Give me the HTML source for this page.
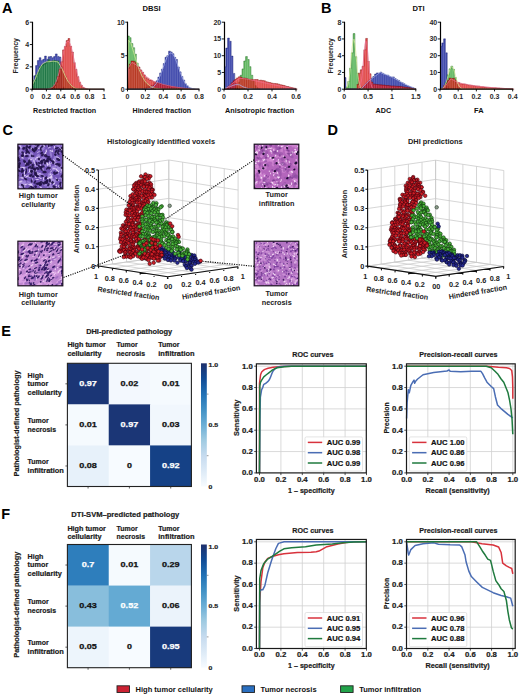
<!DOCTYPE html>
<html><head><meta charset="utf-8"><style>
html,body{margin:0;padding:0;background:#fff;}
svg{display:block;font-family:"Liberation Sans", sans-serif;}
</style></head><body>
<svg width="520" height="695" viewBox="0 0 520 695">
<rect width="520" height="695" fill="#fff"/>
<text x="2" y="13.22" font-size="14.5" font-weight="bold" text-anchor="start" fill="#000">A</text>
<text x="321" y="13.22" font-size="14.5" font-weight="bold" text-anchor="start" fill="#000">B</text>
<text x="2.5" y="134.72" font-size="14.5" font-weight="bold" text-anchor="start" fill="#000">C</text>
<text x="327.5" y="135.22" font-size="14.5" font-weight="bold" text-anchor="start" fill="#000">D</text>
<text x="1.3" y="336.22" font-size="14.5" font-weight="bold" text-anchor="start" fill="#000">E</text>
<text x="1.3" y="518.72" font-size="14.5" font-weight="bold" text-anchor="start" fill="#000">F</text>
<text x="151.5" y="10.54" font-size="7.6" font-weight="bold" text-anchor="middle" fill="#111">DBSI</text>
<text x="418.5" y="10.54" font-size="7.6" font-weight="bold" text-anchor="middle" fill="#111">DTI</text>
<polygon points="32,89.2 32,83.6 33.8,83.6 33.8,75.78 35.6,75.78 35.6,65.61 37.4,65.61 37.4,60.6 39.2,60.6 39.2,57.73 41,57.73 41,60.43 42.8,60.43 42.8,59.33 44.6,59.33 44.6,56.09 46.4,56.09 46.4,59.27 48.2,59.27 48.2,56.73 50,56.73 50,56.5 51.8,56.5 51.8,57.74 53.6,57.74 53.6,56.59 55.4,56.59 55.4,53.91 57.2,53.91 57.2,56.38 59,56.38 59,57.03 60.8,57.03 60.8,66.75 62.6,66.75 62.6,86.99 64.4,86.99 64.4,89.2" fill="rgb(48,58,166)" stroke="none" stroke-width="1" fill-opacity="0.94"/>
<polyline points="32,83.6 33.8,83.6 33.8,75.78 35.6,75.78 35.6,65.61 37.4,65.61 37.4,60.6 39.2,60.6 39.2,57.73 41,57.73 41,60.43 42.8,60.43 42.8,59.33 44.6,59.33 44.6,56.09 46.4,56.09 46.4,59.27 48.2,59.27 48.2,56.73 50,56.73 50,56.5 51.8,56.5 51.8,57.74 53.6,57.74 53.6,56.59 55.4,56.59 55.4,53.91 57.2,53.91 57.2,56.38 59,56.38 59,57.03 60.8,57.03 60.8,66.75 62.6,66.75 62.6,86.99 64.4,86.99" fill="none" stroke="#1c2270" stroke-width="0.55" stroke-opacity="0.8"/>
<path d="M33.8 84.2V89.2M35.6 76.38V89.2M37.4 66.21V89.2M39.2 61.2V89.2M41 58.33V89.2M42.8 61.03V89.2M44.6 59.93V89.2M46.4 56.69V89.2M48.2 59.87V89.2M50 57.33V89.2M51.8 57.1V89.2M53.6 58.34V89.2M55.4 57.19V89.2M57.2 54.51V89.2M59 56.98V89.2M60.8 57.63V89.2M62.6 67.35V89.2M64.4 87.59V89.2" stroke="#fff" stroke-width="0.45" stroke-opacity="0.42" fill="none"/>
<polygon points="32,89.2 32,83.85 33.8,83.85 33.8,80.1 35.6,80.1 35.6,75.03 37.4,75.03 37.4,72.31 39.2,72.31 39.2,66.78 41,66.78 41,65.53 42.8,65.53 42.8,64.08 44.6,64.08 44.6,63.1 46.4,63.1 46.4,61.79 48.2,61.79 48.2,59.79 50,59.79 50,61.95 51.8,61.95 51.8,60.87 53.6,60.87 53.6,60.53 55.4,60.53 55.4,60.89 57.2,60.89 57.2,60.94 59,60.94 59,65 60.8,65 60.8,68.97 62.6,68.97 62.6,72.64 64.4,72.64 64.4,75.87 66.2,75.87 66.2,79.72 68,79.72 68,82.65 69.8,82.65 69.8,84.69 71.6,84.69 71.6,86.48 73.4,86.48 73.4,87.73 75.2,87.73 75.2,88.56 77,88.56 77,89.2" fill="rgb(0,140,0)" stroke="none" stroke-width="1" fill-opacity="0.62"/>
<polyline points="32,83.85 33.8,83.85 33.8,80.1 35.6,80.1 35.6,75.03 37.4,75.03 37.4,72.31 39.2,72.31 39.2,66.78 41,66.78 41,65.53 42.8,65.53 42.8,64.08 44.6,64.08 44.6,63.1 46.4,63.1 46.4,61.79 48.2,61.79 48.2,59.79 50,59.79 50,61.95 51.8,61.95 51.8,60.87 53.6,60.87 53.6,60.53 55.4,60.53 55.4,60.89 57.2,60.89 57.2,60.94 59,60.94 59,65 60.8,65 60.8,68.97 62.6,68.97 62.6,72.64 64.4,72.64 64.4,75.87 66.2,75.87 66.2,79.72 68,79.72 68,82.65 69.8,82.65 69.8,84.69 71.6,84.69 71.6,86.48 73.4,86.48 73.4,87.73 75.2,87.73 75.2,88.56 77,88.56" fill="none" stroke="#1e6a1e" stroke-width="0.55" stroke-opacity="0.8"/>
<path d="M33.8 84.45V89.2M35.6 80.7V89.2M37.4 75.63V89.2M39.2 72.91V89.2M41 67.38V89.2M42.8 66.13V89.2M44.6 64.68V89.2M46.4 63.7V89.2M48.2 62.39V89.2M50 60.39V89.2M51.8 62.55V89.2M53.6 61.47V89.2M55.4 61.13V89.2M57.2 61.49V89.2M59 61.54V89.2M60.8 65.6V89.2M62.6 69.57V89.2M64.4 73.24V89.2M66.2 76.47V89.2M68 80.32V89.2M69.8 83.25V89.2M71.6 85.29V89.2M73.4 87.08V89.2M75.2 88.33V89.2M77 89.16V89.2" stroke="#fff" stroke-width="0.45" stroke-opacity="0.42" fill="none"/>
<polygon points="50,89.2 50,88.43 51.8,88.43 51.8,87.52 53.6,87.52 53.6,85.53 55.4,85.53 55.4,82.2 57.2,82.2 57.2,76.47 59,76.47 59,69.28 60.8,69.28 60.8,61.79 62.6,61.79 62.6,49.89 64.4,49.89 64.4,46.49 66.2,46.49 66.2,40.56 68,40.56 68,38.57 69.8,38.57 69.8,46.31 71.6,46.31 71.6,52.08 73.4,52.08 73.4,62.63 75.2,62.63 75.2,69.42 77,69.42 77,76.63 78.8,76.63 78.8,82.16 80.6,82.16 80.6,85.4 82.4,85.4 82.4,87.51 84.2,87.51 84.2,88.43 86,88.43 86,88.9 87.8,88.9 87.8,89.2" fill="rgb(212,0,0)" stroke="none" stroke-width="1" fill-opacity="0.72"/>
<polyline points="50,88.43 51.8,88.43 51.8,87.52 53.6,87.52 53.6,85.53 55.4,85.53 55.4,82.2 57.2,82.2 57.2,76.47 59,76.47 59,69.28 60.8,69.28 60.8,61.79 62.6,61.79 62.6,49.89 64.4,49.89 64.4,46.49 66.2,46.49 66.2,40.56 68,40.56 68,38.57 69.8,38.57 69.8,46.31 71.6,46.31 71.6,52.08 73.4,52.08 73.4,62.63 75.2,62.63 75.2,69.42 77,69.42 77,76.63 78.8,76.63 78.8,82.16 80.6,82.16 80.6,85.4 82.4,85.4 82.4,87.51 84.2,87.51 84.2,88.43 86,88.43 86,88.9 87.8,88.9" fill="none" stroke="#7a0a0a" stroke-width="0.55" stroke-opacity="0.8"/>
<path d="M51.8 89.03V89.2M53.6 88.12V89.2M55.4 86.13V89.2M57.2 82.8V89.2M59 77.07V89.2M60.8 69.88V89.2M62.6 62.39V89.2M64.4 50.49V89.2M66.2 47.09V89.2M68 41.16V89.2M69.8 39.17V89.2M71.6 46.91V89.2M73.4 52.68V89.2M75.2 63.23V89.2M77 70.02V89.2M78.8 77.23V89.2M80.6 82.76V89.2M82.4 86V89.2M84.2 88.11V89.2M86 89.03V89.2M87.8 89.5V89.2" stroke="#fff" stroke-width="0.45" stroke-opacity="0.42" fill="none"/>
<polyline points="32,89.2 32.9,84.31 33.8,82.22 34.7,80.13 35.6,78.03 36.5,75.8 37.4,73.57 38.3,71.33 39.2,69.1 40.1,67.7 41,66.31 41.9,64.91 42.8,63.52 43.7,63.1 44.6,62.68 45.5,62.26 46.4,61.84 47.3,61.77 48.2,61.7 49.1,61.63 50,61.56 50.9,61.49 51.8,61.42 52.7,61.35 53.6,61.28 54.5,61.4 55.4,61.52 56.3,61.63 57.2,61.75 58.1,62.14 59,63.66 59.9,65.17 60.8,66.68 61.7,68.19 62.6,69.94 63.5,72.03 64.4,74.12 65.3,76.15 66.2,77.89 67.1,79.64 68,81.38 68.9,82.5 69.8,83.62 70.7,84.73 71.6,85.85 72.5,86.46 73.4,87.08 74.3,87.69 75.2,88.31 76.1,88.53 77,88.75 77.9,88.98 78.8,89.2 79.7,89.2 80.6,89.2 81.5,89.2 82.4,89.2 83.3,89.2 84.2,89.2 85.1,89.2 86,89.2 86.9,89.2 87.8,89.2 88.7,89.2 89.6,89.2 90.5,89.2 91.4,89.2 92.3,89.2 93.2,89.2 94.1,89.2 95,89.2 95.9,89.2 96.8,89.2 97.7,89.2 98.6,89.2 99.5,89.2 100.4,89.2 101.3,89.2 102.2,89.2 103.1,89.2 104,89.2" fill="none" stroke="#d8ec9a" stroke-width="0.9" stroke-opacity="0.85" stroke-linejoin="round"/>
<polyline points="32,89.2 32.9,89.2 33.8,89.2 34.7,89.2 35.6,89.2 36.5,89.2 37.4,89.2 38.3,89.2 39.2,89.2 40.1,89.2 41,89.2 41.9,89.19 42.8,89.19 43.7,89.18 44.6,89.17 45.5,89.14 46.4,89.11 47.3,89.04 48.2,88.94 49.1,88.79 50,88.56 50.9,88.23 51.8,87.76 52.7,87.09 53.6,86.19 54.5,84.99 55.4,83.43 56.3,81.48 57.2,79.08 58.1,76.22 59,72.92 59.9,69.2 60.8,65.17 61.7,60.93 62.6,56.67 63.5,52.56 64.4,48.81 65.3,45.64 66.2,43.22 67.1,41.7 68,41.18 68.9,41.7 69.8,43.22 70.7,45.64 71.6,48.81 72.5,52.56 73.4,56.67 74.3,60.93 75.2,65.17 76.1,69.2 77,72.92 77.9,76.22 78.8,79.08 79.7,81.48 80.6,83.43 81.5,84.99 82.4,86.19 83.3,87.09 84.2,87.76 85.1,88.23 86,88.56 86.9,88.79 87.8,88.94 88.7,89.04 89.6,89.11 90.5,89.14 91.4,89.17 92.3,89.18 93.2,89.19 94.1,89.19 95,89.2 95.9,89.2 96.8,89.2 97.7,89.2 98.6,89.2 99.5,89.2 100.4,89.2 101.3,89.2 102.2,89.2 103.1,89.2 104,89.2" fill="none" stroke="#f07090" stroke-width="0.9" stroke-opacity="0.85" stroke-linejoin="round"/>
<line x1="32.5" y1="21.7" x2="32.5" y2="89.7" stroke="#000" stroke-width="1.2"/>
<line x1="32" y1="89.2" x2="104.5" y2="89.2" stroke="#000" stroke-width="1.2"/>
<line x1="32" y1="89.2" x2="32" y2="91.4" stroke="#000" stroke-width="0.9"/>
<text x="32" y="99.22" font-size="7" font-weight="bold" text-anchor="middle" fill="#2a2a2a">0</text>
<line x1="46.4" y1="89.2" x2="46.4" y2="91.4" stroke="#000" stroke-width="0.9"/>
<text x="46.4" y="99.22" font-size="7" font-weight="bold" text-anchor="middle" fill="#2a2a2a">0.2</text>
<line x1="60.8" y1="89.2" x2="60.8" y2="91.4" stroke="#000" stroke-width="0.9"/>
<text x="60.8" y="99.22" font-size="7" font-weight="bold" text-anchor="middle" fill="#2a2a2a">0.4</text>
<line x1="75.2" y1="89.2" x2="75.2" y2="91.4" stroke="#000" stroke-width="0.9"/>
<text x="75.2" y="99.22" font-size="7" font-weight="bold" text-anchor="middle" fill="#2a2a2a">0.6</text>
<line x1="89.6" y1="89.2" x2="89.6" y2="91.4" stroke="#000" stroke-width="0.9"/>
<text x="89.6" y="99.22" font-size="7" font-weight="bold" text-anchor="middle" fill="#2a2a2a">0.8</text>
<line x1="104" y1="89.2" x2="104" y2="91.4" stroke="#000" stroke-width="0.9"/>
<text x="104" y="99.22" font-size="7" font-weight="bold" text-anchor="middle" fill="#2a2a2a">1</text>
<line x1="29.8" y1="89.2" x2="32" y2="89.2" stroke="#000" stroke-width="0.9"/>
<text x="29.2" y="91.72" font-size="7" font-weight="bold" text-anchor="end" fill="#2a2a2a">0</text>
<line x1="29.8" y1="66.87" x2="32" y2="66.87" stroke="#000" stroke-width="0.9"/>
<text x="29.2" y="69.39" font-size="7" font-weight="bold" text-anchor="end" fill="#2a2a2a">2</text>
<line x1="29.8" y1="44.53" x2="32" y2="44.53" stroke="#000" stroke-width="0.9"/>
<text x="29.2" y="47.05" font-size="7" font-weight="bold" text-anchor="end" fill="#2a2a2a">4</text>
<line x1="29.8" y1="22.2" x2="32" y2="22.2" stroke="#000" stroke-width="0.9"/>
<text x="29.2" y="24.72" font-size="7" font-weight="bold" text-anchor="end" fill="#2a2a2a">6</text>
<text x="64.6" y="112.93" font-size="7.3" font-weight="bold" text-anchor="middle" fill="#111" textLength="63.1" lengthAdjust="spacingAndGlyphs">Restricted fraction</text>
<text x="15.7" y="58.22" font-size="7" font-weight="bold" text-anchor="middle" fill="#222" transform="rotate(-90 15.7 55.7)">Frequency</text>
<polygon points="141.8,89.2 141.8,88.66 143.59,88.66 143.59,88.13 145.38,88.13 145.38,87.39 147.16,87.39 147.16,86.63 148.95,86.63 148.95,85.91 150.74,85.91 150.74,85.42 152.53,85.42 152.53,84.9 154.31,84.9 154.31,83.06 156.1,83.06 156.1,80.8 157.89,80.8 157.89,77.06 159.68,77.06 159.68,72.95 161.46,72.95 161.46,69.13 163.25,69.13 163.25,63.52 165.04,63.52 165.04,57.26 166.82,57.26 166.82,55.65 168.61,55.65 168.61,51.14 170.4,51.14 170.4,51.95 172.19,51.95 172.19,53.75 173.97,53.75 173.97,57.36 175.76,57.36 175.76,59.53 177.55,59.53 177.55,66.97 179.34,66.97 179.34,71.87 181.12,71.87 181.12,76.42 182.91,76.42 182.91,80.01 184.7,80.01 184.7,83.86 186.49,83.86 186.49,85.87 188.28,85.87 188.28,87.41 190.06,87.41 190.06,88.29 191.85,88.29 191.85,88.75 193.64,88.75 193.64,88.99 195.43,88.99 195.43,89.2" fill="rgb(48,58,166)" stroke="none" stroke-width="1" fill-opacity="0.94"/>
<polyline points="141.8,88.66 143.59,88.66 143.59,88.13 145.38,88.13 145.38,87.39 147.16,87.39 147.16,86.63 148.95,86.63 148.95,85.91 150.74,85.91 150.74,85.42 152.53,85.42 152.53,84.9 154.31,84.9 154.31,83.06 156.1,83.06 156.1,80.8 157.89,80.8 157.89,77.06 159.68,77.06 159.68,72.95 161.46,72.95 161.46,69.13 163.25,69.13 163.25,63.52 165.04,63.52 165.04,57.26 166.82,57.26 166.82,55.65 168.61,55.65 168.61,51.14 170.4,51.14 170.4,51.95 172.19,51.95 172.19,53.75 173.97,53.75 173.97,57.36 175.76,57.36 175.76,59.53 177.55,59.53 177.55,66.97 179.34,66.97 179.34,71.87 181.12,71.87 181.12,76.42 182.91,76.42 182.91,80.01 184.7,80.01 184.7,83.86 186.49,83.86 186.49,85.87 188.28,85.87 188.28,87.41 190.06,87.41 190.06,88.29 191.85,88.29 191.85,88.75 193.64,88.75 193.64,88.99 195.43,88.99" fill="none" stroke="#1c2270" stroke-width="0.55" stroke-opacity="0.8"/>
<path d="M143.59 89.26V89.2M145.38 88.73V89.2M147.16 87.99V89.2M148.95 87.23V89.2M150.74 86.51V89.2M152.53 86.02V89.2M154.31 85.5V89.2M156.1 83.66V89.2M157.89 81.4V89.2M159.68 77.66V89.2M161.46 73.55V89.2M163.25 69.73V89.2M165.04 64.12V89.2M166.82 57.86V89.2M168.61 56.25V89.2M170.4 51.74V89.2M172.19 52.55V89.2M173.97 54.35V89.2M175.76 57.96V89.2M177.55 60.13V89.2M179.34 67.57V89.2M181.12 72.47V89.2M182.91 77.02V89.2M184.7 80.61V89.2M186.49 84.46V89.2M188.28 86.47V89.2M190.06 88.01V89.2M191.85 88.89V89.2M193.64 89.35V89.2M195.43 89.59V89.2" stroke="#fff" stroke-width="0.45" stroke-opacity="0.42" fill="none"/>
<polygon points="127.5,89.2 127.5,36.03 129.29,36.03 129.29,37.65 131.07,37.65 131.07,43.58 132.86,43.58 132.86,47.72 134.65,47.72 134.65,54.17 136.44,54.17 136.44,63.13 138.22,63.13 138.22,68.99 140.01,68.99 140.01,73.42 141.8,73.42 141.8,77.26 143.59,77.26 143.59,80.22 145.38,80.22 145.38,82.71 147.16,82.71 147.16,84.98 148.95,84.98 148.95,86.52 150.74,86.52 150.74,87.38 152.53,87.38 152.53,88.21 154.31,88.21 154.31,88.86 156.1,88.86 156.1,89.2" fill="rgb(0,140,0)" stroke="none" stroke-width="1" fill-opacity="0.62"/>
<polyline points="127.5,36.03 129.29,36.03 129.29,37.65 131.07,37.65 131.07,43.58 132.86,43.58 132.86,47.72 134.65,47.72 134.65,54.17 136.44,54.17 136.44,63.13 138.22,63.13 138.22,68.99 140.01,68.99 140.01,73.42 141.8,73.42 141.8,77.26 143.59,77.26 143.59,80.22 145.38,80.22 145.38,82.71 147.16,82.71 147.16,84.98 148.95,84.98 148.95,86.52 150.74,86.52 150.74,87.38 152.53,87.38 152.53,88.21 154.31,88.21 154.31,88.86 156.1,88.86" fill="none" stroke="#1e6a1e" stroke-width="0.55" stroke-opacity="0.8"/>
<path d="M129.29 36.63V89.2M131.07 38.25V89.2M132.86 44.18V89.2M134.65 48.32V89.2M136.44 54.77V89.2M138.22 63.73V89.2M140.01 69.59V89.2M141.8 74.02V89.2M143.59 77.86V89.2M145.38 80.82V89.2M147.16 83.31V89.2M148.95 85.58V89.2M150.74 87.12V89.2M152.53 87.98V89.2M154.31 88.81V89.2M156.1 89.46V89.2" stroke="#fff" stroke-width="0.45" stroke-opacity="0.42" fill="none"/>
<polygon points="127.5,89.2 127.5,68.22 129.29,68.22 129.29,63.99 131.07,63.99 131.07,61.01 132.86,61.01 132.86,61.12 134.65,61.12 134.65,62.16 136.44,62.16 136.44,66.18 138.22,66.18 138.22,66.95 140.01,66.95 140.01,69.91 141.8,69.91 141.8,72.29 143.59,72.29 143.59,74.95 145.38,74.95 145.38,77.65 147.16,77.65 147.16,78.78 148.95,78.78 148.95,80.05 150.74,80.05 150.74,80.35 152.53,80.35 152.53,81.58 154.31,81.58 154.31,82.21 156.1,82.21 156.1,82.73 157.89,82.73 157.89,83.41 159.68,83.41 159.68,83.81 161.46,83.81 161.46,84.51 163.25,84.51 163.25,84.98 165.04,84.98 165.04,85.28 166.82,85.28 166.82,85.69 168.61,85.69 168.61,85.97 170.4,85.97 170.4,86.48 172.19,86.48 172.19,86.54 173.97,86.54 173.97,86.89 175.76,86.89 175.76,87.27 177.55,87.27 177.55,87.51 179.34,87.51 179.34,87.75 181.12,87.75 181.12,88.01 182.91,88.01 182.91,88.3 184.7,88.3 184.7,88.5 186.49,88.5 186.49,88.77 188.28,88.77 188.28,89.2" fill="rgb(212,0,0)" stroke="none" stroke-width="1" fill-opacity="0.72"/>
<polyline points="127.5,68.22 129.29,68.22 129.29,63.99 131.07,63.99 131.07,61.01 132.86,61.01 132.86,61.12 134.65,61.12 134.65,62.16 136.44,62.16 136.44,66.18 138.22,66.18 138.22,66.95 140.01,66.95 140.01,69.91 141.8,69.91 141.8,72.29 143.59,72.29 143.59,74.95 145.38,74.95 145.38,77.65 147.16,77.65 147.16,78.78 148.95,78.78 148.95,80.05 150.74,80.05 150.74,80.35 152.53,80.35 152.53,81.58 154.31,81.58 154.31,82.21 156.1,82.21 156.1,82.73 157.89,82.73 157.89,83.41 159.68,83.41 159.68,83.81 161.46,83.81 161.46,84.51 163.25,84.51 163.25,84.98 165.04,84.98 165.04,85.28 166.82,85.28 166.82,85.69 168.61,85.69 168.61,85.97 170.4,85.97 170.4,86.48 172.19,86.48 172.19,86.54 173.97,86.54 173.97,86.89 175.76,86.89 175.76,87.27 177.55,87.27 177.55,87.51 179.34,87.51 179.34,87.75 181.12,87.75 181.12,88.01 182.91,88.01 182.91,88.3 184.7,88.3 184.7,88.5 186.49,88.5 186.49,88.77 188.28,88.77" fill="none" stroke="#7a0a0a" stroke-width="0.55" stroke-opacity="0.8"/>
<path d="M129.29 68.82V89.2M131.07 64.59V89.2M132.86 61.61V89.2M134.65 61.72V89.2M136.44 62.76V89.2M138.22 66.78V89.2M140.01 67.55V89.2M141.8 70.51V89.2M143.59 72.89V89.2M145.38 75.55V89.2M147.16 78.25V89.2M148.95 79.38V89.2M150.74 80.65V89.2M152.53 80.95V89.2M154.31 82.18V89.2M156.1 82.81V89.2M157.89 83.33V89.2M159.68 84.01V89.2M161.46 84.41V89.2M163.25 85.11V89.2M165.04 85.58V89.2M166.82 85.88V89.2M168.61 86.29V89.2M170.4 86.57V89.2M172.19 87.08V89.2M173.97 87.14V89.2M175.76 87.49V89.2M177.55 87.87V89.2M179.34 88.11V89.2M181.12 88.35V89.2M182.91 88.61V89.2M184.7 88.9V89.2M186.49 89.1V89.2M188.28 89.37V89.2" stroke="#fff" stroke-width="0.45" stroke-opacity="0.42" fill="none"/>
<polyline points="127.5,89.2 128.39,40.12 129.29,41.3 130.18,42.47 131.07,43.64 131.97,46.66 132.86,49.67 133.76,52.69 134.65,55.7 135.54,58.55 136.44,61.4 137.33,64.24 138.22,67.09 139.12,69.27 140.01,71.45 140.91,73.62 141.8,75.8 142.69,77.31 143.59,78.81 144.48,80.32 145.38,81.83 146.27,82.63 147.16,83.44 148.06,84.24 148.95,85.05 149.84,85.85 150.74,86.32 151.63,86.79 152.53,87.26 153.42,87.73 154.31,88.2 155.21,88.3 156.1,88.4 156.99,88.5 157.89,88.6 158.78,88.7 159.68,88.8 160.57,88.9 161.46,89 162.36,89.1 163.25,89.2 164.14,89.2 165.04,89.2 165.93,89.2 166.82,89.2 167.72,89.2 168.61,89.2 169.51,89.2 170.4,89.2 171.29,89.2 172.19,89.2 173.08,89.2 173.97,89.2 174.87,89.2 175.76,89.2 176.66,89.2 177.55,89.2 178.44,89.2 179.34,89.2 180.23,89.2 181.12,89.2 182.02,89.2 182.91,89.2 183.81,89.2 184.7,89.2 185.59,89.2 186.49,89.2 187.38,89.2 188.28,89.2 189.17,89.2 190.06,89.2 190.96,89.2 191.85,89.2 192.74,89.2 193.64,89.2 194.53,89.2 195.43,89.2 196.32,89.2 197.21,89.2 198.11,89.2 199,89.2" fill="none" stroke="#d8ec9a" stroke-width="0.9" stroke-opacity="0.85" stroke-linejoin="round"/>
<polyline points="127.5,89.2 128.39,67.76 129.29,66.42 130.18,65.08 131.07,63.74 131.97,62.4 132.86,62.94 133.76,63.47 134.65,64.01 135.54,64.54 136.44,65.08 137.33,66.15 138.22,67.22 139.12,68.3 140.01,69.37 140.91,70.44 141.8,71.51 142.69,72.58 143.59,73.66 144.48,74.73 145.38,75.8 146.27,76.47 147.16,77.14 148.06,77.81 148.95,78.48 149.84,79.15 150.74,79.62 151.63,80.09 152.53,80.56 153.42,81.03 154.31,81.5 155.21,81.8 156.1,82.1 156.99,82.4 157.89,82.7 158.78,83 159.68,83.3 160.57,83.61 161.46,83.91 162.36,84.21 163.25,84.51 164.14,84.71 165.04,84.91 165.93,85.11 166.82,85.31 167.72,85.52 168.61,85.72 169.51,85.92 170.4,86.12 171.29,86.32 172.19,86.52 173.08,86.65 173.97,86.79 174.87,86.92 175.76,87.06 176.66,87.19 177.55,87.32 178.44,87.46 179.34,87.59 180.23,87.73 181.12,87.86 182.02,87.96 182.91,88.06 183.81,88.16 184.7,88.26 185.59,88.36 186.49,88.46 187.38,88.56 188.28,88.66 189.17,88.76 190.06,89.2 190.96,89.2 191.85,89.2 192.74,89.2 193.64,89.2 194.53,89.2 195.43,89.2 196.32,89.2 197.21,89.2 198.11,89.2 199,89.2" fill="none" stroke="#f07090" stroke-width="0.9" stroke-opacity="0.85" stroke-linejoin="round"/>
<polyline points="127.5,89.2 128.39,89.2 129.29,89.2 130.18,89.2 131.07,89.2 131.97,89.2 132.86,89.2 133.76,89.2 134.65,89.2 135.54,89.2 136.44,89.2 137.33,89.2 138.22,89.2 139.12,89.19 140.01,89.19 140.91,89.18 141.8,89.18 142.69,89.16 143.59,89.14 144.48,89.11 145.38,89.07 146.27,89.01 147.16,88.92 148.06,88.8 148.95,88.63 149.84,88.41 150.74,88.11 151.63,87.72 152.53,87.23 153.42,86.6 154.31,85.81 155.21,84.85 156.1,83.7 156.99,82.34 157.89,80.76 158.78,78.95 159.68,76.93 160.57,74.71 161.46,72.33 162.36,69.83 163.25,67.26 164.14,64.69 165.04,62.19 165.93,59.85 166.82,57.75 167.72,55.96 168.61,54.55 169.51,53.58 170.4,53.08 171.29,53.08 172.19,53.58 173.08,54.55 173.97,55.96 174.87,57.75 175.76,59.85 176.66,62.19 177.55,64.69 178.44,67.26 179.34,69.83 180.23,72.33 181.12,74.71 182.02,76.93 182.91,78.95 183.81,80.76 184.7,82.34 185.59,83.7 186.49,84.85 187.38,85.81 188.28,86.6 189.17,87.23 190.06,87.72 190.96,88.11 191.85,88.41 192.74,88.63 193.64,88.8 194.53,88.92 195.43,89.01 196.32,89.07 197.21,89.11 198.11,89.14 199,89.16" fill="none" stroke="#a8b4f0" stroke-width="0.9" stroke-opacity="0.85" stroke-linejoin="round"/>
<line x1="127.5" y1="21.7" x2="127.5" y2="89.7" stroke="#000" stroke-width="1.2"/>
<line x1="127" y1="89.2" x2="199.5" y2="89.2" stroke="#000" stroke-width="1.2"/>
<line x1="127.5" y1="89.2" x2="127.5" y2="91.4" stroke="#000" stroke-width="0.9"/>
<text x="127.5" y="99.22" font-size="7" font-weight="bold" text-anchor="middle" fill="#2a2a2a">0</text>
<line x1="145.38" y1="89.2" x2="145.38" y2="91.4" stroke="#000" stroke-width="0.9"/>
<text x="145.38" y="99.22" font-size="7" font-weight="bold" text-anchor="middle" fill="#2a2a2a">0.2</text>
<line x1="163.25" y1="89.2" x2="163.25" y2="91.4" stroke="#000" stroke-width="0.9"/>
<text x="163.25" y="99.22" font-size="7" font-weight="bold" text-anchor="middle" fill="#2a2a2a">0.4</text>
<line x1="181.12" y1="89.2" x2="181.12" y2="91.4" stroke="#000" stroke-width="0.9"/>
<text x="181.12" y="99.22" font-size="7" font-weight="bold" text-anchor="middle" fill="#2a2a2a">0.6</text>
<line x1="199" y1="89.2" x2="199" y2="91.4" stroke="#000" stroke-width="0.9"/>
<text x="199" y="99.22" font-size="7" font-weight="bold" text-anchor="middle" fill="#2a2a2a">0.8</text>
<line x1="125.3" y1="89.2" x2="127.5" y2="89.2" stroke="#000" stroke-width="0.9"/>
<text x="124.7" y="91.72" font-size="7" font-weight="bold" text-anchor="end" fill="#2a2a2a">0</text>
<line x1="125.3" y1="55.7" x2="127.5" y2="55.7" stroke="#000" stroke-width="0.9"/>
<text x="124.7" y="58.22" font-size="7" font-weight="bold" text-anchor="end" fill="#2a2a2a">5</text>
<line x1="125.3" y1="22.2" x2="127.5" y2="22.2" stroke="#000" stroke-width="0.9"/>
<text x="124.7" y="24.72" font-size="7" font-weight="bold" text-anchor="end" fill="#2a2a2a">10</text>
<text x="161.8" y="112.93" font-size="7.3" font-weight="bold" text-anchor="middle" fill="#111" textLength="58.5" lengthAdjust="spacingAndGlyphs">Hindered fraction</text>
<polygon points="224,89.2 224,66.65 225.8,66.65 225.8,48.06 227.6,48.06 227.6,38.08 229.4,38.08 229.4,41.27 231.2,41.27 231.2,56.08 233,56.08 233,73.43 234.8,73.43 234.8,83.38 236.6,83.38 236.6,87.87 238.4,87.87 238.4,88.97 240.2,88.97 240.2,89.2" fill="rgb(48,58,166)" stroke="none" stroke-width="1" fill-opacity="0.94"/>
<polyline points="224,66.65 225.8,66.65 225.8,48.06 227.6,48.06 227.6,38.08 229.4,38.08 229.4,41.27 231.2,41.27 231.2,56.08 233,56.08 233,73.43 234.8,73.43 234.8,83.38 236.6,83.38 236.6,87.87 238.4,87.87 238.4,88.97 240.2,88.97" fill="none" stroke="#1c2270" stroke-width="0.55" stroke-opacity="0.8"/>
<path d="M225.8 67.25V89.2M227.6 48.66V89.2M229.4 38.68V89.2M231.2 41.87V89.2M233 56.68V89.2M234.8 74.03V89.2M236.6 83.98V89.2M238.4 88.47V89.2M240.2 89.57V89.2" stroke="#fff" stroke-width="0.45" stroke-opacity="0.42" fill="none"/>
<polygon points="234.8,89.2 234.8,87.82 236.6,87.82 236.6,85.77 238.4,85.77 238.4,82.01 240.2,82.01 240.2,75.26 242,75.26 242,68.9 243.8,68.9 243.8,61.01 245.6,61.01 245.6,56.61 247.4,56.61 247.4,59.54 249.2,59.54 249.2,66.65 251,66.65 251,75.26 252.8,75.26 252.8,81.46 254.6,81.46 254.6,85.72 256.4,85.72 256.4,87.75 258.2,87.75 258.2,88.74 260,88.74 260,89.2" fill="rgb(0,140,0)" stroke="none" stroke-width="1" fill-opacity="0.62"/>
<polyline points="234.8,87.82 236.6,87.82 236.6,85.77 238.4,85.77 238.4,82.01 240.2,82.01 240.2,75.26 242,75.26 242,68.9 243.8,68.9 243.8,61.01 245.6,61.01 245.6,56.61 247.4,56.61 247.4,59.54 249.2,59.54 249.2,66.65 251,66.65 251,75.26 252.8,75.26 252.8,81.46 254.6,81.46 254.6,85.72 256.4,85.72 256.4,87.75 258.2,87.75 258.2,88.74 260,88.74" fill="none" stroke="#1e6a1e" stroke-width="0.55" stroke-opacity="0.8"/>
<path d="M236.6 88.42V89.2M238.4 86.37V89.2M240.2 82.61V89.2M242 75.86V89.2M243.8 69.5V89.2M245.6 61.61V89.2M247.4 57.21V89.2M249.2 60.14V89.2M251 67.25V89.2M252.8 75.86V89.2M254.6 82.06V89.2M256.4 86.32V89.2M258.2 88.35V89.2M260 89.34V89.2" stroke="#fff" stroke-width="0.45" stroke-opacity="0.42" fill="none"/>
<polygon points="225.8,89.2 225.8,87.9 227.6,87.9 227.6,86.49 229.4,86.49 229.4,85.02 231.2,85.02 231.2,82.8 233,82.8 233,80.78 234.8,80.78 234.8,79.34 236.6,79.34 236.6,77.91 238.4,77.91 238.4,76.85 240.2,76.85 240.2,77.08 242,77.08 242,78.13 243.8,78.13 243.8,78 245.6,78 245.6,78.46 247.4,78.46 247.4,79.13 249.2,79.13 249.2,79.42 251,79.42 251,79.4 252.8,79.4 252.8,79.72 254.6,79.72 254.6,79.52 256.4,79.52 256.4,79.54 258.2,79.54 258.2,80.4 260,80.4 260,80.19 261.8,80.19 261.8,80.46 263.6,80.46 263.6,80.81 265.4,80.81 265.4,81.69 267.2,81.69 267.2,82.21 269,82.21 269,82.59 270.8,82.59 270.8,83 272.6,83 272.6,83.38 274.4,83.38 274.4,83.49 276.2,83.49 276.2,83.72 278,83.72 278,84.18 279.8,84.18 279.8,84.79 281.6,84.79 281.6,85.11 283.4,85.11 283.4,85.47 285.2,85.47 285.2,86.26 287,86.26 287,86.55 288.8,86.55 288.8,87 290.6,87 290.6,87.47 292.4,87.47 292.4,87.89 294.2,87.89 294.2,88.33 296,88.33 296,89.04 297.44,89.04 297.44,89.2" fill="rgb(212,0,0)" stroke="none" stroke-width="1" fill-opacity="0.72"/>
<polyline points="225.8,87.9 227.6,87.9 227.6,86.49 229.4,86.49 229.4,85.02 231.2,85.02 231.2,82.8 233,82.8 233,80.78 234.8,80.78 234.8,79.34 236.6,79.34 236.6,77.91 238.4,77.91 238.4,76.85 240.2,76.85 240.2,77.08 242,77.08 242,78.13 243.8,78.13 243.8,78 245.6,78 245.6,78.46 247.4,78.46 247.4,79.13 249.2,79.13 249.2,79.42 251,79.42 251,79.4 252.8,79.4 252.8,79.72 254.6,79.72 254.6,79.52 256.4,79.52 256.4,79.54 258.2,79.54 258.2,80.4 260,80.4 260,80.19 261.8,80.19 261.8,80.46 263.6,80.46 263.6,80.81 265.4,80.81 265.4,81.69 267.2,81.69 267.2,82.21 269,82.21 269,82.59 270.8,82.59 270.8,83 272.6,83 272.6,83.38 274.4,83.38 274.4,83.49 276.2,83.49 276.2,83.72 278,83.72 278,84.18 279.8,84.18 279.8,84.79 281.6,84.79 281.6,85.11 283.4,85.11 283.4,85.47 285.2,85.47 285.2,86.26 287,86.26 287,86.55 288.8,86.55 288.8,87 290.6,87 290.6,87.47 292.4,87.47 292.4,87.89 294.2,87.89 294.2,88.33 296,88.33 296,89.04 297.44,89.04" fill="none" stroke="#7a0a0a" stroke-width="0.55" stroke-opacity="0.8"/>
<path d="M227.6 88.5V89.2M229.4 87.09V89.2M231.2 85.62V89.2M233 83.4V89.2M234.8 81.38V89.2M236.6 79.94V89.2M238.4 78.51V89.2M240.2 77.45V89.2M242 77.68V89.2M243.8 78.73V89.2M245.6 78.6V89.2M247.4 79.06V89.2M249.2 79.73V89.2M251 80.02V89.2M252.8 80V89.2M254.6 80.32V89.2M256.4 80.12V89.2M258.2 80.14V89.2M260 81V89.2M261.8 80.79V89.2M263.6 81.06V89.2M265.4 81.41V89.2M267.2 82.29V89.2M269 82.81V89.2M270.8 83.19V89.2M272.6 83.6V89.2M274.4 83.98V89.2M276.2 84.09V89.2M278 84.32V89.2M279.8 84.78V89.2M281.6 85.39V89.2M283.4 85.71V89.2M285.2 86.07V89.2M287 86.86V89.2M288.8 87.15V89.2M290.6 87.6V89.2M292.4 88.07V89.2M294.2 88.49V89.2M296 88.93V89.2M297.8 89.64V89.2" stroke="#fff" stroke-width="0.45" stroke-opacity="0.42" fill="none"/>
<polyline points="224,89.2 224.9,88.23 225.8,87.93 226.7,87.63 227.6,87.32 228.5,87.02 229.4,86.72 230.3,86.41 231.2,86.07 232.1,85.74 233,85.4 233.9,85.1 234.8,84.84 235.7,84.59 236.6,84.57 237.5,84.65 238.4,84.73 239.3,84.82 240.2,85.18 241.1,85.68 242,86.19 242.9,86.69 243.8,87.06 244.7,87.38 245.6,87.69 246.5,88.01 247.4,88.32 248.3,88.56 249.2,88.66 250.1,88.76 251,88.87 251.9,88.97 252.8,89.07 253.7,89.17 254.6,89.2 255.5,89.2 256.4,89.2 257.3,89.2 258.2,89.2 259.1,89.2 260,89.2 260.9,89.2 261.8,89.2 262.7,89.2 263.6,89.2 264.5,89.2 265.4,89.2 266.3,89.2 267.2,89.2 268.1,89.2 269,89.2 269.9,89.2 270.8,89.2 271.7,89.2 272.6,89.2 273.5,89.2 274.4,89.2 275.3,89.2 276.2,89.2 277.1,89.2 278,89.2 278.9,89.2 279.8,89.2 280.7,89.2 281.6,89.2 282.5,89.2 283.4,89.2 284.3,89.2 285.2,89.2 286.1,89.2 287,89.2 287.9,89.2 288.8,89.2 289.7,89.2 290.6,89.2 291.5,89.2 292.4,89.2 293.3,89.2 294.2,89.2 295.1,89.2 296,89.2" fill="none" stroke="#a8b4f0" stroke-width="0.9" stroke-opacity="0.85" stroke-linejoin="round"/>
<polyline points="224,89.2 224.9,89.2 225.8,89.2 226.7,87.96 227.6,87.25 228.5,86.53 229.4,85.82 230.3,85.11 231.2,84.4 232.1,83.69 233,82.97 233.9,82.28 234.8,81.63 235.7,80.98 236.6,80.32 237.5,79.67 238.4,79.02 239.3,78.36 240.2,78.22 241.1,78.32 242,78.43 242.9,78.54 243.8,78.65 244.7,78.76 245.6,78.86 246.5,78.97 247.4,79.08 248.3,79.22 249.2,79.42 250.1,79.62 251,79.82 251.9,80.02 252.8,80.22 253.7,80.42 254.6,80.62 255.5,80.83 256.4,81.03 257.3,81.23 258.2,81.43 259.1,81.63 260,81.83 260.9,82.03 261.8,82.23 262.7,82.43 263.6,82.63 264.5,82.84 265.4,83.04 266.3,83.24 267.2,83.44 268.1,83.64 269,83.84 269.9,84.04 270.8,84.24 271.7,84.44 272.6,84.63 273.5,84.8 274.4,84.98 275.3,85.15 276.2,85.33 277.1,85.51 278,85.68 278.9,85.86 279.8,86.03 280.7,86.21 281.6,86.39 282.5,86.56 283.4,86.74 284.3,86.91 285.2,87.06 286.1,87.21 287,87.36 287.9,87.51 288.8,87.66 289.7,87.81 290.6,87.96 291.5,88.11 292.4,88.26 293.3,88.41 294.2,88.56 295.1,88.71 296,89.2" fill="none" stroke="#f07090" stroke-width="0.9" stroke-opacity="0.85" stroke-linejoin="round"/>
<line x1="224.5" y1="21.7" x2="224.5" y2="89.7" stroke="#000" stroke-width="1.2"/>
<line x1="224" y1="89.2" x2="296.5" y2="89.2" stroke="#000" stroke-width="1.2"/>
<line x1="224" y1="89.2" x2="224" y2="91.4" stroke="#000" stroke-width="0.9"/>
<text x="224" y="99.22" font-size="7" font-weight="bold" text-anchor="middle" fill="#2a2a2a">0</text>
<line x1="248" y1="89.2" x2="248" y2="91.4" stroke="#000" stroke-width="0.9"/>
<text x="248" y="99.22" font-size="7" font-weight="bold" text-anchor="middle" fill="#2a2a2a">0.2</text>
<line x1="272" y1="89.2" x2="272" y2="91.4" stroke="#000" stroke-width="0.9"/>
<text x="272" y="99.22" font-size="7" font-weight="bold" text-anchor="middle" fill="#2a2a2a">0.4</text>
<line x1="296" y1="89.2" x2="296" y2="91.4" stroke="#000" stroke-width="0.9"/>
<text x="296" y="99.22" font-size="7" font-weight="bold" text-anchor="middle" fill="#2a2a2a">0.6</text>
<line x1="221.8" y1="89.2" x2="224" y2="89.2" stroke="#000" stroke-width="0.9"/>
<text x="221.2" y="91.72" font-size="7" font-weight="bold" text-anchor="end" fill="#2a2a2a">0</text>
<line x1="221.8" y1="72.45" x2="224" y2="72.45" stroke="#000" stroke-width="0.9"/>
<text x="221.2" y="74.97" font-size="7" font-weight="bold" text-anchor="end" fill="#2a2a2a">5</text>
<line x1="221.8" y1="55.7" x2="224" y2="55.7" stroke="#000" stroke-width="0.9"/>
<text x="221.2" y="58.22" font-size="7" font-weight="bold" text-anchor="end" fill="#2a2a2a">10</text>
<line x1="221.8" y1="38.95" x2="224" y2="38.95" stroke="#000" stroke-width="0.9"/>
<text x="221.2" y="41.47" font-size="7" font-weight="bold" text-anchor="end" fill="#2a2a2a">15</text>
<line x1="221.8" y1="22.2" x2="224" y2="22.2" stroke="#000" stroke-width="0.9"/>
<text x="221.2" y="24.72" font-size="7" font-weight="bold" text-anchor="end" fill="#2a2a2a">20</text>
<text x="259.6" y="112.93" font-size="7.3" font-weight="bold" text-anchor="middle" fill="#111" textLength="69" lengthAdjust="spacingAndGlyphs">Anisotropic fraction</text>
<polygon points="344.2,89.2 344.2,77.61 345.99,77.61 345.99,88.58 347.78,88.58 358.52,88.71 360.31,88.71 360.31,87.71 362.1,87.71 362.1,86.87 363.89,86.87 363.89,85.17 365.68,85.17 365.68,82.91 367.47,82.91 367.47,81.14 369.26,81.14 369.26,79.85 371.05,79.85 371.05,78.1 372.84,78.1 372.84,76.56 374.63,76.56 374.63,74.05 376.42,74.05 376.42,72.92 378.21,72.92 378.21,73.21 380,73.21 380,72.17 381.79,72.17 381.79,73.31 383.58,73.31 383.58,74.21 385.37,74.21 385.37,75.06 387.16,75.06 387.16,75.2 388.95,75.2 388.95,76.49 390.74,76.49 390.74,77.27 392.53,77.27 392.53,76.9 394.32,76.9 394.32,78.46 396.11,78.46 396.11,79.72 397.9,79.72 397.9,80.42 399.69,80.42 399.69,82.01 401.48,82.01 401.48,82.69 403.27,82.69 403.27,83.71 405.06,83.71 405.06,85.01 406.85,85.01 406.85,85.77 408.64,85.77 408.64,86.52 410.43,86.52 410.43,87.27 412.22,87.27 412.22,87.82 414.01,87.82 414.01,88.49 415.8,88.49 415.8,89.2" fill="rgb(48,58,166)" stroke="none" stroke-width="1" fill-opacity="0.94"/>
<polyline points="344.2,77.61 345.99,77.61 345.99,88.58 347.78,88.58 358.52,88.71 360.31,88.71 360.31,87.71 362.1,87.71 362.1,86.87 363.89,86.87 363.89,85.17 365.68,85.17 365.68,82.91 367.47,82.91 367.47,81.14 369.26,81.14 369.26,79.85 371.05,79.85 371.05,78.1 372.84,78.1 372.84,76.56 374.63,76.56 374.63,74.05 376.42,74.05 376.42,72.92 378.21,72.92 378.21,73.21 380,73.21 380,72.17 381.79,72.17 381.79,73.31 383.58,73.31 383.58,74.21 385.37,74.21 385.37,75.06 387.16,75.06 387.16,75.2 388.95,75.2 388.95,76.49 390.74,76.49 390.74,77.27 392.53,77.27 392.53,76.9 394.32,76.9 394.32,78.46 396.11,78.46 396.11,79.72 397.9,79.72 397.9,80.42 399.69,80.42 399.69,82.01 401.48,82.01 401.48,82.69 403.27,82.69 403.27,83.71 405.06,83.71 405.06,85.01 406.85,85.01 406.85,85.77 408.64,85.77 408.64,86.52 410.43,86.52 410.43,87.27 412.22,87.27 412.22,87.82 414.01,87.82 414.01,88.49 415.8,88.49" fill="none" stroke="#1c2270" stroke-width="0.55" stroke-opacity="0.8"/>
<path d="M345.99 78.21V89.2M347.78 89.18V89.2M360.31 89.31V89.2M362.1 88.31V89.2M363.89 87.47V89.2M365.68 85.77V89.2M367.47 83.51V89.2M369.26 81.74V89.2M371.05 80.45V89.2M372.84 78.7V89.2M374.63 77.16V89.2M376.42 74.65V89.2M378.21 73.52V89.2M380 73.81V89.2M381.79 72.77V89.2M383.58 73.91V89.2M385.37 74.81V89.2M387.16 75.66V89.2M388.95 75.8V89.2M390.74 77.09V89.2M392.53 77.87V89.2M394.32 77.5V89.2M396.11 79.06V89.2M397.9 80.32V89.2M399.69 81.02V89.2M401.48 82.61V89.2M403.27 83.29V89.2M405.06 84.31V89.2M406.85 85.61V89.2M408.64 86.37V89.2M410.43 87.12V89.2M412.22 87.87V89.2M414.01 88.42V89.2M415.8 89.09V89.2" stroke="#fff" stroke-width="0.45" stroke-opacity="0.42" fill="none"/>
<polygon points="345.99,89.2 345.99,87.04 347.78,87.04 347.78,81.52 349.57,81.52 349.57,68.21 351.36,68.21 351.36,52.81 353.15,52.81 353.15,33.61 354.94,33.61 354.94,56.65 356.73,56.65 356.73,73.04 358.52,73.04 358.52,83.82 360.31,83.82 360.31,87.84 362.1,87.84 362.1,89.2" fill="rgb(0,140,0)" stroke="none" stroke-width="1" fill-opacity="0.62"/>
<polyline points="345.99,87.04 347.78,87.04 347.78,81.52 349.57,81.52 349.57,68.21 351.36,68.21 351.36,52.81 353.15,52.81 353.15,33.61 354.94,33.61 354.94,56.65 356.73,56.65 356.73,73.04 358.52,73.04 358.52,83.82 360.31,83.82 360.31,87.84 362.1,87.84" fill="none" stroke="#1e6a1e" stroke-width="0.55" stroke-opacity="0.8"/>
<path d="M347.78 87.64V89.2M349.57 82.12V89.2M351.36 68.81V89.2M353.15 53.41V89.2M354.94 34.21V89.2M356.73 57.25V89.2M358.52 73.64V89.2M360.31 84.42V89.2M362.1 88.44V89.2" stroke="#fff" stroke-width="0.45" stroke-opacity="0.42" fill="none"/>
<polygon points="356.73,89.2 356.73,84.49 358.52,84.49 358.52,73.15 360.31,73.15 360.31,69.84 362.1,69.84 362.1,66.23 363.89,66.23 363.89,49.74 365.68,49.74 365.68,38.43 367.47,38.43 367.47,61.33 369.26,61.33 369.26,73.79 371.05,73.79 371.05,82.06 372.84,82.06 372.84,83.94 374.63,83.94 374.63,84.21 376.42,84.21 376.42,84.49 378.21,84.49 378.21,84.79 380,84.79 380,84.86 381.79,84.86 381.79,85.01 383.58,85.01 383.58,85.06 385.37,85.06 385.37,85.53 387.16,85.53 387.16,85.48 388.95,85.48 388.95,85.77 390.74,85.77 390.74,85.91 392.53,85.91 392.53,85.88 394.32,85.88 394.32,86.14 396.11,86.14 396.11,86.27 397.9,86.27 397.9,86.37 399.69,86.37 399.69,86.48 401.48,86.48 401.48,86.82 403.27,86.82 403.27,87.01 405.06,87.01 405.06,87.28 406.85,87.28 406.85,87.51 408.64,87.51 408.64,87.71 410.43,87.71 410.43,88 412.22,88 412.22,88.31 414.01,88.31 414.01,88.63 415.8,88.63 415.8,89.2" fill="rgb(212,0,0)" stroke="none" stroke-width="1" fill-opacity="0.72"/>
<polyline points="356.73,84.49 358.52,84.49 358.52,73.15 360.31,73.15 360.31,69.84 362.1,69.84 362.1,66.23 363.89,66.23 363.89,49.74 365.68,49.74 365.68,38.43 367.47,38.43 367.47,61.33 369.26,61.33 369.26,73.79 371.05,73.79 371.05,82.06 372.84,82.06 372.84,83.94 374.63,83.94 374.63,84.21 376.42,84.21 376.42,84.49 378.21,84.49 378.21,84.79 380,84.79 380,84.86 381.79,84.86 381.79,85.01 383.58,85.01 383.58,85.06 385.37,85.06 385.37,85.53 387.16,85.53 387.16,85.48 388.95,85.48 388.95,85.77 390.74,85.77 390.74,85.91 392.53,85.91 392.53,85.88 394.32,85.88 394.32,86.14 396.11,86.14 396.11,86.27 397.9,86.27 397.9,86.37 399.69,86.37 399.69,86.48 401.48,86.48 401.48,86.82 403.27,86.82 403.27,87.01 405.06,87.01 405.06,87.28 406.85,87.28 406.85,87.51 408.64,87.51 408.64,87.71 410.43,87.71 410.43,88 412.22,88 412.22,88.31 414.01,88.31 414.01,88.63 415.8,88.63" fill="none" stroke="#7a0a0a" stroke-width="0.55" stroke-opacity="0.8"/>
<path d="M358.52 85.09V89.2M360.31 73.75V89.2M362.1 70.44V89.2M363.89 66.83V89.2M365.68 50.34V89.2M367.47 39.03V89.2M369.26 61.93V89.2M371.05 74.39V89.2M372.84 82.66V89.2M374.63 84.54V89.2M376.42 84.81V89.2M378.21 85.09V89.2M380 85.39V89.2M381.79 85.46V89.2M383.58 85.61V89.2M385.37 85.66V89.2M387.16 86.13V89.2M388.95 86.08V89.2M390.74 86.37V89.2M392.53 86.51V89.2M394.32 86.48V89.2M396.11 86.74V89.2M397.9 86.87V89.2M399.69 86.97V89.2M401.48 87.08V89.2M403.27 87.42V89.2M405.06 87.61V89.2M406.85 87.88V89.2M408.64 88.11V89.2M410.43 88.31V89.2M412.22 88.6V89.2M414.01 88.91V89.2M415.8 89.23V89.2" stroke="#fff" stroke-width="0.45" stroke-opacity="0.42" fill="none"/>
<polyline points="344.2,89.13 345.09,88.98 345.99,88.56 346.88,87.55 347.78,85.4 348.68,81.42 349.57,75.02 350.46,66.19 351.36,55.96 352.25,46.44 353.15,40.23 354.05,39.27 354.94,43.88 355.83,52.58 356.73,62.85 357.62,72.32 358.52,79.58 359.41,84.31 360.31,86.99 361.2,88.31 362.1,88.88 363,89.1 363.89,89.17 364.78,89.19 365.68,89.2 366.57,89.2 367.47,89.2 368.37,89.2 369.26,89.2 370.15,89.2 371.05,89.2 371.94,89.2 372.84,89.2 373.74,89.2 374.63,89.2 375.52,89.2 376.42,89.2 377.31,89.2 378.21,89.2 379.11,89.2 380,89.2 380.89,89.2 381.79,89.2 382.69,89.2 383.58,89.2 384.48,89.2 385.37,89.2 386.26,89.2 387.16,89.2 388.06,89.2 388.95,89.2 389.85,89.2 390.74,89.2 391.63,89.2 392.53,89.2 393.43,89.2 394.32,89.2 395.22,89.2 396.11,89.2 397,89.2 397.9,89.2 398.8,89.2 399.69,89.2 400.58,89.2 401.48,89.2 402.38,89.2 403.27,89.2 404.17,89.2 405.06,89.2 405.95,89.2 406.85,89.2 407.75,89.2 408.64,89.2 409.54,89.2 410.43,89.2 411.33,89.2 412.22,89.2 413.12,89.2 414.01,89.2 414.91,89.2 415.8,89.2" fill="none" stroke="#d8ec9a" stroke-width="0.9" stroke-opacity="0.85" stroke-linejoin="round"/>
<polyline points="344.2,89.2 345.09,89.2 345.99,89.2 346.88,89.2 347.78,89.2 348.68,89.2 349.57,89.2 350.46,89.2 351.36,89.2 352.25,89.2 353.15,89.2 354.05,89.2 354.94,89.2 355.83,89.19 356.73,89.17 357.62,89.08 358.52,88.8 359.41,88.01 360.31,86.13 361.2,82.29 362.1,75.69 363,66.26 363.89,55.35 364.78,45.81 365.68,40.87 366.57,42.43 367.47,49.88 368.37,60.47 369.26,70.97 370.15,79.15 371.05,84.38 371.94,87.2 372.84,88.48 373.74,88.97 374.63,89.14 375.52,89.19 376.42,89.2 377.31,89.2 378.21,89.2 379.11,89.2 380,89.2 380.89,89.2 381.79,89.2 382.69,89.2 383.58,89.2 384.48,89.2 385.37,89.2 386.26,89.2 387.16,89.2 388.06,89.2 388.95,89.2 389.85,89.2 390.74,89.2 391.63,89.2 392.53,89.2 393.43,89.2 394.32,89.2 395.22,89.2 396.11,89.2 397,89.2 397.9,89.2 398.8,89.2 399.69,89.2 400.58,89.2 401.48,89.2 402.38,89.2 403.27,89.2 404.17,89.2 405.06,89.2 405.95,89.2 406.85,89.2 407.75,89.2 408.64,89.2 409.54,89.2 410.43,89.2 411.33,89.2 412.22,89.2 413.12,89.2 414.01,89.2 414.91,89.2 415.8,89.2" fill="none" stroke="#f07090" stroke-width="0.9" stroke-opacity="0.85" stroke-linejoin="round"/>
<polyline points="344.2,89.2 345.09,89.2 345.99,89.2 346.88,89.2 347.78,89.2 348.68,89.2 349.57,89.2 350.46,89.2 351.36,89.2 352.25,89.2 353.15,89.2 354.05,89.2 354.94,89.2 355.83,89.2 356.73,89.2 357.62,89.2 358.52,89.2 359.41,89.2 360.31,89.2 361.2,88.89 362.1,87.94 363,87 363.89,86.06 364.78,85.12 365.68,84.17 366.57,83.23 367.47,82.29 368.37,81.43 369.26,80.74 370.15,80.05 371.05,79.36 371.94,78.67 372.84,77.98 373.74,77.29 374.63,76.6 375.52,75.9 376.42,75.21 377.31,74.52 378.21,73.83 379.11,73.14 380,72.45 380.89,72.8 381.79,73.14 382.69,73.49 383.58,73.83 384.48,74.18 385.37,74.52 386.26,74.87 387.16,75.21 388.06,75.56 388.95,75.9 389.85,76.25 390.74,76.6 391.63,76.94 392.53,77.39 393.43,77.89 394.32,78.4 395.22,78.9 396.11,79.4 397,79.9 397.9,80.41 398.8,80.91 399.69,81.41 400.58,81.91 401.48,82.42 402.38,82.92 403.27,83.42 404.17,83.88 405.06,84.26 405.95,84.64 406.85,85.01 407.75,85.39 408.64,85.77 409.54,86.14 410.43,86.52 411.33,86.9 412.22,87.27 413.12,87.65 414.01,88.03 414.91,88.4 415.8,89.2" fill="none" stroke="#a8b4f0" stroke-width="0.9" stroke-opacity="0.85" stroke-linejoin="round"/>
<line x1="344.5" y1="21.7" x2="344.5" y2="89.7" stroke="#000" stroke-width="1.2"/>
<line x1="344" y1="89.2" x2="416.3" y2="89.2" stroke="#000" stroke-width="1.2"/>
<line x1="344.2" y1="89.2" x2="344.2" y2="91.4" stroke="#000" stroke-width="0.9"/>
<text x="344.2" y="99.22" font-size="7" font-weight="bold" text-anchor="middle" fill="#2a2a2a">0</text>
<line x1="368.07" y1="89.2" x2="368.07" y2="91.4" stroke="#000" stroke-width="0.9"/>
<text x="368.07" y="99.22" font-size="7" font-weight="bold" text-anchor="middle" fill="#2a2a2a">0.5</text>
<line x1="391.93" y1="89.2" x2="391.93" y2="91.4" stroke="#000" stroke-width="0.9"/>
<text x="391.93" y="99.22" font-size="7" font-weight="bold" text-anchor="middle" fill="#2a2a2a">1</text>
<line x1="415.8" y1="89.2" x2="415.8" y2="91.4" stroke="#000" stroke-width="0.9"/>
<text x="415.8" y="99.22" font-size="7" font-weight="bold" text-anchor="middle" fill="#2a2a2a">1.5</text>
<line x1="342" y1="89.2" x2="344.2" y2="89.2" stroke="#000" stroke-width="0.9"/>
<text x="341.4" y="91.72" font-size="7" font-weight="bold" text-anchor="end" fill="#2a2a2a">0</text>
<line x1="342" y1="72.45" x2="344.2" y2="72.45" stroke="#000" stroke-width="0.9"/>
<text x="341.4" y="74.97" font-size="7" font-weight="bold" text-anchor="end" fill="#2a2a2a">2</text>
<line x1="342" y1="55.7" x2="344.2" y2="55.7" stroke="#000" stroke-width="0.9"/>
<text x="341.4" y="58.22" font-size="7" font-weight="bold" text-anchor="end" fill="#2a2a2a">4</text>
<line x1="342" y1="38.95" x2="344.2" y2="38.95" stroke="#000" stroke-width="0.9"/>
<text x="341.4" y="41.47" font-size="7" font-weight="bold" text-anchor="end" fill="#2a2a2a">6</text>
<line x1="342" y1="22.2" x2="344.2" y2="22.2" stroke="#000" stroke-width="0.9"/>
<text x="341.4" y="24.72" font-size="7" font-weight="bold" text-anchor="end" fill="#2a2a2a">8</text>
<text x="383.3" y="112.93" font-size="7.3" font-weight="bold" text-anchor="middle" fill="#111" textLength="15.5" lengthAdjust="spacingAndGlyphs">ADC</text>
<text x="330" y="58.22" font-size="7" font-weight="bold" text-anchor="middle" fill="#222" transform="rotate(-90 330 55.7)">Frequency</text>
<polygon points="440,89.2 440,46.16 441.82,46.16 441.82,42.89 443.63,42.89 443.63,38.86 445.45,38.86 445.45,52.86 447.27,52.86 447.27,86.6 449.09,86.6 449.09,89.2" fill="rgb(48,58,166)" stroke="none" stroke-width="1" fill-opacity="0.94"/>
<polyline points="440,46.16 441.82,46.16 441.82,42.89 443.63,42.89 443.63,38.86 445.45,38.86 445.45,52.86 447.27,52.86 447.27,86.6 449.09,86.6" fill="none" stroke="#1c2270" stroke-width="0.55" stroke-opacity="0.8"/>
<path d="M441.82 46.76V89.2M443.63 43.49V89.2M445.45 39.46V89.2M447.27 53.46V89.2M449.09 87.2V89.2" stroke="#fff" stroke-width="0.45" stroke-opacity="0.42" fill="none"/>
<polygon points="443.63,89.2 443.63,86.88 445.45,86.88 445.45,82.26 447.27,82.26 447.27,74.82 449.09,74.82 449.09,68.84 450.91,68.84 450.91,66.21 452.72,66.21 452.72,69.33 454.54,69.33 454.54,77.61 456.36,77.61 456.36,83.9 458.18,83.9 458.18,87.49 459.99,87.49 459.99,88.76 461.81,88.76 461.81,89.2" fill="rgb(0,140,0)" stroke="none" stroke-width="1" fill-opacity="0.62"/>
<polyline points="443.63,86.88 445.45,86.88 445.45,82.26 447.27,82.26 447.27,74.82 449.09,74.82 449.09,68.84 450.91,68.84 450.91,66.21 452.72,66.21 452.72,69.33 454.54,69.33 454.54,77.61 456.36,77.61 456.36,83.9 458.18,83.9 458.18,87.49 459.99,87.49 459.99,88.76 461.81,88.76" fill="none" stroke="#1e6a1e" stroke-width="0.55" stroke-opacity="0.8"/>
<path d="M445.45 87.48V89.2M447.27 82.86V89.2M449.09 75.42V89.2M450.91 69.44V89.2M452.72 66.81V89.2M454.54 69.93V89.2M456.36 78.21V89.2M458.18 84.5V89.2M459.99 88.09V89.2M461.81 89.36V89.2" stroke="#fff" stroke-width="0.45" stroke-opacity="0.42" fill="none"/>
<polygon points="441.82,89.2 441.82,87.9 443.63,87.9 443.63,85.4 445.45,85.4 445.45,83.58 447.27,83.58 447.27,80.32 449.09,80.32 449.09,78.1 450.91,78.1 450.91,78.4 452.72,78.4 452.72,78.34 454.54,78.34 454.54,79.88 456.36,79.88 456.36,82.24 458.18,82.24 458.18,82.75 459.99,82.75 459.99,83.66 461.81,83.66 461.81,83.99 463.63,83.99 463.63,83.97 465.44,83.97 465.44,84.35 467.26,84.35 467.26,85 469.08,85 469.08,85.13 470.9,85.13 470.9,85.37 472.72,85.37 472.72,85.7 474.53,85.7 474.53,85.97 476.35,85.97 476.35,86.14 478.17,86.14 478.17,86.23 479.99,86.23 479.99,86.71 481.8,86.71 481.8,86.8 483.62,86.8 483.62,87.08 485.44,87.08 485.44,87.37 487.26,87.37 487.26,87.43 489.07,87.43 489.07,87.5 490.89,87.5 490.89,87.66 492.71,87.66 492.71,87.87 494.53,87.87 494.53,87.84 496.34,87.84 496.34,88 498.16,88 498.16,88.09 499.98,88.09 499.98,88.31 501.8,88.31 501.8,88.41 503.61,88.41 503.61,88.53 505.43,88.53 505.43,88.55 507.25,88.55 507.25,88.67 509.07,88.67 509.07,88.76 510.88,88.76 510.88,88.83 512.7,88.83 512.7,89.02 514.15,89.02 514.15,89.2" fill="rgb(212,0,0)" stroke="none" stroke-width="1" fill-opacity="0.72"/>
<polyline points="441.82,87.9 443.63,87.9 443.63,85.4 445.45,85.4 445.45,83.58 447.27,83.58 447.27,80.32 449.09,80.32 449.09,78.1 450.91,78.1 450.91,78.4 452.72,78.4 452.72,78.34 454.54,78.34 454.54,79.88 456.36,79.88 456.36,82.24 458.18,82.24 458.18,82.75 459.99,82.75 459.99,83.66 461.81,83.66 461.81,83.99 463.63,83.99 463.63,83.97 465.44,83.97 465.44,84.35 467.26,84.35 467.26,85 469.08,85 469.08,85.13 470.9,85.13 470.9,85.37 472.72,85.37 472.72,85.7 474.53,85.7 474.53,85.97 476.35,85.97 476.35,86.14 478.17,86.14 478.17,86.23 479.99,86.23 479.99,86.71 481.8,86.71 481.8,86.8 483.62,86.8 483.62,87.08 485.44,87.08 485.44,87.37 487.26,87.37 487.26,87.43 489.07,87.43 489.07,87.5 490.89,87.5 490.89,87.66 492.71,87.66 492.71,87.87 494.53,87.87 494.53,87.84 496.34,87.84 496.34,88 498.16,88 498.16,88.09 499.98,88.09 499.98,88.31 501.8,88.31 501.8,88.41 503.61,88.41 503.61,88.53 505.43,88.53 505.43,88.55 507.25,88.55 507.25,88.67 509.07,88.67 509.07,88.76 510.88,88.76 510.88,88.83 512.7,88.83 512.7,89.02 514.15,89.02" fill="none" stroke="#7a0a0a" stroke-width="0.55" stroke-opacity="0.8"/>
<path d="M443.63 88.5V89.2M445.45 86V89.2M447.27 84.18V89.2M449.09 80.92V89.2M450.91 78.7V89.2M452.72 79V89.2M454.54 78.94V89.2M456.36 80.48V89.2M458.18 82.84V89.2M459.99 83.35V89.2M461.81 84.26V89.2M463.63 84.59V89.2M465.44 84.57V89.2M467.26 84.95V89.2M469.08 85.6V89.2M470.9 85.73V89.2M472.72 85.97V89.2M474.53 86.3V89.2M476.35 86.57V89.2M478.17 86.74V89.2M479.99 86.83V89.2M481.8 87.31V89.2M483.62 87.4V89.2M485.44 87.68V89.2M487.26 87.97V89.2M489.07 88.03V89.2M490.89 88.1V89.2M492.71 88.26V89.2M494.53 88.47V89.2M496.34 88.44V89.2M498.16 88.6V89.2M499.98 88.69V89.2M501.8 88.91V89.2M503.61 89.01V89.2M505.43 89.13V89.2M507.25 89.15V89.2M509.07 89.27V89.2M510.88 89.36V89.2M512.7 89.43V89.2M514.52 89.62V89.2" stroke="#fff" stroke-width="0.45" stroke-opacity="0.42" fill="none"/>
<polyline points="440,89.08 440.91,88.95 441.82,88.68 442.73,88.21 443.63,87.4 444.54,86.14 445.45,84.31 446.36,81.86 447.27,78.85 448.18,75.48 449.09,72.13 450,69.24 450.91,67.28 451.81,66.59 452.72,67.28 453.63,69.24 454.54,72.13 455.45,75.48 456.36,78.85 457.27,81.86 458.18,84.31 459.08,86.14 459.99,87.4 460.9,88.21 461.81,88.68 462.72,88.95 463.63,89.08 464.54,89.15 465.44,89.18 466.35,89.19 467.26,89.2 468.17,89.2 469.08,89.2 469.99,89.2 470.9,89.2 471.81,89.2 472.72,89.2 473.62,89.2 474.53,89.2 475.44,89.2 476.35,89.2 477.26,89.2 478.17,89.2 479.08,89.2 479.99,89.2 480.89,89.2 481.8,89.2 482.71,89.2 483.62,89.2 484.53,89.2 485.44,89.2 486.35,89.2 487.26,89.2 488.16,89.2 489.07,89.2 489.98,89.2 490.89,89.2 491.8,89.2 492.71,89.2 493.62,89.2 494.53,89.2 495.43,89.2 496.34,89.2 497.25,89.2 498.16,89.2 499.07,89.2 499.98,89.2 500.89,89.2 501.8,89.2 502.7,89.2 503.61,89.2 504.52,89.2 505.43,89.2 506.34,89.2 507.25,89.2 508.16,89.2 509.07,89.2 509.97,89.2 510.88,89.2 511.79,89.2 512.7,89.2" fill="none" stroke="#d8ec9a" stroke-width="0.9" stroke-opacity="0.85" stroke-linejoin="round"/>
<polyline points="440,89.2 440.91,89.2 441.82,89.2 442.73,89.2 443.63,89.2 444.54,87.17 445.45,85.98 446.36,84.78 447.27,83.59 448.18,82.4 449.09,81.2 450,80.01 450.91,78.81 451.81,79.3 452.72,79.78 453.63,80.26 454.54,80.74 455.45,81.22 456.36,81.7 457.27,82.19 458.18,82.67 459.08,82.87 459.99,83.07 460.9,83.27 461.81,83.47 462.72,83.67 463.63,83.87 464.54,84.07 465.44,84.28 466.35,84.48 467.26,84.68 468.17,84.81 469.08,84.95 469.99,85.08 470.9,85.21 471.81,85.35 472.72,85.48 473.62,85.62 474.53,85.75 475.44,85.88 476.35,86.02 477.26,86.11 478.17,86.2 479.08,86.29 479.99,86.39 480.89,86.48 481.8,86.57 482.71,86.66 483.62,86.75 484.53,86.85 485.44,86.94 486.35,87.03 487.26,87.12 488.16,87.22 489.07,87.31 489.98,87.4 490.89,87.49 491.8,87.58 492.71,87.68 493.62,87.77 494.53,87.86 495.43,87.91 496.34,87.97 497.25,88.02 498.16,88.08 499.07,88.13 499.98,88.19 500.89,88.24 501.8,88.3 502.7,88.35 503.61,88.4 504.52,88.46 505.43,88.51 506.34,88.57 507.25,88.62 508.16,88.68 509.07,88.73 509.97,88.79 510.88,88.84 511.79,88.89 512.7,89.2" fill="none" stroke="#f07090" stroke-width="0.9" stroke-opacity="0.85" stroke-linejoin="round"/>
<line x1="440.5" y1="21.7" x2="440.5" y2="89.7" stroke="#000" stroke-width="1.2"/>
<line x1="440" y1="89.2" x2="513.2" y2="89.2" stroke="#000" stroke-width="1.2"/>
<line x1="440" y1="89.2" x2="440" y2="91.4" stroke="#000" stroke-width="0.9"/>
<text x="440" y="99.22" font-size="7" font-weight="bold" text-anchor="middle" fill="#2a2a2a">0</text>
<line x1="458.18" y1="89.2" x2="458.18" y2="91.4" stroke="#000" stroke-width="0.9"/>
<text x="458.18" y="99.22" font-size="7" font-weight="bold" text-anchor="middle" fill="#2a2a2a">0.1</text>
<line x1="476.35" y1="89.2" x2="476.35" y2="91.4" stroke="#000" stroke-width="0.9"/>
<text x="476.35" y="99.22" font-size="7" font-weight="bold" text-anchor="middle" fill="#2a2a2a">0.2</text>
<line x1="494.53" y1="89.2" x2="494.53" y2="91.4" stroke="#000" stroke-width="0.9"/>
<text x="494.53" y="99.22" font-size="7" font-weight="bold" text-anchor="middle" fill="#2a2a2a">0.3</text>
<line x1="512.7" y1="89.2" x2="512.7" y2="91.4" stroke="#000" stroke-width="0.9"/>
<text x="512.7" y="99.22" font-size="7" font-weight="bold" text-anchor="middle" fill="#2a2a2a">0.4</text>
<line x1="437.8" y1="89.2" x2="440" y2="89.2" stroke="#000" stroke-width="0.9"/>
<text x="437.2" y="91.72" font-size="7" font-weight="bold" text-anchor="end" fill="#2a2a2a">0</text>
<line x1="437.8" y1="72.45" x2="440" y2="72.45" stroke="#000" stroke-width="0.9"/>
<text x="437.2" y="74.97" font-size="7" font-weight="bold" text-anchor="end" fill="#2a2a2a">10</text>
<line x1="437.8" y1="55.7" x2="440" y2="55.7" stroke="#000" stroke-width="0.9"/>
<text x="437.2" y="58.22" font-size="7" font-weight="bold" text-anchor="end" fill="#2a2a2a">20</text>
<line x1="437.8" y1="38.95" x2="440" y2="38.95" stroke="#000" stroke-width="0.9"/>
<text x="437.2" y="41.47" font-size="7" font-weight="bold" text-anchor="end" fill="#2a2a2a">30</text>
<line x1="437.8" y1="22.2" x2="440" y2="22.2" stroke="#000" stroke-width="0.9"/>
<text x="437.2" y="24.72" font-size="7" font-weight="bold" text-anchor="end" fill="#2a2a2a">40</text>
<text x="478.8" y="112.93" font-size="7.3" font-weight="bold" text-anchor="middle" fill="#111" textLength="9.5" lengthAdjust="spacingAndGlyphs">FA</text>
<rect x="17.9" y="144.2" width="44.9" height="44.6" fill="#7456b8"/>
<svg x="17.9" y="144.2" width="44.9" height="44.6" overflow="hidden">
<g fill="#a890e0" fill-opacity="0.7"><ellipse cx="5.3" cy="38.49" rx="2.51" ry="1.5" transform="rotate(47 5.3 38.49)"/><ellipse cx="20.08" cy="29.36" rx="2.19" ry="1.03" transform="rotate(51 20.08 29.36)"/><ellipse cx="38.2" cy="19.17" rx="2" ry="1.45" transform="rotate(47 38.2 19.17)"/><ellipse cx="32.84" cy="9.66" rx="3.8" ry="1.03" transform="rotate(80 32.84 9.66)"/><ellipse cx="0.19" cy="24.23" rx="2.76" ry="1.22" transform="rotate(79 0.19 24.23)"/><ellipse cx="18.8" cy="0.35" rx="2.88" ry="1.5" transform="rotate(-50 18.8 0.35)"/><ellipse cx="9.93" cy="9.76" rx="2.92" ry="1.29" transform="rotate(-50 9.93 9.76)"/><ellipse cx="0.01" cy="38.03" rx="3.28" ry="1.19" transform="rotate(10 0.01 38.03)"/><ellipse cx="45.55" cy="39.07" rx="2.67" ry="1.72" transform="rotate(-68 45.55 39.07)"/><ellipse cx="32.35" cy="42.64" rx="3.66" ry="1.67" transform="rotate(-14 32.35 42.64)"/><ellipse cx="13.23" cy="26.38" rx="3.69" ry="1.51" transform="rotate(68 13.23 26.38)"/><ellipse cx="26.62" cy="0.61" rx="3.59" ry="1.41" transform="rotate(-46 26.62 0.61)"/><ellipse cx="7.11" cy="24.57" rx="3.35" ry="1.37" transform="rotate(36 7.11 24.57)"/><ellipse cx="19.59" cy="22.69" rx="3.04" ry="1.39" transform="rotate(50 19.59 22.69)"/><ellipse cx="21.97" cy="0.38" rx="3.41" ry="1.98" transform="rotate(-82 21.97 0.38)"/><ellipse cx="26.82" cy="17.34" rx="3" ry="1.98" transform="rotate(-59 26.82 17.34)"/><ellipse cx="35.14" cy="24.15" rx="2.46" ry="1.51" transform="rotate(64 35.14 24.15)"/><ellipse cx="43.67" cy="25.93" rx="2.54" ry="1.55" transform="rotate(-7 43.67 25.93)"/><ellipse cx="43.89" cy="-0.73" rx="3.64" ry="1.89" transform="rotate(51 43.89 -0.73)"/><ellipse cx="33.73" cy="36.71" rx="3.12" ry="1.43" transform="rotate(3 33.73 36.71)"/><ellipse cx="1.63" cy="39.54" rx="2.4" ry="1.5" transform="rotate(12 1.63 39.54)"/><ellipse cx="21.74" cy="15.63" rx="3.08" ry="1.62" transform="rotate(-27 21.74 15.63)"/><ellipse cx="27.72" cy="20.35" rx="2.46" ry="1.18" transform="rotate(-84 27.72 20.35)"/><ellipse cx="26.41" cy="39.12" rx="3.59" ry="1.82" transform="rotate(53 26.41 39.12)"/><ellipse cx="10.97" cy="38.23" rx="2.17" ry="1.02" transform="rotate(31 10.97 38.23)"/><ellipse cx="-0.32" cy="34.21" rx="2.22" ry="1.62" transform="rotate(-45 -0.32 34.21)"/><ellipse cx="15.15" cy="2.24" rx="3.05" ry="1.17" transform="rotate(-61 15.15 2.24)"/><ellipse cx="11.8" cy="32.16" rx="2.64" ry="1.47" transform="rotate(-8 11.8 32.16)"/><ellipse cx="0.11" cy="17.01" rx="2.38" ry="1.11" transform="rotate(-14 0.11 17.01)"/><ellipse cx="41.2" cy="22.77" rx="3.21" ry="1.82" transform="rotate(-52 41.2 22.77)"/><ellipse cx="-0.02" cy="-0.17" rx="3.44" ry="1.16" transform="rotate(-63 -0.02 -0.17)"/><ellipse cx="32.05" cy="30.6" rx="2.44" ry="1.98" transform="rotate(8 32.05 30.6)"/><ellipse cx="36.42" cy="23.07" rx="3.3" ry="1.39" transform="rotate(-49 36.42 23.07)"/><ellipse cx="26.01" cy="13.97" rx="2.12" ry="1.3" transform="rotate(23 26.01 13.97)"/><ellipse cx="44.39" cy="39.8" rx="3.72" ry="1.31" transform="rotate(-34 44.39 39.8)"/><ellipse cx="43.05" cy="33.66" rx="2.5" ry="1.01" transform="rotate(-15 43.05 33.66)"/><ellipse cx="40.21" cy="0.77" rx="3.92" ry="1.57" transform="rotate(57 40.21 0.77)"/><ellipse cx="7.04" cy="39.44" rx="3.41" ry="1.51" transform="rotate(85 7.04 39.44)"/><ellipse cx="16.73" cy="15.17" rx="3.35" ry="1.43" transform="rotate(-52 16.73 15.17)"/><ellipse cx="8.1" cy="3.87" rx="2.59" ry="1.5" transform="rotate(29 8.1 3.87)"/><ellipse cx="14.26" cy="39.62" rx="2.04" ry="1.2" transform="rotate(71 14.26 39.62)"/><ellipse cx="14.37" cy="45" rx="2.68" ry="1.21" transform="rotate(50 14.37 45)"/><ellipse cx="30.63" cy="38.04" rx="2.69" ry="1.88" transform="rotate(77 30.63 38.04)"/><ellipse cx="31.23" cy="21.58" rx="2.47" ry="1.73" transform="rotate(87 31.23 21.58)"/><ellipse cx="2.97" cy="6.91" rx="2.43" ry="1.76" transform="rotate(73 2.97 6.91)"/><ellipse cx="27.15" cy="38.2" rx="2.68" ry="1.29" transform="rotate(-23 27.15 38.2)"/><ellipse cx="39.68" cy="27.15" rx="3.77" ry="1.14" transform="rotate(81 39.68 27.15)"/><ellipse cx="24.85" cy="3.86" rx="2.15" ry="1.87" transform="rotate(-82 24.85 3.86)"/><ellipse cx="35.96" cy="37.61" rx="3.23" ry="1.78" transform="rotate(-28 35.96 37.61)"/><ellipse cx="16.73" cy="25.6" rx="2.16" ry="1.27" transform="rotate(-49 16.73 25.6)"/><ellipse cx="40.78" cy="25.3" rx="2.92" ry="1.28" transform="rotate(76 40.78 25.3)"/><ellipse cx="35.91" cy="37.57" rx="3.34" ry="1.09" transform="rotate(-87 35.91 37.57)"/><ellipse cx="4.4" cy="40.24" rx="2.48" ry="1.99" transform="rotate(-82 4.4 40.24)"/><ellipse cx="18.75" cy="4.39" rx="2.48" ry="1.74" transform="rotate(-59 18.75 4.39)"/><ellipse cx="3.82" cy="41.44" rx="3.94" ry="1.91" transform="rotate(-21 3.82 41.44)"/><ellipse cx="12.79" cy="10.81" rx="2.2" ry="1.65" transform="rotate(-4 12.79 10.81)"/><ellipse cx="0.86" cy="-0.51" rx="2.59" ry="1.6" transform="rotate(86 0.86 -0.51)"/><ellipse cx="20.1" cy="13.6" rx="3.83" ry="1.97" transform="rotate(-78 20.1 13.6)"/><ellipse cx="44.48" cy="4.19" rx="3.24" ry="1.98" transform="rotate(-51 44.48 4.19)"/><ellipse cx="24.46" cy="31.07" rx="2.52" ry="1.54" transform="rotate(29 24.46 31.07)"/><ellipse cx="13.41" cy="10.48" rx="2.56" ry="1.98" transform="rotate(-75 13.41 10.48)"/><ellipse cx="20.01" cy="29.38" rx="3.88" ry="1.39" transform="rotate(25 20.01 29.38)"/><ellipse cx="13.39" cy="14.25" rx="3.69" ry="1.89" transform="rotate(-32 13.39 14.25)"/><ellipse cx="13.2" cy="14.58" rx="3.16" ry="1.6" transform="rotate(7 13.2 14.58)"/><ellipse cx="10.5" cy="-0.05" rx="2.14" ry="1.55" transform="rotate(-46 10.5 -0.05)"/><ellipse cx="2.33" cy="2.5" rx="2.58" ry="1.79" transform="rotate(24 2.33 2.5)"/><ellipse cx="22.13" cy="39.2" rx="3" ry="1.79" transform="rotate(-62 22.13 39.2)"/><ellipse cx="2.62" cy="43.23" rx="3.55" ry="1.98" transform="rotate(-58 2.62 43.23)"/><ellipse cx="37.53" cy="13.9" rx="3.03" ry="1.92" transform="rotate(-70 37.53 13.9)"/><ellipse cx="12.76" cy="40.65" rx="3.82" ry="1.03" transform="rotate(-64 12.76 40.65)"/></g>
<g fill="#ecdcff" fill-opacity="0.85"><ellipse cx="13.82" cy="41.08" rx="2.43" ry="0.64" transform="rotate(54 13.82 41.08)"/><ellipse cx="34" cy="31.14" rx="1.58" ry="0.41" transform="rotate(-57 34 31.14)"/><ellipse cx="32.53" cy="30.12" rx="0.92" ry="0.69" transform="rotate(-44 32.53 30.12)"/><ellipse cx="36.91" cy="24.6" rx="2.33" ry="0.51" transform="rotate(7 36.91 24.6)"/><ellipse cx="17.56" cy="14.78" rx="0.84" ry="0.58" transform="rotate(-43 17.56 14.78)"/><ellipse cx="18.54" cy="25.59" rx="1.44" ry="0.4" transform="rotate(-78 18.54 25.59)"/><ellipse cx="4.87" cy="11.07" rx="1.52" ry="0.49" transform="rotate(59 4.87 11.07)"/><ellipse cx="27.72" cy="9.88" rx="1.75" ry="0.53" transform="rotate(-88 27.72 9.88)"/><ellipse cx="29.43" cy="19.43" rx="2.12" ry="0.43" transform="rotate(33 29.43 19.43)"/><ellipse cx="22.22" cy="21.31" rx="1.54" ry="0.55" transform="rotate(-49 22.22 21.31)"/><ellipse cx="41.54" cy="41.77" rx="1.96" ry="0.37" transform="rotate(-40 41.54 41.77)"/><ellipse cx="2.36" cy="22.84" rx="1.09" ry="0.62" transform="rotate(67 2.36 22.84)"/><ellipse cx="40.41" cy="13.53" rx="2.33" ry="0.48" transform="rotate(34 40.41 13.53)"/><ellipse cx="31.89" cy="33.32" rx="2.34" ry="0.66" transform="rotate(17 31.89 33.32)"/><ellipse cx="44.03" cy="25.62" rx="1.25" ry="0.43" transform="rotate(-58 44.03 25.62)"/><ellipse cx="25.71" cy="34.31" rx="2.03" ry="0.6" transform="rotate(-80 25.71 34.31)"/><ellipse cx="15.32" cy="23" rx="2.11" ry="0.36" transform="rotate(-60 15.32 23)"/><ellipse cx="45.02" cy="36.65" rx="1.28" ry="0.67" transform="rotate(23 45.02 36.65)"/><ellipse cx="44" cy="5.48" rx="2.32" ry="0.58" transform="rotate(49 44 5.48)"/><ellipse cx="31.85" cy="19.74" rx="2.55" ry="0.48" transform="rotate(76 31.85 19.74)"/><ellipse cx="36.65" cy="19.17" rx="1.39" ry="0.39" transform="rotate(-60 36.65 19.17)"/><ellipse cx="41.63" cy="43.71" rx="1.88" ry="0.49" transform="rotate(-68 41.63 43.71)"/><ellipse cx="4.54" cy="12.77" rx="2.15" ry="0.35" transform="rotate(-45 4.54 12.77)"/><ellipse cx="7.9" cy="19.45" rx="1.93" ry="0.56" transform="rotate(-86 7.9 19.45)"/><ellipse cx="38.18" cy="8.63" rx="1.78" ry="0.45" transform="rotate(-38 38.18 8.63)"/><ellipse cx="26.47" cy="10.69" rx="2.22" ry="0.63" transform="rotate(33 26.47 10.69)"/><ellipse cx="44.66" cy="24.41" rx="2.34" ry="0.62" transform="rotate(-1 44.66 24.41)"/><ellipse cx="25.76" cy="16.86" rx="0.99" ry="0.63" transform="rotate(-38 25.76 16.86)"/><ellipse cx="4.54" cy="33.82" rx="2.54" ry="0.62" transform="rotate(8 4.54 33.82)"/><ellipse cx="44.66" cy="5.37" rx="1.83" ry="0.46" transform="rotate(0 44.66 5.37)"/><ellipse cx="22.59" cy="15.63" rx="0.8" ry="0.5" transform="rotate(5 22.59 15.63)"/><ellipse cx="20.08" cy="13.2" rx="2.21" ry="0.59" transform="rotate(-18 20.08 13.2)"/><ellipse cx="22.09" cy="29.18" rx="1.17" ry="0.35" transform="rotate(-22 22.09 29.18)"/><ellipse cx="12.02" cy="26.87" rx="2.29" ry="0.53" transform="rotate(68 12.02 26.87)"/><ellipse cx="45.29" cy="20.51" rx="1.54" ry="0.61" transform="rotate(60 45.29 20.51)"/><ellipse cx="45.32" cy="13.23" rx="1.92" ry="0.54" transform="rotate(-59 45.32 13.23)"/><ellipse cx="15.86" cy="-0.84" rx="1.57" ry="0.49" transform="rotate(-19 15.86 -0.84)"/><ellipse cx="39.39" cy="26.23" rx="2.42" ry="0.61" transform="rotate(42 39.39 26.23)"/><ellipse cx="22.11" cy="33.75" rx="1.97" ry="0.57" transform="rotate(25 22.11 33.75)"/><ellipse cx="18.09" cy="28.32" rx="2.49" ry="0.62" transform="rotate(24 18.09 28.32)"/><ellipse cx="38.69" cy="34.77" rx="1.89" ry="0.47" transform="rotate(56 38.69 34.77)"/><ellipse cx="11.41" cy="31.99" rx="1.78" ry="0.4" transform="rotate(67 11.41 31.99)"/><ellipse cx="38.07" cy="21.58" rx="0.88" ry="0.53" transform="rotate(-5 38.07 21.58)"/><ellipse cx="33.93" cy="18.69" rx="1.98" ry="0.36" transform="rotate(-26 33.93 18.69)"/><ellipse cx="22.79" cy="43.09" rx="1.52" ry="0.59" transform="rotate(34 22.79 43.09)"/><ellipse cx="27.37" cy="8.73" rx="2.39" ry="0.44" transform="rotate(-52 27.37 8.73)"/><ellipse cx="2.51" cy="37.71" rx="1.46" ry="0.53" transform="rotate(4 2.51 37.71)"/><ellipse cx="33.55" cy="6.85" rx="2.08" ry="0.64" transform="rotate(27 33.55 6.85)"/><ellipse cx="11.65" cy="27.41" rx="1.81" ry="0.41" transform="rotate(-48 11.65 27.41)"/><ellipse cx="36.04" cy="39.39" rx="1.2" ry="0.69" transform="rotate(-30 36.04 39.39)"/><ellipse cx="32.14" cy="38.32" rx="2.42" ry="0.57" transform="rotate(-84 32.14 38.32)"/><ellipse cx="13.85" cy="19.12" rx="2.21" ry="0.42" transform="rotate(47 13.85 19.12)"/><ellipse cx="28.35" cy="6.72" rx="1.6" ry="0.67" transform="rotate(85 28.35 6.72)"/><ellipse cx="33.15" cy="27.25" rx="1.75" ry="0.4" transform="rotate(-42 33.15 27.25)"/><ellipse cx="5.48" cy="32.35" rx="2.15" ry="0.43" transform="rotate(-25 5.48 32.35)"/><ellipse cx="32.68" cy="32.48" rx="0.99" ry="0.49" transform="rotate(-35 32.68 32.48)"/><ellipse cx="22.09" cy="3.66" rx="0.9" ry="0.56" transform="rotate(-56 22.09 3.66)"/><ellipse cx="40.69" cy="9.09" rx="2.07" ry="0.64" transform="rotate(-83 40.69 9.09)"/><ellipse cx="44.22" cy="27.57" rx="2.31" ry="0.39" transform="rotate(-28 44.22 27.57)"/><ellipse cx="31.48" cy="3.44" rx="1.69" ry="0.48" transform="rotate(-18 31.48 3.44)"/><ellipse cx="6.91" cy="9.8" rx="1.63" ry="0.55" transform="rotate(57 6.91 9.8)"/><ellipse cx="8.94" cy="32.32" rx="1.87" ry="0.67" transform="rotate(-30 8.94 32.32)"/><ellipse cx="45.64" cy="1.15" rx="2.34" ry="0.46" transform="rotate(53 45.64 1.15)"/><ellipse cx="16.97" cy="26.04" rx="1.52" ry="0.66" transform="rotate(75 16.97 26.04)"/><ellipse cx="34.58" cy="6.1" rx="0.83" ry="0.4" transform="rotate(74 34.58 6.1)"/><ellipse cx="30.18" cy="1.66" rx="1.03" ry="0.51" transform="rotate(-21 30.18 1.66)"/><ellipse cx="38.4" cy="41.22" rx="0.91" ry="0.64" transform="rotate(-83 38.4 41.22)"/><ellipse cx="1.01" cy="11.75" rx="0.96" ry="0.36" transform="rotate(-68 1.01 11.75)"/><ellipse cx="28.9" cy="33.7" rx="2.32" ry="0.58" transform="rotate(33 28.9 33.7)"/><ellipse cx="17.28" cy="28.41" rx="1.95" ry="0.44" transform="rotate(84 17.28 28.41)"/><ellipse cx="1.82" cy="42.58" rx="1.43" ry="0.56" transform="rotate(16 1.82 42.58)"/><ellipse cx="25.28" cy="23.33" rx="1.44" ry="0.49" transform="rotate(-79 25.28 23.33)"/><ellipse cx="8.35" cy="40.01" rx="1.99" ry="0.6" transform="rotate(-13 8.35 40.01)"/><ellipse cx="33.86" cy="32.6" rx="1.25" ry="0.69" transform="rotate(45 33.86 32.6)"/><ellipse cx="6.08" cy="41.81" rx="2.33" ry="0.37" transform="rotate(63 6.08 41.81)"/><ellipse cx="3.28" cy="36.89" rx="1.47" ry="0.69" transform="rotate(-5 3.28 36.89)"/><ellipse cx="0.88" cy="23.77" rx="1.03" ry="0.49" transform="rotate(-10 0.88 23.77)"/><ellipse cx="32.19" cy="40.12" rx="1.74" ry="0.38" transform="rotate(-85 32.19 40.12)"/><ellipse cx="36.54" cy="3" rx="1.49" ry="0.61" transform="rotate(-83 36.54 3)"/><ellipse cx="13.69" cy="5.06" rx="2.25" ry="0.65" transform="rotate(53 13.69 5.06)"/><ellipse cx="13.25" cy="18.8" rx="1.8" ry="0.47" transform="rotate(-45 13.25 18.8)"/><ellipse cx="14.88" cy="35.52" rx="1.85" ry="0.39" transform="rotate(82 14.88 35.52)"/><ellipse cx="29.61" cy="19.91" rx="2.09" ry="0.64" transform="rotate(87 29.61 19.91)"/><ellipse cx="31.89" cy="23.96" rx="2.3" ry="0.45" transform="rotate(71 31.89 23.96)"/><ellipse cx="6.36" cy="16.26" rx="0.98" ry="0.47" transform="rotate(3 6.36 16.26)"/><ellipse cx="25.96" cy="1.03" rx="1.97" ry="0.46" transform="rotate(56 25.96 1.03)"/><ellipse cx="12.99" cy="15.43" rx="2.15" ry="0.53" transform="rotate(-31 12.99 15.43)"/><ellipse cx="23.68" cy="5.93" rx="1.39" ry="0.46" transform="rotate(74 23.68 5.93)"/><ellipse cx="2.23" cy="44.64" rx="2.44" ry="0.67" transform="rotate(-3 2.23 44.64)"/><ellipse cx="44.48" cy="37.01" rx="2.46" ry="0.63" transform="rotate(76 44.48 37.01)"/><ellipse cx="5.31" cy="23.4" rx="2.59" ry="0.62" transform="rotate(13 5.31 23.4)"/><ellipse cx="31.97" cy="33.79" rx="2.5" ry="0.58" transform="rotate(-24 31.97 33.79)"/><ellipse cx="17.88" cy="20.65" rx="1.76" ry="0.41" transform="rotate(86 17.88 20.65)"/><ellipse cx="5.96" cy="31.03" rx="2.43" ry="0.41" transform="rotate(11 5.96 31.03)"/><ellipse cx="18.28" cy="32.92" rx="0.98" ry="0.54" transform="rotate(-80 18.28 32.92)"/><ellipse cx="11.46" cy="3.98" rx="1.94" ry="0.53" transform="rotate(-42 11.46 3.98)"/><ellipse cx="2.68" cy="2.39" rx="1.96" ry="0.41" transform="rotate(63 2.68 2.39)"/><ellipse cx="39.42" cy="0.02" rx="2.33" ry="0.6" transform="rotate(-23 39.42 0.02)"/><ellipse cx="12.31" cy="40.53" rx="2.36" ry="0.66" transform="rotate(17 12.31 40.53)"/><ellipse cx="18.95" cy="30.48" rx="2.5" ry="0.63" transform="rotate(8 18.95 30.48)"/><ellipse cx="33.04" cy="36.93" rx="1.26" ry="0.42" transform="rotate(89 33.04 36.93)"/><ellipse cx="34.02" cy="34.9" rx="1.68" ry="0.49" transform="rotate(2 34.02 34.9)"/><ellipse cx="40.4" cy="36.1" rx="0.87" ry="0.65" transform="rotate(15 40.4 36.1)"/><ellipse cx="20.5" cy="7.84" rx="2.04" ry="0.35" transform="rotate(-36 20.5 7.84)"/><ellipse cx="4.63" cy="13.1" rx="2.14" ry="0.69" transform="rotate(69 4.63 13.1)"/><ellipse cx="24.47" cy="25.65" rx="1.75" ry="0.54" transform="rotate(9 24.47 25.65)"/><ellipse cx="37.39" cy="43.43" rx="1.93" ry="0.46" transform="rotate(-16 37.39 43.43)"/><ellipse cx="13.16" cy="22.59" rx="1.79" ry="0.69" transform="rotate(15 13.16 22.59)"/><ellipse cx="6.64" cy="28.67" rx="2.13" ry="0.55" transform="rotate(89 6.64 28.67)"/><ellipse cx="16.28" cy="17.74" rx="2.41" ry="0.58" transform="rotate(78 16.28 17.74)"/><ellipse cx="41.15" cy="42.11" rx="1.49" ry="0.51" transform="rotate(62 41.15 42.11)"/><ellipse cx="36.33" cy="16.36" rx="1.67" ry="0.47" transform="rotate(44 36.33 16.36)"/><ellipse cx="20.39" cy="4.43" rx="1.55" ry="0.36" transform="rotate(-26 20.39 4.43)"/><ellipse cx="7.07" cy="11.13" rx="1.86" ry="0.45" transform="rotate(64 7.07 11.13)"/><ellipse cx="45.79" cy="11.02" rx="2.13" ry="0.59" transform="rotate(2 45.79 11.02)"/><ellipse cx="19.33" cy="35.21" rx="2.09" ry="0.52" transform="rotate(-2 19.33 35.21)"/><ellipse cx="44.56" cy="32.37" rx="1.03" ry="0.69" transform="rotate(-73 44.56 32.37)"/><ellipse cx="9.75" cy="0.22" rx="1.66" ry="0.68" transform="rotate(-44 9.75 0.22)"/><ellipse cx="17.72" cy="32.72" rx="0.96" ry="0.56" transform="rotate(60 17.72 32.72)"/><ellipse cx="45.7" cy="24.61" rx="1.42" ry="0.68" transform="rotate(6 45.7 24.61)"/></g>
<g fill="#221248" fill-opacity="0.92"><ellipse cx="44.47" cy="3.81" rx="1.6" ry="1.27" transform="rotate(9 44.47 3.81)"/><ellipse cx="4.56" cy="11.36" rx="1.68" ry="1.36" transform="rotate(-39 4.56 11.36)"/><ellipse cx="39.23" cy="35.65" rx="1.2" ry="1.07" transform="rotate(31 39.23 35.65)"/><ellipse cx="30.36" cy="12.71" rx="2.19" ry="0.88" transform="rotate(1 30.36 12.71)"/><ellipse cx="39.05" cy="3.93" rx="2.19" ry="0.94" transform="rotate(-20 39.05 3.93)"/><ellipse cx="23.42" cy="18.41" rx="2.29" ry="1" transform="rotate(69 23.42 18.41)"/><ellipse cx="22.1" cy="40.71" rx="1.36" ry="1.33" transform="rotate(8 22.1 40.71)"/><ellipse cx="14.81" cy="21.65" rx="2.29" ry="1.26" transform="rotate(-88 14.81 21.65)"/><ellipse cx="42.42" cy="44.14" rx="1.75" ry="1.11" transform="rotate(-41 42.42 44.14)"/><ellipse cx="34.64" cy="38.26" rx="1.43" ry="1.29" transform="rotate(-48 34.64 38.26)"/><ellipse cx="18.31" cy="5.07" rx="1.77" ry="1.22" transform="rotate(-54 18.31 5.07)"/><ellipse cx="44.03" cy="23.83" rx="1.28" ry="1.09" transform="rotate(19 44.03 23.83)"/><ellipse cx="12.12" cy="31.41" rx="1.36" ry="1.06" transform="rotate(-41 12.12 31.41)"/><ellipse cx="21.07" cy="14.77" rx="1.32" ry="1.42" transform="rotate(19 21.07 14.77)"/><ellipse cx="31.56" cy="23.92" rx="1.49" ry="1.28" transform="rotate(-79 31.56 23.92)"/><ellipse cx="29.25" cy="36.84" rx="1.48" ry="1.15" transform="rotate(70 29.25 36.84)"/><ellipse cx="14.48" cy="4.96" rx="1.41" ry="0.86" transform="rotate(-64 14.48 4.96)"/><ellipse cx="24.27" cy="31.76" rx="1.92" ry="0.96" transform="rotate(11 24.27 31.76)"/><ellipse cx="8.35" cy="25.45" rx="1.61" ry="0.8" transform="rotate(69 8.35 25.45)"/><ellipse cx="-0.06" cy="13.23" rx="1.2" ry="0.96" transform="rotate(20 -0.06 13.23)"/><ellipse cx="30.92" cy="44.9" rx="1.82" ry="1.16" transform="rotate(-28 30.92 44.9)"/><ellipse cx="0.08" cy="14.37" rx="1.4" ry="1.34" transform="rotate(-64 0.08 14.37)"/><ellipse cx="30.95" cy="0.91" rx="1.97" ry="0.87" transform="rotate(-76 30.95 0.91)"/><ellipse cx="13.87" cy="11.55" rx="1.14" ry="0.9" transform="rotate(-81 13.87 11.55)"/><ellipse cx="17.73" cy="42.51" rx="1.39" ry="1.28" transform="rotate(24 17.73 42.51)"/><ellipse cx="11.83" cy="23.01" rx="2.24" ry="1.05" transform="rotate(-32 11.83 23.01)"/><ellipse cx="36.69" cy="28.88" rx="1.83" ry="1.41" transform="rotate(61 36.69 28.88)"/><ellipse cx="18" cy="30.64" rx="1.73" ry="1.2" transform="rotate(21 18 30.64)"/><ellipse cx="24.13" cy="17.35" rx="1.86" ry="1.18" transform="rotate(71 24.13 17.35)"/><ellipse cx="1.53" cy="22.7" rx="1.36" ry="1.1" transform="rotate(-58 1.53 22.7)"/><ellipse cx="24.61" cy="10.67" rx="1.74" ry="1.13" transform="rotate(-41 24.61 10.67)"/><ellipse cx="17.91" cy="3.83" rx="1.89" ry="1.18" transform="rotate(-22 17.91 3.83)"/><ellipse cx="24.55" cy="38.32" rx="1.92" ry="0.82" transform="rotate(40 24.55 38.32)"/><ellipse cx="13.45" cy="30.8" rx="2.2" ry="0.9" transform="rotate(-61 13.45 30.8)"/><ellipse cx="40.23" cy="9.08" rx="2.12" ry="1.03" transform="rotate(61 40.23 9.08)"/><ellipse cx="40.67" cy="6.45" rx="1.56" ry="1.11" transform="rotate(62 40.67 6.45)"/><ellipse cx="4.53" cy="27.01" rx="1.9" ry="1.36" transform="rotate(-41 4.53 27.01)"/><ellipse cx="27.31" cy="-0.62" rx="2.2" ry="1.25" transform="rotate(81 27.31 -0.62)"/><ellipse cx="16.8" cy="25.19" rx="1.65" ry="1.35" transform="rotate(68 16.8 25.19)"/><ellipse cx="27.07" cy="18.68" rx="1.59" ry="1.22" transform="rotate(78 27.07 18.68)"/><ellipse cx="1.5" cy="20.94" rx="1.94" ry="0.8" transform="rotate(-83 1.5 20.94)"/><ellipse cx="0.97" cy="4.18" rx="1.71" ry="1.05" transform="rotate(-64 0.97 4.18)"/><ellipse cx="11.71" cy="44.84" rx="1.89" ry="1.36" transform="rotate(73 11.71 44.84)"/><ellipse cx="37.44" cy="10.43" rx="1.39" ry="1.19" transform="rotate(55 37.44 10.43)"/><ellipse cx="15.78" cy="6.39" rx="2.2" ry="1.02" transform="rotate(49 15.78 6.39)"/><ellipse cx="40.26" cy="15.14" rx="2.29" ry="1.34" transform="rotate(28 40.26 15.14)"/><ellipse cx="1.61" cy="19.27" rx="1.45" ry="1.37" transform="rotate(-22 1.61 19.27)"/><ellipse cx="19.68" cy="31.58" rx="1.72" ry="0.84" transform="rotate(24 19.68 31.58)"/><ellipse cx="30.57" cy="40.54" rx="1.87" ry="1.14" transform="rotate(-59 30.57 40.54)"/><ellipse cx="14.99" cy="32.11" rx="1.13" ry="1.43" transform="rotate(85 14.99 32.11)"/><ellipse cx="16.97" cy="37.86" rx="1.96" ry="0.87" transform="rotate(-58 16.97 37.86)"/><ellipse cx="14.74" cy="44.2" rx="2.04" ry="1.12" transform="rotate(28 14.74 44.2)"/><ellipse cx="21.1" cy="21.96" rx="1.97" ry="0.94" transform="rotate(49 21.1 21.96)"/><ellipse cx="19.66" cy="24.26" rx="2.21" ry="1.39" transform="rotate(12 19.66 24.26)"/><ellipse cx="6.03" cy="16.53" rx="1.13" ry="0.85" transform="rotate(-70 6.03 16.53)"/><ellipse cx="7.58" cy="34.7" rx="2.06" ry="1" transform="rotate(30 7.58 34.7)"/><ellipse cx="6.29" cy="44.3" rx="2.24" ry="0.81" transform="rotate(58 6.29 44.3)"/><ellipse cx="17.6" cy="28.53" rx="2.2" ry="1.18" transform="rotate(42 17.6 28.53)"/><ellipse cx="17.33" cy="-0.75" rx="2.28" ry="1.44" transform="rotate(54 17.33 -0.75)"/><ellipse cx="30.06" cy="14.96" rx="2.03" ry="1.45" transform="rotate(-46 30.06 14.96)"/><ellipse cx="44.04" cy="7.18" rx="1.72" ry="1.1" transform="rotate(15 44.04 7.18)"/><ellipse cx="36.26" cy="42.61" rx="1.94" ry="1.28" transform="rotate(40 36.26 42.61)"/><ellipse cx="29.65" cy="24.01" rx="2.04" ry="0.88" transform="rotate(-45 29.65 24.01)"/><ellipse cx="29.2" cy="17.03" rx="1.87" ry="1.14" transform="rotate(10 29.2 17.03)"/><ellipse cx="44.87" cy="10.15" rx="2.25" ry="1.02" transform="rotate(-87 44.87 10.15)"/><ellipse cx="12.04" cy="18.37" rx="2.28" ry="1.3" transform="rotate(17 12.04 18.37)"/><ellipse cx="13.93" cy="23.92" rx="1.7" ry="1.09" transform="rotate(-9 13.93 23.92)"/><ellipse cx="6.86" cy="17.43" rx="1.34" ry="1.37" transform="rotate(-19 6.86 17.43)"/><ellipse cx="15.88" cy="6.06" rx="2.11" ry="1.35" transform="rotate(12 15.88 6.06)"/><ellipse cx="28.17" cy="33.07" rx="1.27" ry="0.98" transform="rotate(-29 28.17 33.07)"/><ellipse cx="15.38" cy="12.01" rx="1.28" ry="0.89" transform="rotate(-5 15.38 12.01)"/><ellipse cx="10.85" cy="8.16" rx="1.75" ry="0.94" transform="rotate(54 10.85 8.16)"/><ellipse cx="19.13" cy="39.63" rx="1.76" ry="1.07" transform="rotate(13 19.13 39.63)"/><ellipse cx="8.18" cy="28.14" rx="2.04" ry="0.84" transform="rotate(-76 8.18 28.14)"/><ellipse cx="34" cy="16.83" rx="1.81" ry="0.89" transform="rotate(32 34 16.83)"/><ellipse cx="24.26" cy="2.46" rx="1.56" ry="1" transform="rotate(-46 24.26 2.46)"/><ellipse cx="30.04" cy="44.99" rx="2.11" ry="0.96" transform="rotate(-25 30.04 44.99)"/><ellipse cx="32.27" cy="15.2" rx="1.21" ry="1.38" transform="rotate(6 32.27 15.2)"/><ellipse cx="8.79" cy="20.6" rx="2.07" ry="1.21" transform="rotate(-37 8.79 20.6)"/><ellipse cx="27.85" cy="34.17" rx="1.17" ry="1.38" transform="rotate(-44 27.85 34.17)"/><ellipse cx="13.8" cy="36.85" rx="1.86" ry="0.87" transform="rotate(82 13.8 36.85)"/><ellipse cx="39.05" cy="28.52" rx="1.35" ry="1.16" transform="rotate(-45 39.05 28.52)"/><ellipse cx="4.7" cy="41.22" rx="2.08" ry="1.07" transform="rotate(37 4.7 41.22)"/><ellipse cx="42.3" cy="5.24" rx="1.41" ry="0.8" transform="rotate(38 42.3 5.24)"/><ellipse cx="4.67" cy="8.39" rx="1.55" ry="1.14" transform="rotate(47 4.67 8.39)"/><ellipse cx="27.78" cy="11.47" rx="1.91" ry="1.44" transform="rotate(24 27.78 11.47)"/><ellipse cx="22.58" cy="38.86" rx="2.02" ry="1.09" transform="rotate(84 22.58 38.86)"/><ellipse cx="11.76" cy="3.55" rx="1.26" ry="1.19" transform="rotate(59 11.76 3.55)"/><ellipse cx="20.29" cy="1.09" rx="2.09" ry="1.18" transform="rotate(-51 20.29 1.09)"/><ellipse cx="42.35" cy="41.31" rx="1.91" ry="0.83" transform="rotate(-73 42.35 41.31)"/><ellipse cx="18.82" cy="19.59" rx="1.81" ry="0.93" transform="rotate(82 18.82 19.59)"/><ellipse cx="22.91" cy="23.32" rx="1.53" ry="1.41" transform="rotate(-54 22.91 23.32)"/><ellipse cx="45.03" cy="35.2" rx="2.19" ry="1.12" transform="rotate(-78 45.03 35.2)"/><ellipse cx="38.12" cy="7.24" rx="2.19" ry="1" transform="rotate(-63 38.12 7.24)"/><ellipse cx="1.02" cy="22.35" rx="2.1" ry="1.08" transform="rotate(88 1.02 22.35)"/><ellipse cx="45.58" cy="36.12" rx="1.88" ry="1.08" transform="rotate(61 45.58 36.12)"/><ellipse cx="41.48" cy="20.93" rx="1.76" ry="1.44" transform="rotate(78 41.48 20.93)"/><ellipse cx="21.38" cy="18.89" rx="1.48" ry="0.9" transform="rotate(15 21.38 18.89)"/><ellipse cx="26.64" cy="38.65" rx="2.14" ry="1.35" transform="rotate(-40 26.64 38.65)"/><ellipse cx="35.38" cy="18.35" rx="2.05" ry="1.2" transform="rotate(89 35.38 18.35)"/><ellipse cx="4.32" cy="25.74" rx="2.18" ry="1.04" transform="rotate(-87 4.32 25.74)"/><ellipse cx="16.28" cy="24.67" rx="1.8" ry="1.14" transform="rotate(24 16.28 24.67)"/><ellipse cx="28.75" cy="38.48" rx="1.7" ry="1.37" transform="rotate(-9 28.75 38.48)"/><ellipse cx="-0.84" cy="6.49" rx="1.36" ry="1.43" transform="rotate(-31 -0.84 6.49)"/><ellipse cx="5.95" cy="4.03" rx="1.71" ry="1.38" transform="rotate(-32 5.95 4.03)"/><ellipse cx="45.7" cy="38.7" rx="1.15" ry="0.84" transform="rotate(19 45.7 38.7)"/><ellipse cx="28.58" cy="37.21" rx="2.26" ry="1.19" transform="rotate(-42 28.58 37.21)"/><ellipse cx="25.91" cy="27.83" rx="1.3" ry="1.46" transform="rotate(-76 25.91 27.83)"/><ellipse cx="11.54" cy="2.88" rx="1.97" ry="0.98" transform="rotate(-39 11.54 2.88)"/><ellipse cx="8.88" cy="11.91" rx="1.99" ry="1.01" transform="rotate(-3 8.88 11.91)"/><ellipse cx="39.97" cy="44.48" rx="1.19" ry="1.02" transform="rotate(57 39.97 44.48)"/><ellipse cx="42.42" cy="39.05" rx="1.63" ry="1.05" transform="rotate(-66 42.42 39.05)"/><ellipse cx="34.06" cy="0.34" rx="2" ry="1.42" transform="rotate(-33 34.06 0.34)"/><ellipse cx="0.91" cy="26.42" rx="2.15" ry="1.1" transform="rotate(29 0.91 26.42)"/><ellipse cx="44.64" cy="8.2" rx="1.26" ry="1.21" transform="rotate(-69 44.64 8.2)"/><ellipse cx="4.74" cy="11.42" rx="1.17" ry="1.47" transform="rotate(-54 4.74 11.42)"/><ellipse cx="14.71" cy="43.92" rx="1.36" ry="1.45" transform="rotate(40 14.71 43.92)"/><ellipse cx="-0.56" cy="44.75" rx="1.4" ry="1.19" transform="rotate(-84 -0.56 44.75)"/><ellipse cx="-0.57" cy="34.64" rx="2.08" ry="0.82" transform="rotate(-74 -0.57 34.64)"/><ellipse cx="23.77" cy="8.76" rx="1.69" ry="1.06" transform="rotate(-38 23.77 8.76)"/><ellipse cx="17.38" cy="29.45" rx="1.32" ry="1.28" transform="rotate(-54 17.38 29.45)"/><ellipse cx="12.93" cy="42.48" rx="1.67" ry="0.82" transform="rotate(-13 12.93 42.48)"/><ellipse cx="-0.03" cy="3.88" rx="1.9" ry="1.47" transform="rotate(22 -0.03 3.88)"/><ellipse cx="19.28" cy="31.98" rx="1.19" ry="1.09" transform="rotate(-28 19.28 31.98)"/><ellipse cx="31.91" cy="36.48" rx="2.1" ry="1.19" transform="rotate(81 31.91 36.48)"/><ellipse cx="24.81" cy="22.35" rx="1.92" ry="1.2" transform="rotate(-4 24.81 22.35)"/><ellipse cx="39.2" cy="19.97" rx="2.1" ry="1.27" transform="rotate(-5 39.2 19.97)"/><ellipse cx="23.6" cy="25.26" rx="1.83" ry="0.98" transform="rotate(55 23.6 25.26)"/><ellipse cx="13.55" cy="27.17" rx="1.65" ry="1.42" transform="rotate(-81 13.55 27.17)"/><ellipse cx="9.89" cy="19.7" rx="2.21" ry="1.29" transform="rotate(35 9.89 19.7)"/><ellipse cx="28.35" cy="16.89" rx="1.87" ry="1.05" transform="rotate(-11 28.35 16.89)"/><ellipse cx="35.81" cy="-0.62" rx="1.99" ry="1.01" transform="rotate(45 35.81 -0.62)"/><ellipse cx="-0.3" cy="14.76" rx="2.04" ry="1.41" transform="rotate(16 -0.3 14.76)"/><ellipse cx="8.78" cy="2.81" rx="2.29" ry="1.25" transform="rotate(-68 8.78 2.81)"/><ellipse cx="5.02" cy="31.19" rx="1.83" ry="0.96" transform="rotate(82 5.02 31.19)"/><ellipse cx="44.14" cy="31.65" rx="2.02" ry="1.15" transform="rotate(-57 44.14 31.65)"/><ellipse cx="25.92" cy="16.05" rx="1.6" ry="1.17" transform="rotate(-37 25.92 16.05)"/><ellipse cx="20.64" cy="39.37" rx="1.34" ry="1.46" transform="rotate(-76 20.64 39.37)"/><ellipse cx="27.51" cy="27.78" rx="1.39" ry="1.08" transform="rotate(23 27.51 27.78)"/><ellipse cx="8.86" cy="6.08" rx="1.99" ry="1.42" transform="rotate(88 8.86 6.08)"/><ellipse cx="-0.93" cy="31.83" rx="1.7" ry="1.27" transform="rotate(-34 -0.93 31.83)"/><ellipse cx="0.46" cy="16.28" rx="2.15" ry="1.16" transform="rotate(9 0.46 16.28)"/><ellipse cx="13.89" cy="27.14" rx="1.45" ry="1.18" transform="rotate(15 13.89 27.14)"/><ellipse cx="11.95" cy="-0.47" rx="1.2" ry="1.14" transform="rotate(-34 11.95 -0.47)"/><ellipse cx="22.5" cy="39.55" rx="2" ry="1.49" transform="rotate(44 22.5 39.55)"/><ellipse cx="11.41" cy="16.37" rx="1.22" ry="1.16" transform="rotate(-48 11.41 16.37)"/><ellipse cx="22.98" cy="5.05" rx="2.27" ry="0.85" transform="rotate(76 22.98 5.05)"/><ellipse cx="-0.85" cy="1.88" rx="2.12" ry="0.85" transform="rotate(41 -0.85 1.88)"/><ellipse cx="-0.58" cy="24.07" rx="1.12" ry="0.81" transform="rotate(-30 -0.58 24.07)"/><ellipse cx="8.91" cy="8.33" rx="1.76" ry="0.98" transform="rotate(-36 8.91 8.33)"/></g>
</svg>
<rect x="17.9" y="144.2" width="44.9" height="44.6" fill="none" stroke="#1a1020" stroke-width="1.2"/>
<rect x="17.9" y="241.2" width="44.9" height="44.6" fill="#c088d2"/>
<svg x="17.9" y="241.2" width="44.9" height="44.6" overflow="hidden">
<g fill="#e0a8e8" fill-opacity="0.7"><ellipse cx="43.84" cy="43.17" rx="1.67" ry="1.47" transform="rotate(-66 43.84 43.17)"/><ellipse cx="33.52" cy="30.21" rx="2.71" ry="1.29" transform="rotate(-51 33.52 30.21)"/><ellipse cx="26.26" cy="6.38" rx="2.29" ry="1.38" transform="rotate(-44 26.26 6.38)"/><ellipse cx="45.66" cy="43.24" rx="2.39" ry="1.01" transform="rotate(-37 45.66 43.24)"/><ellipse cx="0.68" cy="0.28" rx="2.14" ry="1.1" transform="rotate(-42 0.68 0.28)"/><ellipse cx="40.82" cy="23.5" rx="1.97" ry="0.82" transform="rotate(-36 40.82 23.5)"/><ellipse cx="14.25" cy="5.37" rx="3.5" ry="1.34" transform="rotate(-39 14.25 5.37)"/><ellipse cx="7.53" cy="40.64" rx="2.97" ry="1.53" transform="rotate(-22 7.53 40.64)"/><ellipse cx="34.78" cy="35.8" rx="3.46" ry="1.57" transform="rotate(-48 34.78 35.8)"/><ellipse cx="6.56" cy="34.14" rx="2.42" ry="1.22" transform="rotate(-27 6.56 34.14)"/><ellipse cx="21.98" cy="42.1" rx="3.16" ry="1.08" transform="rotate(-39 21.98 42.1)"/><ellipse cx="40.41" cy="40.93" rx="2.64" ry="1.54" transform="rotate(-42 40.41 40.93)"/><ellipse cx="32.94" cy="21.68" rx="2.15" ry="1.36" transform="rotate(-56 32.94 21.68)"/><ellipse cx="6.79" cy="41.31" rx="3.32" ry="1.05" transform="rotate(-53 6.79 41.31)"/><ellipse cx="43.9" cy="31.91" rx="2.54" ry="1.32" transform="rotate(-39 43.9 31.91)"/><ellipse cx="26.57" cy="13.53" rx="2.52" ry="1.55" transform="rotate(-57 26.57 13.53)"/><ellipse cx="28.23" cy="2.51" rx="2.95" ry="1.53" transform="rotate(-20 28.23 2.51)"/><ellipse cx="7.98" cy="33.71" rx="2.81" ry="1.02" transform="rotate(-66 7.98 33.71)"/><ellipse cx="9.63" cy="39.8" rx="2.54" ry="1.48" transform="rotate(-63 9.63 39.8)"/><ellipse cx="10.48" cy="8.81" rx="2.35" ry="1.37" transform="rotate(-17 10.48 8.81)"/><ellipse cx="0.49" cy="15.89" rx="2.85" ry="0.87" transform="rotate(-59 0.49 15.89)"/><ellipse cx="43.77" cy="0.18" rx="1.54" ry="1" transform="rotate(-26 43.77 0.18)"/><ellipse cx="37.15" cy="6.32" rx="2.88" ry="1.11" transform="rotate(-58 37.15 6.32)"/><ellipse cx="1.02" cy="45.13" rx="1.57" ry="1.08" transform="rotate(-60 1.02 45.13)"/><ellipse cx="27.85" cy="33.6" rx="2.17" ry="0.82" transform="rotate(-63 27.85 33.6)"/><ellipse cx="20.04" cy="34.69" rx="3.3" ry="1.4" transform="rotate(-25 20.04 34.69)"/><ellipse cx="39.45" cy="31.87" rx="1.95" ry="1.33" transform="rotate(-41 39.45 31.87)"/><ellipse cx="13.83" cy="3.76" rx="3.25" ry="0.9" transform="rotate(-43 13.83 3.76)"/><ellipse cx="26.43" cy="17.31" rx="1.79" ry="1.57" transform="rotate(-39 26.43 17.31)"/><ellipse cx="11.15" cy="27.24" rx="1.54" ry="1.25" transform="rotate(-44 11.15 27.24)"/><ellipse cx="5.59" cy="1.65" rx="1.82" ry="0.88" transform="rotate(-67 5.59 1.65)"/><ellipse cx="28.79" cy="22.68" rx="3.37" ry="1.6" transform="rotate(-10 28.79 22.68)"/><ellipse cx="9.9" cy="19.72" rx="2.68" ry="1.3" transform="rotate(-54 9.9 19.72)"/><ellipse cx="36.53" cy="32.06" rx="2.35" ry="1.22" transform="rotate(-54 36.53 32.06)"/><ellipse cx="-0.77" cy="0.65" rx="1.72" ry="1.38" transform="rotate(-45 -0.77 0.65)"/><ellipse cx="10.3" cy="3.65" rx="1.96" ry="0.97" transform="rotate(-59 10.3 3.65)"/><ellipse cx="23.42" cy="20.64" rx="2.78" ry="0.97" transform="rotate(-51 23.42 20.64)"/><ellipse cx="41.52" cy="43.88" rx="2.37" ry="1.21" transform="rotate(-26 41.52 43.88)"/><ellipse cx="26.25" cy="1.39" rx="2.55" ry="0.94" transform="rotate(-44 26.25 1.39)"/><ellipse cx="3.4" cy="36.4" rx="2.54" ry="1.54" transform="rotate(-48 3.4 36.4)"/><ellipse cx="27.63" cy="12.49" rx="2.24" ry="0.82" transform="rotate(-10 27.63 12.49)"/><ellipse cx="31.14" cy="3.71" rx="3.18" ry="1.34" transform="rotate(-51 31.14 3.71)"/><ellipse cx="-0.26" cy="20.04" rx="2.47" ry="0.97" transform="rotate(-45 -0.26 20.04)"/><ellipse cx="26.61" cy="2.44" rx="2.25" ry="1.55" transform="rotate(-52 26.61 2.44)"/><ellipse cx="2.59" cy="34.18" rx="2.64" ry="1.11" transform="rotate(-58 2.59 34.18)"/><ellipse cx="20.73" cy="34.12" rx="1.74" ry="0.9" transform="rotate(-46 20.73 34.12)"/><ellipse cx="2.78" cy="38.61" rx="3.42" ry="1.35" transform="rotate(-31 2.78 38.61)"/><ellipse cx="0.16" cy="29.72" rx="2.95" ry="1.2" transform="rotate(-23 0.16 29.72)"/><ellipse cx="15.77" cy="20.3" rx="2.04" ry="1.22" transform="rotate(-22 15.77 20.3)"/><ellipse cx="21.4" cy="43.49" rx="3.36" ry="1.47" transform="rotate(-21 21.4 43.49)"/><ellipse cx="12.92" cy="9.79" rx="2.02" ry="1.14" transform="rotate(-40 12.92 9.79)"/><ellipse cx="30.85" cy="41.81" rx="3.14" ry="0.88" transform="rotate(-34 30.85 41.81)"/><ellipse cx="15.7" cy="45.5" rx="2.33" ry="0.85" transform="rotate(-61 15.7 45.5)"/><ellipse cx="3.04" cy="40.73" rx="2.8" ry="0.9" transform="rotate(-10 3.04 40.73)"/><ellipse cx="12.9" cy="9.8" rx="2.86" ry="1.15" transform="rotate(-29 12.9 9.8)"/><ellipse cx="23.58" cy="4.22" rx="3.4" ry="1.4" transform="rotate(-37 23.58 4.22)"/><ellipse cx="3.51" cy="23.07" rx="2.01" ry="1.52" transform="rotate(-27 3.51 23.07)"/><ellipse cx="20.62" cy="31.77" rx="3.49" ry="1.43" transform="rotate(-45 20.62 31.77)"/><ellipse cx="25.89" cy="5.75" rx="1.56" ry="1.28" transform="rotate(-43 25.89 5.75)"/><ellipse cx="40.36" cy="7.41" rx="2.46" ry="1.12" transform="rotate(-39 40.36 7.41)"/><ellipse cx="32.32" cy="42.65" rx="2.44" ry="1.57" transform="rotate(-27 32.32 42.65)"/><ellipse cx="14.51" cy="33.75" rx="3.02" ry="1.48" transform="rotate(-30 14.51 33.75)"/><ellipse cx="9.55" cy="27.95" rx="2.83" ry="1.58" transform="rotate(-45 9.55 27.95)"/><ellipse cx="28.77" cy="-0.46" rx="2.92" ry="1.51" transform="rotate(-42 28.77 -0.46)"/><ellipse cx="29.49" cy="37.03" rx="3.39" ry="1.38" transform="rotate(-68 29.49 37.03)"/><ellipse cx="27.44" cy="41.19" rx="1.7" ry="1.45" transform="rotate(-16 27.44 41.19)"/><ellipse cx="34.97" cy="8.3" rx="2.67" ry="0.95" transform="rotate(-25 34.97 8.3)"/><ellipse cx="36.72" cy="5.42" rx="2.37" ry="1" transform="rotate(-33 36.72 5.42)"/><ellipse cx="25.55" cy="20.77" rx="3.43" ry="0.86" transform="rotate(-57 25.55 20.77)"/><ellipse cx="-0.86" cy="21.62" rx="2.82" ry="1.4" transform="rotate(-19 -0.86 21.62)"/></g>
<g fill="#8a5ab8" fill-opacity="0.6"><ellipse cx="21.75" cy="30.45" rx="1.9" ry="1.1" transform="rotate(-49 21.75 30.45)"/><ellipse cx="0.29" cy="2.72" rx="1.76" ry="1.25" transform="rotate(-24 0.29 2.72)"/><ellipse cx="35.79" cy="17.85" rx="2.68" ry="1.32" transform="rotate(-29 35.79 17.85)"/><ellipse cx="5.33" cy="6.58" rx="2.2" ry="0.98" transform="rotate(-47 5.33 6.58)"/><ellipse cx="-0.51" cy="24.98" rx="2.05" ry="1.12" transform="rotate(-11 -0.51 24.98)"/><ellipse cx="16.93" cy="19.63" rx="1.96" ry="1.19" transform="rotate(-17 16.93 19.63)"/><ellipse cx="21.69" cy="24.1" rx="1.62" ry="1.29" transform="rotate(-15 21.69 24.1)"/><ellipse cx="13.27" cy="29.12" rx="2.48" ry="1.04" transform="rotate(-22 13.27 29.12)"/><ellipse cx="38.43" cy="3.33" rx="2.09" ry="1.12" transform="rotate(-32 38.43 3.33)"/><ellipse cx="38.91" cy="36.18" rx="1.96" ry="0.94" transform="rotate(-32 38.91 36.18)"/><ellipse cx="20.46" cy="9.82" rx="2.94" ry="0.87" transform="rotate(-53 20.46 9.82)"/><ellipse cx="37.39" cy="16.67" rx="1.98" ry="0.85" transform="rotate(-48 37.39 16.67)"/><ellipse cx="20.45" cy="6.76" rx="1.94" ry="1.34" transform="rotate(-43 20.45 6.76)"/><ellipse cx="42.23" cy="19.6" rx="2.89" ry="1" transform="rotate(-31 42.23 19.6)"/><ellipse cx="3.67" cy="10.08" rx="2.52" ry="1.02" transform="rotate(-58 3.67 10.08)"/><ellipse cx="15.7" cy="36.05" rx="2.71" ry="1.18" transform="rotate(-56 15.7 36.05)"/><ellipse cx="17.77" cy="37.38" rx="2.82" ry="1.36" transform="rotate(-49 17.77 37.38)"/><ellipse cx="22.57" cy="31.15" rx="2.61" ry="1.25" transform="rotate(-13 22.57 31.15)"/><ellipse cx="39.77" cy="42.6" rx="2.97" ry="0.97" transform="rotate(-24 39.77 42.6)"/><ellipse cx="28.19" cy="30.25" rx="2.09" ry="0.9" transform="rotate(-47 28.19 30.25)"/><ellipse cx="43.92" cy="15.5" rx="2.84" ry="0.91" transform="rotate(-41 43.92 15.5)"/><ellipse cx="44.06" cy="4.92" rx="2.03" ry="1.02" transform="rotate(-68 44.06 4.92)"/><ellipse cx="42.04" cy="40.16" rx="2.15" ry="1.13" transform="rotate(-24 42.04 40.16)"/><ellipse cx="10.1" cy="37.84" rx="1.93" ry="1.18" transform="rotate(-46 10.1 37.84)"/><ellipse cx="6.06" cy="13.74" rx="1.64" ry="0.89" transform="rotate(-14 6.06 13.74)"/><ellipse cx="8.58" cy="10.7" rx="1.88" ry="1.01" transform="rotate(-44 8.58 10.7)"/><ellipse cx="10.56" cy="10.19" rx="2" ry="1.02" transform="rotate(-33 10.56 10.19)"/><ellipse cx="35.01" cy="1.87" rx="2.78" ry="1.06" transform="rotate(-61 35.01 1.87)"/><ellipse cx="35.53" cy="5.19" rx="2.77" ry="1" transform="rotate(-38 35.53 5.19)"/><ellipse cx="35.03" cy="27.44" rx="3" ry="1.04" transform="rotate(-46 35.03 27.44)"/><ellipse cx="21.22" cy="27.87" rx="2.76" ry="1.16" transform="rotate(-50 21.22 27.87)"/><ellipse cx="26.58" cy="24.1" rx="2.98" ry="1.3" transform="rotate(-10 26.58 24.1)"/><ellipse cx="20.32" cy="18.19" rx="1.57" ry="0.86" transform="rotate(-38 20.32 18.19)"/><ellipse cx="45.68" cy="4.97" rx="2.52" ry="1.35" transform="rotate(-13 45.68 4.97)"/><ellipse cx="2.63" cy="13.25" rx="1.51" ry="0.86" transform="rotate(-22 2.63 13.25)"/><ellipse cx="15.45" cy="7.07" rx="2.5" ry="0.86" transform="rotate(-61 15.45 7.07)"/><ellipse cx="44.56" cy="29.26" rx="2.85" ry="0.94" transform="rotate(-67 44.56 29.26)"/><ellipse cx="21.58" cy="25.04" rx="2.25" ry="0.84" transform="rotate(-61 21.58 25.04)"/><ellipse cx="8.36" cy="41.81" rx="2.28" ry="1.21" transform="rotate(-20 8.36 41.81)"/><ellipse cx="40.06" cy="5.52" rx="1.7" ry="0.87" transform="rotate(-40 40.06 5.52)"/><ellipse cx="4.08" cy="8.87" rx="1.82" ry="1.03" transform="rotate(-66 4.08 8.87)"/><ellipse cx="28.2" cy="39.01" rx="2.58" ry="1.1" transform="rotate(-15 28.2 39.01)"/><ellipse cx="42.01" cy="6.6" rx="2.73" ry="1.18" transform="rotate(-63 42.01 6.6)"/><ellipse cx="8.86" cy="16.58" rx="2.15" ry="1.06" transform="rotate(-52 8.86 16.58)"/><ellipse cx="17.67" cy="36.17" rx="2.34" ry="1.08" transform="rotate(-21 17.67 36.17)"/><ellipse cx="12.34" cy="34.67" rx="1.84" ry="1.22" transform="rotate(-10 12.34 34.67)"/><ellipse cx="31.79" cy="29.67" rx="2.33" ry="0.92" transform="rotate(-68 31.79 29.67)"/><ellipse cx="8.11" cy="26.02" rx="2.44" ry="1.25" transform="rotate(-31 8.11 26.02)"/><ellipse cx="31.95" cy="21.14" rx="2.66" ry="1.29" transform="rotate(-67 31.95 21.14)"/><ellipse cx="38.18" cy="26.87" rx="1.79" ry="0.87" transform="rotate(-67 38.18 26.87)"/></g>
<g fill="#fae4fa" fill-opacity="0.8"><ellipse cx="28.82" cy="24.36" rx="2.14" ry="0.69" transform="rotate(-58 28.82 24.36)"/><ellipse cx="41.18" cy="20.62" rx="1.09" ry="0.64" transform="rotate(-52 41.18 20.62)"/><ellipse cx="31.87" cy="11.92" rx="1.6" ry="0.49" transform="rotate(-15 31.87 11.92)"/><ellipse cx="18.48" cy="32.57" rx="1.72" ry="0.39" transform="rotate(-42 18.48 32.57)"/><ellipse cx="31.94" cy="11.69" rx="1.1" ry="0.47" transform="rotate(-15 31.94 11.69)"/><ellipse cx="24.23" cy="17.29" rx="2.09" ry="0.42" transform="rotate(-38 24.23 17.29)"/><ellipse cx="35.22" cy="31.31" rx="1.43" ry="0.51" transform="rotate(-22 35.22 31.31)"/><ellipse cx="15.22" cy="21.05" rx="1.07" ry="0.52" transform="rotate(-54 15.22 21.05)"/><ellipse cx="8.01" cy="20.87" rx="1.23" ry="0.41" transform="rotate(-35 8.01 20.87)"/><ellipse cx="27.38" cy="39.08" rx="1.66" ry="0.58" transform="rotate(-56 27.38 39.08)"/><ellipse cx="40.5" cy="30.79" rx="1.09" ry="0.64" transform="rotate(-51 40.5 30.79)"/><ellipse cx="13.03" cy="-0.41" rx="1.08" ry="0.46" transform="rotate(-17 13.03 -0.41)"/><ellipse cx="13.96" cy="10.92" rx="1.28" ry="0.5" transform="rotate(-26 13.96 10.92)"/><ellipse cx="18.67" cy="37.84" rx="1.61" ry="0.4" transform="rotate(-68 18.67 37.84)"/><ellipse cx="6.06" cy="27.28" rx="0.89" ry="0.56" transform="rotate(-47 6.06 27.28)"/><ellipse cx="41.88" cy="29.06" rx="1.92" ry="0.67" transform="rotate(-40 41.88 29.06)"/><ellipse cx="6.09" cy="12.95" rx="2.1" ry="0.42" transform="rotate(-12 6.09 12.95)"/><ellipse cx="32" cy="39.74" rx="1.78" ry="0.53" transform="rotate(-34 32 39.74)"/><ellipse cx="10.01" cy="8.93" rx="1.73" ry="0.4" transform="rotate(-66 10.01 8.93)"/><ellipse cx="28.15" cy="17.23" rx="2.16" ry="0.49" transform="rotate(-43 28.15 17.23)"/><ellipse cx="21.27" cy="16.7" rx="1.11" ry="0.54" transform="rotate(-57 21.27 16.7)"/><ellipse cx="37.34" cy="3.22" rx="1.74" ry="0.37" transform="rotate(-13 37.34 3.22)"/><ellipse cx="32.16" cy="17.71" rx="0.94" ry="0.53" transform="rotate(-39 32.16 17.71)"/><ellipse cx="23.38" cy="35.46" rx="1.79" ry="0.61" transform="rotate(-35 23.38 35.46)"/><ellipse cx="9.37" cy="0.15" rx="0.98" ry="0.4" transform="rotate(-41 9.37 0.15)"/><ellipse cx="14.09" cy="24.06" rx="1.7" ry="0.68" transform="rotate(-33 14.09 24.06)"/><ellipse cx="3.79" cy="25" rx="1.74" ry="0.5" transform="rotate(-64 3.79 25)"/><ellipse cx="5.57" cy="13.47" rx="1.46" ry="0.68" transform="rotate(-30 5.57 13.47)"/><ellipse cx="15.66" cy="14.85" rx="1.65" ry="0.39" transform="rotate(-14 15.66 14.85)"/><ellipse cx="35.78" cy="15.94" rx="1.69" ry="0.63" transform="rotate(-13 35.78 15.94)"/><ellipse cx="41.02" cy="22.73" rx="0.84" ry="0.47" transform="rotate(-11 41.02 22.73)"/><ellipse cx="38.29" cy="-0.62" rx="2.2" ry="0.6" transform="rotate(-29 38.29 -0.62)"/><ellipse cx="39.44" cy="2.58" rx="1.65" ry="0.5" transform="rotate(-37 39.44 2.58)"/><ellipse cx="18.67" cy="35.84" rx="0.86" ry="0.56" transform="rotate(-60 18.67 35.84)"/><ellipse cx="44.33" cy="37.54" rx="1.21" ry="0.67" transform="rotate(-29 44.33 37.54)"/><ellipse cx="0.89" cy="10.49" rx="2.05" ry="0.49" transform="rotate(-22 0.89 10.49)"/><ellipse cx="41.64" cy="4.17" rx="0.89" ry="0.43" transform="rotate(-34 41.64 4.17)"/><ellipse cx="7.91" cy="-0.71" rx="1.5" ry="0.45" transform="rotate(-45 7.91 -0.71)"/><ellipse cx="29.56" cy="1.44" rx="1.54" ry="0.49" transform="rotate(-38 29.56 1.44)"/><ellipse cx="41.9" cy="4.9" rx="1.44" ry="0.48" transform="rotate(-44 41.9 4.9)"/><ellipse cx="44.67" cy="25.65" rx="1.42" ry="0.5" transform="rotate(-39 44.67 25.65)"/><ellipse cx="43.6" cy="36.24" rx="1.03" ry="0.56" transform="rotate(-31 43.6 36.24)"/><ellipse cx="5" cy="15.35" rx="1.79" ry="0.69" transform="rotate(-68 5 15.35)"/><ellipse cx="28.91" cy="25.55" rx="1.42" ry="0.51" transform="rotate(-54 28.91 25.55)"/><ellipse cx="18.84" cy="11.55" rx="1.85" ry="0.68" transform="rotate(-56 18.84 11.55)"/><ellipse cx="37.52" cy="27.96" rx="1.22" ry="0.64" transform="rotate(-68 37.52 27.96)"/><ellipse cx="44.62" cy="24.53" rx="1.76" ry="0.44" transform="rotate(-35 44.62 24.53)"/><ellipse cx="32.4" cy="16.01" rx="1.45" ry="0.58" transform="rotate(-19 32.4 16.01)"/><ellipse cx="25.08" cy="23.92" rx="2.13" ry="0.61" transform="rotate(-42 25.08 23.92)"/><ellipse cx="18.69" cy="22.55" rx="1.85" ry="0.58" transform="rotate(-16 18.69 22.55)"/><ellipse cx="43.97" cy="4.46" rx="1.67" ry="0.51" transform="rotate(-34 43.97 4.46)"/><ellipse cx="44.17" cy="44.08" rx="1.66" ry="0.62" transform="rotate(-46 44.17 44.08)"/><ellipse cx="31.65" cy="15.9" rx="1.29" ry="0.4" transform="rotate(-22 31.65 15.9)"/><ellipse cx="30.17" cy="29.25" rx="1.5" ry="0.7" transform="rotate(-45 30.17 29.25)"/><ellipse cx="36.9" cy="17.97" rx="1.6" ry="0.49" transform="rotate(-15 36.9 17.97)"/><ellipse cx="29.34" cy="35.51" rx="1.74" ry="0.58" transform="rotate(-16 29.34 35.51)"/><ellipse cx="17.8" cy="0.88" rx="0.96" ry="0.68" transform="rotate(-42 17.8 0.88)"/><ellipse cx="16" cy="27.19" rx="1.05" ry="0.64" transform="rotate(-26 16 27.19)"/><ellipse cx="14.27" cy="2.75" rx="1.36" ry="0.67" transform="rotate(-34 14.27 2.75)"/><ellipse cx="19.86" cy="3.4" rx="0.84" ry="0.52" transform="rotate(-68 19.86 3.4)"/><ellipse cx="32.49" cy="1.39" rx="1.47" ry="0.66" transform="rotate(-50 32.49 1.39)"/><ellipse cx="44.52" cy="39.78" rx="1.61" ry="0.43" transform="rotate(-31 44.52 39.78)"/><ellipse cx="27.72" cy="6.73" rx="1.96" ry="0.55" transform="rotate(-51 27.72 6.73)"/><ellipse cx="33.06" cy="20.69" rx="1.51" ry="0.55" transform="rotate(-53 33.06 20.69)"/><ellipse cx="10.34" cy="38.4" rx="1.05" ry="0.43" transform="rotate(-11 10.34 38.4)"/><ellipse cx="37.05" cy="32.64" rx="1.62" ry="0.43" transform="rotate(-56 37.05 32.64)"/><ellipse cx="39.47" cy="26.37" rx="1.03" ry="0.49" transform="rotate(-39 39.47 26.37)"/><ellipse cx="21.18" cy="15.86" rx="1.08" ry="0.6" transform="rotate(-59 21.18 15.86)"/><ellipse cx="42.38" cy="38.33" rx="1.91" ry="0.4" transform="rotate(-33 42.38 38.33)"/><ellipse cx="8.85" cy="31.79" rx="0.92" ry="0.62" transform="rotate(-69 8.85 31.79)"/><ellipse cx="8.24" cy="7.62" rx="1.97" ry="0.35" transform="rotate(-46 8.24 7.62)"/><ellipse cx="40.15" cy="13.21" rx="1.46" ry="0.39" transform="rotate(-35 40.15 13.21)"/><ellipse cx="43.95" cy="7.19" rx="2.03" ry="0.51" transform="rotate(-21 43.95 7.19)"/><ellipse cx="44.03" cy="1.93" rx="1.48" ry="0.38" transform="rotate(-61 44.03 1.93)"/><ellipse cx="36.89" cy="23.54" rx="1.2" ry="0.36" transform="rotate(-22 36.89 23.54)"/><ellipse cx="40.76" cy="8.71" rx="0.98" ry="0.56" transform="rotate(-44 40.76 8.71)"/><ellipse cx="20.76" cy="8.23" rx="1.27" ry="0.62" transform="rotate(-67 20.76 8.23)"/><ellipse cx="6.22" cy="9.64" rx="1.69" ry="0.63" transform="rotate(-32 6.22 9.64)"/><ellipse cx="29.25" cy="38.6" rx="2.09" ry="0.36" transform="rotate(-60 29.25 38.6)"/><ellipse cx="4.58" cy="3.83" rx="1.51" ry="0.67" transform="rotate(-23 4.58 3.83)"/><ellipse cx="44.72" cy="43.37" rx="1.29" ry="0.68" transform="rotate(-33 44.72 43.37)"/><ellipse cx="33.36" cy="8.13" rx="0.83" ry="0.36" transform="rotate(-36 33.36 8.13)"/><ellipse cx="28.96" cy="32.52" rx="1.85" ry="0.4" transform="rotate(-18 28.96 32.52)"/><ellipse cx="33.61" cy="44.72" rx="1.47" ry="0.45" transform="rotate(-29 33.61 44.72)"/><ellipse cx="1.99" cy="28.14" rx="0.96" ry="0.64" transform="rotate(-12 1.99 28.14)"/><ellipse cx="41.1" cy="15.41" rx="1.02" ry="0.46" transform="rotate(-19 41.1 15.41)"/><ellipse cx="25.57" cy="39.98" rx="0.93" ry="0.68" transform="rotate(-37 25.57 39.98)"/><ellipse cx="25.81" cy="35.3" rx="1.27" ry="0.38" transform="rotate(-56 25.81 35.3)"/><ellipse cx="7.76" cy="19.37" rx="1.72" ry="0.64" transform="rotate(-45 7.76 19.37)"/><ellipse cx="14.67" cy="42.13" rx="1.28" ry="0.41" transform="rotate(-30 14.67 42.13)"/></g>
<g fill="#2c1660" fill-opacity="0.9"><ellipse cx="43.84" cy="29.61" rx="1.82" ry="0.69" transform="rotate(-71 43.84 29.61)"/><ellipse cx="18.75" cy="34.67" rx="1.32" ry="0.77" transform="rotate(-59 18.75 34.67)"/><ellipse cx="41.43" cy="3.01" rx="1.86" ry="0.59" transform="rotate(-16 41.43 3.01)"/><ellipse cx="30.04" cy="27.94" rx="1.64" ry="0.66" transform="rotate(-25 30.04 27.94)"/><ellipse cx="22.57" cy="10.08" rx="1.49" ry="0.55" transform="rotate(-43 22.57 10.08)"/><ellipse cx="9.88" cy="15.05" rx="1.68" ry="0.87" transform="rotate(-47 9.88 15.05)"/><ellipse cx="11.15" cy="24.85" rx="1.27" ry="0.57" transform="rotate(-51 11.15 24.85)"/><ellipse cx="44.02" cy="42.45" rx="1.21" ry="0.58" transform="rotate(-16 44.02 42.45)"/><ellipse cx="3.89" cy="13" rx="1.01" ry="0.71" transform="rotate(-45 3.89 13)"/><ellipse cx="31.33" cy="37.86" rx="1" ry="0.9" transform="rotate(-61 31.33 37.86)"/><ellipse cx="16.83" cy="13.62" rx="1.32" ry="0.63" transform="rotate(-64 16.83 13.62)"/><ellipse cx="11.05" cy="9.85" rx="1.98" ry="0.65" transform="rotate(-38 11.05 9.85)"/><ellipse cx="18.53" cy="21.53" rx="1.92" ry="0.99" transform="rotate(-16 18.53 21.53)"/><ellipse cx="7.12" cy="36.53" rx="1.69" ry="0.76" transform="rotate(-54 7.12 36.53)"/><ellipse cx="25.95" cy="14" rx="1.01" ry="0.96" transform="rotate(-69 25.95 14)"/><ellipse cx="40.57" cy="20.44" rx="2.01" ry="0.75" transform="rotate(-68 40.57 20.44)"/><ellipse cx="21.06" cy="28.78" rx="1.26" ry="0.91" transform="rotate(-63 21.06 28.78)"/><ellipse cx="33.45" cy="44.84" rx="2.17" ry="0.94" transform="rotate(-44 33.45 44.84)"/><ellipse cx="22.81" cy="40.57" rx="1.08" ry="0.91" transform="rotate(-63 22.81 40.57)"/><ellipse cx="5.63" cy="23.02" rx="1.82" ry="0.61" transform="rotate(-23 5.63 23.02)"/><ellipse cx="35.91" cy="0.98" rx="2.08" ry="0.77" transform="rotate(-35 35.91 0.98)"/><ellipse cx="13.19" cy="45.47" rx="1.95" ry="0.95" transform="rotate(-24 13.19 45.47)"/><ellipse cx="42.85" cy="25.75" rx="1.6" ry="0.63" transform="rotate(-17 42.85 25.75)"/><ellipse cx="12.05" cy="11.2" rx="1.74" ry="0.7" transform="rotate(-73 12.05 11.2)"/><ellipse cx="41.69" cy="1.38" rx="1.23" ry="0.66" transform="rotate(-20 41.69 1.38)"/><ellipse cx="12.72" cy="43.61" rx="1.56" ry="0.59" transform="rotate(-29 12.72 43.61)"/><ellipse cx="1.24" cy="16.12" rx="1.53" ry="0.84" transform="rotate(-6 1.24 16.12)"/><ellipse cx="40.29" cy="1.22" rx="1.5" ry="0.61" transform="rotate(-52 40.29 1.22)"/><ellipse cx="16.96" cy="30.76" rx="1.83" ry="0.65" transform="rotate(-65 16.96 30.76)"/><ellipse cx="29.82" cy="7.09" rx="1.5" ry="0.92" transform="rotate(-19 29.82 7.09)"/><ellipse cx="44.38" cy="26.09" rx="1.44" ry="0.99" transform="rotate(-73 44.38 26.09)"/><ellipse cx="29.58" cy="34.35" rx="2.13" ry="0.95" transform="rotate(-41 29.58 34.35)"/><ellipse cx="27.73" cy="26.48" rx="1.01" ry="0.6" transform="rotate(-67 27.73 26.48)"/><ellipse cx="32.8" cy="38.48" rx="2.06" ry="0.52" transform="rotate(-21 32.8 38.48)"/><ellipse cx="0.34" cy="10.9" rx="1.7" ry="0.96" transform="rotate(-73 0.34 10.9)"/><ellipse cx="41.16" cy="3.95" rx="1.81" ry="0.83" transform="rotate(-28 41.16 3.95)"/><ellipse cx="18.3" cy="10.02" rx="2.08" ry="0.86" transform="rotate(-12 18.3 10.02)"/><ellipse cx="24.5" cy="0.54" rx="1.29" ry="0.62" transform="rotate(-55 24.5 0.54)"/><ellipse cx="9.13" cy="30.13" rx="1.21" ry="0.95" transform="rotate(-27 9.13 30.13)"/><ellipse cx="-0.97" cy="43.53" rx="1.77" ry="0.64" transform="rotate(-34 -0.97 43.53)"/><ellipse cx="31.43" cy="39.84" rx="1.16" ry="0.89" transform="rotate(-60 31.43 39.84)"/><ellipse cx="10.69" cy="3.92" rx="1.22" ry="0.61" transform="rotate(-40 10.69 3.92)"/><ellipse cx="12.31" cy="2.94" rx="1.68" ry="0.83" transform="rotate(-17 12.31 2.94)"/><ellipse cx="12.7" cy="35.13" rx="2.2" ry="0.52" transform="rotate(-7 12.7 35.13)"/><ellipse cx="13.56" cy="3.17" rx="1.79" ry="0.8" transform="rotate(-41 13.56 3.17)"/><ellipse cx="15.63" cy="43.9" rx="2.2" ry="0.71" transform="rotate(-31 15.63 43.9)"/><ellipse cx="29.24" cy="3.62" rx="1.78" ry="0.62" transform="rotate(-37 29.24 3.62)"/><ellipse cx="28.28" cy="5.16" rx="1.73" ry="0.74" transform="rotate(-42 28.28 5.16)"/><ellipse cx="6.1" cy="7.86" rx="1.78" ry="0.72" transform="rotate(-48 6.1 7.86)"/><ellipse cx="8.42" cy="14.75" rx="1.17" ry="0.79" transform="rotate(-53 8.42 14.75)"/><ellipse cx="21.09" cy="14.17" rx="2.1" ry="0.52" transform="rotate(-74 21.09 14.17)"/><ellipse cx="4.4" cy="12.69" rx="2.12" ry="0.88" transform="rotate(-19 4.4 12.69)"/><ellipse cx="8.68" cy="38.11" rx="1.13" ry="0.56" transform="rotate(-72 8.68 38.11)"/><ellipse cx="25.42" cy="26.66" rx="2.14" ry="0.88" transform="rotate(-31 25.42 26.66)"/><ellipse cx="33.88" cy="7.06" rx="2.1" ry="0.91" transform="rotate(-11 33.88 7.06)"/><ellipse cx="2.79" cy="32.27" rx="1.64" ry="0.63" transform="rotate(-38 2.79 32.27)"/><ellipse cx="35.25" cy="36.59" rx="1.36" ry="0.87" transform="rotate(-21 35.25 36.59)"/><ellipse cx="3.05" cy="30.72" rx="1.01" ry="0.55" transform="rotate(-72 3.05 30.72)"/><ellipse cx="29.62" cy="44.84" rx="1.77" ry="0.79" transform="rotate(-42 29.62 44.84)"/><ellipse cx="38.46" cy="44.19" rx="1.4" ry="0.54" transform="rotate(-17 38.46 44.19)"/><ellipse cx="40.89" cy="12" rx="2.04" ry="0.58" transform="rotate(-21 40.89 12)"/><ellipse cx="8.1" cy="18.69" rx="2.02" ry="1" transform="rotate(-15 8.1 18.69)"/><ellipse cx="11.81" cy="28.03" rx="1.45" ry="0.79" transform="rotate(-13 11.81 28.03)"/><ellipse cx="9.53" cy="38.92" rx="1.58" ry="0.83" transform="rotate(-44 9.53 38.92)"/><ellipse cx="13.97" cy="36.88" rx="1.52" ry="0.86" transform="rotate(-42 13.97 36.88)"/><ellipse cx="30.27" cy="32.07" rx="1.97" ry="0.7" transform="rotate(-13 30.27 32.07)"/><ellipse cx="29.2" cy="39.25" rx="1.79" ry="0.76" transform="rotate(-71 29.2 39.25)"/><ellipse cx="17.91" cy="4.55" rx="1.9" ry="0.94" transform="rotate(-54 17.91 4.55)"/><ellipse cx="45.27" cy="34.16" rx="1.99" ry="0.58" transform="rotate(-13 45.27 34.16)"/><ellipse cx="31.38" cy="39.5" rx="1.33" ry="0.85" transform="rotate(-22 31.38 39.5)"/><ellipse cx="17.28" cy="19.16" rx="1.81" ry="0.57" transform="rotate(-23 17.28 19.16)"/><ellipse cx="29.05" cy="1.78" rx="1.99" ry="0.96" transform="rotate(-60 29.05 1.78)"/><ellipse cx="10.92" cy="34.62" rx="1.6" ry="0.67" transform="rotate(-62 10.92 34.62)"/><ellipse cx="2.94" cy="19.19" rx="2.02" ry="0.55" transform="rotate(-36 2.94 19.19)"/><ellipse cx="12.49" cy="-0.81" rx="1.32" ry="0.91" transform="rotate(-60 12.49 -0.81)"/><ellipse cx="43.03" cy="9.02" rx="1.63" ry="0.75" transform="rotate(-41 43.03 9.02)"/><ellipse cx="43.99" cy="43.27" rx="1.49" ry="0.76" transform="rotate(-72 43.99 43.27)"/><ellipse cx="29.48" cy="23.71" rx="1.12" ry="0.73" transform="rotate(-17 29.48 23.71)"/><ellipse cx="37.95" cy="6.95" rx="1.74" ry="0.57" transform="rotate(-62 37.95 6.95)"/><ellipse cx="24.58" cy="4.8" rx="1.4" ry="0.89" transform="rotate(-61 24.58 4.8)"/><ellipse cx="27.66" cy="27.35" rx="1.48" ry="0.99" transform="rotate(-31 27.66 27.35)"/><ellipse cx="26.92" cy="28.29" rx="1.3" ry="0.79" transform="rotate(-70 26.92 28.29)"/><ellipse cx="43.83" cy="31.79" rx="1.97" ry="0.61" transform="rotate(-71 43.83 31.79)"/><ellipse cx="26.93" cy="7.9" rx="1.93" ry="0.74" transform="rotate(-70 26.93 7.9)"/><ellipse cx="27.37" cy="31.84" rx="1.5" ry="0.66" transform="rotate(-33 27.37 31.84)"/><ellipse cx="23.86" cy="10.46" rx="1.97" ry="0.67" transform="rotate(-56 23.86 10.46)"/><ellipse cx="32.82" cy="30.67" rx="1.94" ry="0.67" transform="rotate(-42 32.82 30.67)"/><ellipse cx="-0.83" cy="38.54" rx="1.89" ry="0.96" transform="rotate(-22 -0.83 38.54)"/><ellipse cx="18.14" cy="18.86" rx="2.05" ry="0.64" transform="rotate(-32 18.14 18.86)"/><ellipse cx="34.57" cy="43.6" rx="1.02" ry="0.58" transform="rotate(-57 34.57 43.6)"/><ellipse cx="29.27" cy="9.07" rx="1.11" ry="0.95" transform="rotate(-8 29.27 9.07)"/><ellipse cx="15.6" cy="41.88" rx="1.13" ry="0.84" transform="rotate(-51 15.6 41.88)"/><ellipse cx="13.03" cy="42.8" rx="1.31" ry="0.75" transform="rotate(-17 13.03 42.8)"/><ellipse cx="24.81" cy="35.02" rx="1.68" ry="0.76" transform="rotate(-56 24.81 35.02)"/><ellipse cx="26.58" cy="24.89" rx="1.46" ry="0.7" transform="rotate(-44 26.58 24.89)"/><ellipse cx="45.64" cy="23.34" rx="1.47" ry="0.88" transform="rotate(-67 45.64 23.34)"/><ellipse cx="30.99" cy="2.76" rx="1.54" ry="0.92" transform="rotate(-46 30.99 2.76)"/><ellipse cx="11.54" cy="41.69" rx="1.02" ry="0.75" transform="rotate(-18 11.54 41.69)"/><ellipse cx="23.98" cy="28.4" rx="1.24" ry="0.91" transform="rotate(-12 23.98 28.4)"/><ellipse cx="-0.58" cy="37.82" rx="1.03" ry="0.91" transform="rotate(-56 -0.58 37.82)"/><ellipse cx="44.54" cy="29.65" rx="1.48" ry="0.62" transform="rotate(-20 44.54 29.65)"/><ellipse cx="30.17" cy="36.68" rx="1.45" ry="0.64" transform="rotate(-56 30.17 36.68)"/><ellipse cx="11.42" cy="39.37" rx="1.03" ry="0.59" transform="rotate(-74 11.42 39.37)"/><ellipse cx="35.8" cy="25.57" rx="1.83" ry="0.94" transform="rotate(-21 35.8 25.57)"/><ellipse cx="26.52" cy="0.02" rx="1.49" ry="0.56" transform="rotate(-67 26.52 0.02)"/><ellipse cx="13.54" cy="11.8" rx="2.16" ry="0.84" transform="rotate(-6 13.54 11.8)"/><ellipse cx="18.75" cy="18.25" rx="1.54" ry="0.57" transform="rotate(-70 18.75 18.25)"/><ellipse cx="23.96" cy="37.04" rx="1.85" ry="0.91" transform="rotate(-46 23.96 37.04)"/><ellipse cx="41.9" cy="18.9" rx="2.07" ry="0.75" transform="rotate(-58 41.9 18.9)"/><ellipse cx="11.8" cy="30.85" rx="2.18" ry="0.69" transform="rotate(-14 11.8 30.85)"/><ellipse cx="11.42" cy="10.66" rx="1.26" ry="0.96" transform="rotate(-54 11.42 10.66)"/><ellipse cx="28.75" cy="1.34" rx="1.22" ry="0.98" transform="rotate(-68 28.75 1.34)"/><ellipse cx="15.05" cy="36.57" rx="1.23" ry="0.97" transform="rotate(-59 15.05 36.57)"/><ellipse cx="2.54" cy="22.34" rx="1.41" ry="0.88" transform="rotate(-37 2.54 22.34)"/><ellipse cx="39.06" cy="9.68" rx="1.58" ry="0.74" transform="rotate(-53 39.06 9.68)"/><ellipse cx="28.66" cy="35.08" rx="2.13" ry="0.73" transform="rotate(-51 28.66 35.08)"/><ellipse cx="0.34" cy="18.66" rx="1.22" ry="0.94" transform="rotate(-37 0.34 18.66)"/><ellipse cx="26.98" cy="23.24" rx="1.16" ry="0.64" transform="rotate(-55 26.98 23.24)"/><ellipse cx="29.08" cy="30.82" rx="1.04" ry="0.89" transform="rotate(-27 29.08 30.82)"/><ellipse cx="31.59" cy="30.78" rx="2.02" ry="0.98" transform="rotate(-38 31.59 30.78)"/><ellipse cx="26.36" cy="19.14" rx="1.96" ry="0.84" transform="rotate(-37 26.36 19.14)"/><ellipse cx="35.4" cy="13.4" rx="1.28" ry="0.79" transform="rotate(-32 35.4 13.4)"/><ellipse cx="-0.3" cy="23.87" rx="2.09" ry="0.74" transform="rotate(-24 -0.3 23.87)"/><ellipse cx="39.93" cy="8.33" rx="1.66" ry="0.67" transform="rotate(-74 39.93 8.33)"/><ellipse cx="17.54" cy="26.91" rx="2.03" ry="0.66" transform="rotate(-22 17.54 26.91)"/><ellipse cx="26.31" cy="28.35" rx="1.7" ry="0.73" transform="rotate(-27 26.31 28.35)"/><ellipse cx="36.96" cy="-0.07" rx="1.2" ry="0.59" transform="rotate(-19 36.96 -0.07)"/><ellipse cx="30.51" cy="20.19" rx="1.09" ry="0.53" transform="rotate(-51 30.51 20.19)"/><ellipse cx="11.56" cy="3.49" rx="1.24" ry="0.69" transform="rotate(-26 11.56 3.49)"/><ellipse cx="18.75" cy="31.84" rx="1.76" ry="0.61" transform="rotate(-17 18.75 31.84)"/><ellipse cx="5.45" cy="25.07" rx="1.87" ry="0.61" transform="rotate(-49 5.45 25.07)"/><ellipse cx="31.39" cy="15.69" rx="1.22" ry="0.88" transform="rotate(-55 31.39 15.69)"/><ellipse cx="22.64" cy="24.35" rx="1.03" ry="0.77" transform="rotate(-16 22.64 24.35)"/><ellipse cx="14.41" cy="10.36" rx="1.29" ry="0.7" transform="rotate(-17 14.41 10.36)"/><ellipse cx="19.35" cy="5.43" rx="1" ry="0.75" transform="rotate(-53 19.35 5.43)"/><ellipse cx="28.45" cy="45.59" rx="1.4" ry="0.98" transform="rotate(-7 28.45 45.59)"/><ellipse cx="3.89" cy="5.93" rx="1.82" ry="0.8" transform="rotate(-37 3.89 5.93)"/><ellipse cx="0.7" cy="18.01" rx="1.46" ry="0.88" transform="rotate(-40 0.7 18.01)"/><ellipse cx="33.9" cy="3.03" rx="1.84" ry="0.89" transform="rotate(-42 33.9 3.03)"/><ellipse cx="30.1" cy="44.55" rx="1.47" ry="0.92" transform="rotate(-23 30.1 44.55)"/><ellipse cx="27.72" cy="26.84" rx="1.9" ry="0.85" transform="rotate(-33 27.72 26.84)"/><ellipse cx="20.49" cy="35.69" rx="1.89" ry="0.96" transform="rotate(-45 20.49 35.69)"/><ellipse cx="23.85" cy="5.9" rx="1.26" ry="0.61" transform="rotate(-11 23.85 5.9)"/><ellipse cx="1.14" cy="18.54" rx="1.98" ry="0.59" transform="rotate(-46 1.14 18.54)"/><ellipse cx="16.69" cy="34.87" rx="1.5" ry="0.57" transform="rotate(-73 16.69 34.87)"/><ellipse cx="35.13" cy="12.94" rx="1.13" ry="0.6" transform="rotate(-65 35.13 12.94)"/><ellipse cx="31.97" cy="4.4" rx="1.29" ry="0.52" transform="rotate(-72 31.97 4.4)"/><ellipse cx="33.28" cy="34.34" rx="1.4" ry="0.52" transform="rotate(-37 33.28 34.34)"/><ellipse cx="32.54" cy="10.3" rx="2.19" ry="0.62" transform="rotate(-36 32.54 10.3)"/><ellipse cx="31.26" cy="19.4" rx="1.49" ry="0.85" transform="rotate(-37 31.26 19.4)"/><ellipse cx="23.41" cy="0.51" rx="1.29" ry="0.68" transform="rotate(-17 23.41 0.51)"/><ellipse cx="21.48" cy="26.68" rx="1.14" ry="0.69" transform="rotate(-21 21.48 26.68)"/><ellipse cx="28.12" cy="20.93" rx="1.96" ry="0.98" transform="rotate(-57 28.12 20.93)"/><ellipse cx="29.26" cy="23.92" rx="1.57" ry="0.89" transform="rotate(-64 29.26 23.92)"/><ellipse cx="13.81" cy="19.39" rx="1.37" ry="0.81" transform="rotate(-43 13.81 19.39)"/><ellipse cx="12.9" cy="41.95" rx="1.37" ry="0.53" transform="rotate(-16 12.9 41.95)"/><ellipse cx="0.09" cy="36.91" rx="1.14" ry="0.52" transform="rotate(-45 0.09 36.91)"/><ellipse cx="35.61" cy="8.6" rx="1.43" ry="0.81" transform="rotate(-10 35.61 8.6)"/><ellipse cx="15.26" cy="29.54" rx="1.32" ry="0.56" transform="rotate(-65 15.26 29.54)"/><ellipse cx="1.97" cy="25.23" rx="1.01" ry="0.94" transform="rotate(-5 1.97 25.23)"/></g>
</svg>
<rect x="17.9" y="241.2" width="44.9" height="44.6" fill="none" stroke="#1a1020" stroke-width="1.2"/>
<rect x="254.2" y="144.2" width="44.6" height="44.4" fill="#b466bc"/>
<svg x="254.2" y="144.2" width="44.6" height="44.4" overflow="hidden">
<g fill="#d890d8" fill-opacity="0.6"><ellipse cx="10.09" cy="24.25" rx="2.71" ry="1.63" transform="rotate(-23 10.09 24.25)"/><ellipse cx="2.05" cy="-0.39" rx="2.02" ry="1.23" transform="rotate(60 2.05 -0.39)"/><ellipse cx="45.4" cy="20.82" rx="2.45" ry="1.64" transform="rotate(60 45.4 20.82)"/><ellipse cx="6.02" cy="28.46" rx="2.55" ry="1.74" transform="rotate(66 6.02 28.46)"/><ellipse cx="30.29" cy="1.97" rx="2.68" ry="1.3" transform="rotate(46 30.29 1.97)"/><ellipse cx="0.45" cy="39.16" rx="2.94" ry="1.88" transform="rotate(-4 0.45 39.16)"/><ellipse cx="32.28" cy="41.74" rx="3.1" ry="1.44" transform="rotate(-18 32.28 41.74)"/><ellipse cx="42.6" cy="39.78" rx="1.77" ry="1.22" transform="rotate(-72 42.6 39.78)"/><ellipse cx="43.99" cy="19.24" rx="2.1" ry="1.51" transform="rotate(22 43.99 19.24)"/><ellipse cx="16.98" cy="15.28" rx="2.67" ry="1.9" transform="rotate(15 16.98 15.28)"/><ellipse cx="30.78" cy="42.1" rx="3.48" ry="1.67" transform="rotate(64 30.78 42.1)"/><ellipse cx="6.6" cy="38.93" rx="3.31" ry="1.57" transform="rotate(83 6.6 38.93)"/><ellipse cx="32.26" cy="8.8" rx="2.65" ry="1.28" transform="rotate(59 32.26 8.8)"/><ellipse cx="1.96" cy="38.62" rx="1.68" ry="1.8" transform="rotate(88 1.96 38.62)"/><ellipse cx="18.13" cy="6" rx="3.04" ry="1.87" transform="rotate(-37 18.13 6)"/><ellipse cx="1.06" cy="27.51" rx="2.94" ry="1.33" transform="rotate(-81 1.06 27.51)"/><ellipse cx="40.05" cy="44.5" rx="3.5" ry="1.31" transform="rotate(0 40.05 44.5)"/><ellipse cx="2.59" cy="26.83" rx="1.89" ry="1.41" transform="rotate(-84 2.59 26.83)"/><ellipse cx="27.45" cy="6.25" rx="3.24" ry="1.31" transform="rotate(-82 27.45 6.25)"/><ellipse cx="43.67" cy="40.61" rx="2.42" ry="1.52" transform="rotate(-21 43.67 40.61)"/><ellipse cx="29.01" cy="26.64" rx="2.74" ry="1.94" transform="rotate(10 29.01 26.64)"/><ellipse cx="22.63" cy="19.01" rx="1.98" ry="1.3" transform="rotate(39 22.63 19.01)"/><ellipse cx="44.57" cy="23.18" rx="1.52" ry="1.42" transform="rotate(8 44.57 23.18)"/><ellipse cx="26.03" cy="-0.07" rx="2.76" ry="1.06" transform="rotate(20 26.03 -0.07)"/><ellipse cx="28.23" cy="20.63" rx="2.21" ry="1.71" transform="rotate(32 28.23 20.63)"/><ellipse cx="33.39" cy="0.03" rx="2.85" ry="1.96" transform="rotate(-79 33.39 0.03)"/><ellipse cx="10.7" cy="20.17" rx="2.14" ry="1.36" transform="rotate(16 10.7 20.17)"/><ellipse cx="13.57" cy="16.13" rx="2.1" ry="1.38" transform="rotate(17 13.57 16.13)"/><ellipse cx="34.99" cy="0.25" rx="2.97" ry="1.31" transform="rotate(12 34.99 0.25)"/><ellipse cx="9.37" cy="36.3" rx="1.87" ry="1.44" transform="rotate(-47 9.37 36.3)"/><ellipse cx="31.53" cy="3.73" rx="2.17" ry="1.83" transform="rotate(-32 31.53 3.73)"/><ellipse cx="19.43" cy="38.7" rx="2.17" ry="1.65" transform="rotate(-59 19.43 38.7)"/><ellipse cx="40.24" cy="19.93" rx="1.74" ry="1.53" transform="rotate(-49 40.24 19.93)"/><ellipse cx="7.89" cy="36.43" rx="1.87" ry="1.28" transform="rotate(60 7.89 36.43)"/><ellipse cx="36.62" cy="28.79" rx="2.19" ry="1.13" transform="rotate(55 36.62 28.79)"/><ellipse cx="12.6" cy="35.84" rx="2.19" ry="1.42" transform="rotate(-41 12.6 35.84)"/><ellipse cx="18.56" cy="18" rx="1.81" ry="1" transform="rotate(75 18.56 18)"/><ellipse cx="42.96" cy="39.83" rx="2.37" ry="1.95" transform="rotate(87 42.96 39.83)"/><ellipse cx="42.22" cy="9.31" rx="3.17" ry="1.66" transform="rotate(44 42.22 9.31)"/><ellipse cx="23.19" cy="12.41" rx="1.95" ry="1.07" transform="rotate(-28 23.19 12.41)"/><ellipse cx="26.43" cy="12.32" rx="1.59" ry="1.9" transform="rotate(55 26.43 12.32)"/><ellipse cx="31.33" cy="41.87" rx="3.3" ry="1.58" transform="rotate(71 31.33 41.87)"/><ellipse cx="-0.39" cy="33.58" rx="2.1" ry="1.66" transform="rotate(-59 -0.39 33.58)"/><ellipse cx="23.46" cy="18.2" rx="2.72" ry="1.34" transform="rotate(79 23.46 18.2)"/><ellipse cx="10.77" cy="38.98" rx="3.06" ry="1.35" transform="rotate(-4 10.77 38.98)"/><ellipse cx="8.2" cy="23.81" rx="1.84" ry="1.79" transform="rotate(57 8.2 23.81)"/><ellipse cx="41.95" cy="36.4" rx="1.52" ry="1.63" transform="rotate(58 41.95 36.4)"/><ellipse cx="39.2" cy="1.32" rx="2.04" ry="1.53" transform="rotate(-41 39.2 1.32)"/><ellipse cx="18.71" cy="20.94" rx="1.5" ry="1.05" transform="rotate(49 18.71 20.94)"/><ellipse cx="4.91" cy="4.78" rx="3.45" ry="1.85" transform="rotate(-77 4.91 4.78)"/><ellipse cx="3.01" cy="22.3" rx="2.13" ry="1.35" transform="rotate(-33 3.01 22.3)"/><ellipse cx="29.15" cy="26.22" rx="1.88" ry="1.33" transform="rotate(-25 29.15 26.22)"/><ellipse cx="4.77" cy="24.78" rx="2.26" ry="1.08" transform="rotate(38 4.77 24.78)"/><ellipse cx="7.32" cy="16.32" rx="3.07" ry="1.38" transform="rotate(18 7.32 16.32)"/><ellipse cx="36.33" cy="27.9" rx="2.24" ry="1.5" transform="rotate(-12 36.33 27.9)"/><ellipse cx="31.75" cy="18.51" rx="2.42" ry="1.25" transform="rotate(34 31.75 18.51)"/><ellipse cx="23.97" cy="31.26" rx="2.35" ry="1.43" transform="rotate(-77 23.97 31.26)"/><ellipse cx="39.99" cy="42.45" rx="3.3" ry="1.79" transform="rotate(-22 39.99 42.45)"/><ellipse cx="11.22" cy="20.54" rx="3.13" ry="1.66" transform="rotate(-67 11.22 20.54)"/><ellipse cx="40.35" cy="35.77" rx="2.97" ry="1.56" transform="rotate(30 40.35 35.77)"/><ellipse cx="3.81" cy="26.27" rx="1.79" ry="1.77" transform="rotate(-89 3.81 26.27)"/><ellipse cx="1.06" cy="3.26" rx="3.26" ry="1.18" transform="rotate(-72 1.06 3.26)"/><ellipse cx="0.09" cy="38.05" rx="3.19" ry="1.67" transform="rotate(-68 0.09 38.05)"/><ellipse cx="37.97" cy="43.19" rx="3.1" ry="1.04" transform="rotate(14 37.97 43.19)"/><ellipse cx="34.76" cy="22.73" rx="1.71" ry="1.75" transform="rotate(38 34.76 22.73)"/><ellipse cx="42.55" cy="1.84" rx="2.63" ry="1.83" transform="rotate(-31 42.55 1.84)"/><ellipse cx="10.28" cy="7.34" rx="2.73" ry="1.75" transform="rotate(-45 10.28 7.34)"/><ellipse cx="17.35" cy="16.05" rx="2.2" ry="1.42" transform="rotate(-18 17.35 16.05)"/><ellipse cx="2.88" cy="22.21" rx="2.33" ry="1.75" transform="rotate(85 2.88 22.21)"/><ellipse cx="6.48" cy="31.05" rx="2.85" ry="1.52" transform="rotate(46 6.48 31.05)"/><ellipse cx="21.54" cy="28.83" rx="1.8" ry="1.1" transform="rotate(71 21.54 28.83)"/><ellipse cx="33.86" cy="41.53" rx="2.39" ry="1.72" transform="rotate(3 33.86 41.53)"/><ellipse cx="7.67" cy="11.41" rx="2.67" ry="1.31" transform="rotate(-54 7.67 11.41)"/><ellipse cx="9.83" cy="31.07" rx="2.09" ry="1.71" transform="rotate(81 9.83 31.07)"/><ellipse cx="18.26" cy="38.61" rx="2.03" ry="1.22" transform="rotate(15 18.26 38.61)"/><ellipse cx="0.08" cy="21.25" rx="1.84" ry="1.36" transform="rotate(-21 0.08 21.25)"/><ellipse cx="14.01" cy="34.92" rx="3.48" ry="1.48" transform="rotate(-64 14.01 34.92)"/><ellipse cx="26.91" cy="20.72" rx="3.14" ry="1.56" transform="rotate(60 26.91 20.72)"/><ellipse cx="21.43" cy="32.44" rx="2.3" ry="1.73" transform="rotate(64 21.43 32.44)"/><ellipse cx="43.75" cy="20.69" rx="1.97" ry="1.72" transform="rotate(-48 43.75 20.69)"/></g>
<g fill="#8a4aa0" fill-opacity="0.5"><ellipse cx="30.47" cy="43.48" rx="1.98" ry="1.19" transform="rotate(63 30.47 43.48)"/><ellipse cx="11.05" cy="7.69" rx="3.22" ry="1.9" transform="rotate(36 11.05 7.69)"/><ellipse cx="10.88" cy="39.14" rx="2.35" ry="1.73" transform="rotate(-33 10.88 39.14)"/><ellipse cx="3" cy="3.3" rx="2.08" ry="1.36" transform="rotate(60 3 3.3)"/><ellipse cx="26.04" cy="30.34" rx="2.17" ry="1.44" transform="rotate(-88 26.04 30.34)"/><ellipse cx="21.64" cy="8.75" rx="3.41" ry="1.39" transform="rotate(15 21.64 8.75)"/><ellipse cx="24.37" cy="4.53" rx="2.83" ry="1.11" transform="rotate(-40 24.37 4.53)"/><ellipse cx="40.34" cy="41.17" rx="3.38" ry="1.37" transform="rotate(-72 40.34 41.17)"/><ellipse cx="34.99" cy="34.14" rx="2.85" ry="1.65" transform="rotate(-36 34.99 34.14)"/><ellipse cx="36.56" cy="11.32" rx="3.42" ry="1.67" transform="rotate(45 36.56 11.32)"/><ellipse cx="23.99" cy="4.26" rx="2.2" ry="1.72" transform="rotate(-1 23.99 4.26)"/><ellipse cx="30.62" cy="25.28" rx="2.79" ry="1.63" transform="rotate(-57 30.62 25.28)"/><ellipse cx="7.35" cy="40.29" rx="1.75" ry="1.93" transform="rotate(27 7.35 40.29)"/><ellipse cx="5.59" cy="14.38" rx="2.69" ry="1.55" transform="rotate(39 5.59 14.38)"/><ellipse cx="29.17" cy="20.24" rx="1.85" ry="1.07" transform="rotate(-33 29.17 20.24)"/><ellipse cx="32.36" cy="34.01" rx="2.98" ry="1.36" transform="rotate(7 32.36 34.01)"/><ellipse cx="11.39" cy="16.79" rx="1.58" ry="1.5" transform="rotate(67 11.39 16.79)"/><ellipse cx="10.52" cy="34.68" rx="2.17" ry="1.4" transform="rotate(-26 10.52 34.68)"/><ellipse cx="24.23" cy="34.81" rx="3.19" ry="1.11" transform="rotate(-26 24.23 34.81)"/><ellipse cx="11.6" cy="3.62" rx="3.06" ry="1.73" transform="rotate(-69 11.6 3.62)"/><ellipse cx="7.61" cy="7.78" rx="2.99" ry="1.82" transform="rotate(-15 7.61 7.78)"/><ellipse cx="33.89" cy="26.46" rx="2.3" ry="1.19" transform="rotate(-63 33.89 26.46)"/><ellipse cx="23.59" cy="25.37" rx="2" ry="1.78" transform="rotate(-53 23.59 25.37)"/><ellipse cx="0.4" cy="36.27" rx="3.4" ry="1.38" transform="rotate(70 0.4 36.27)"/><ellipse cx="24.75" cy="26.05" rx="3.45" ry="1.69" transform="rotate(24 24.75 26.05)"/><ellipse cx="12.95" cy="38.9" rx="2.7" ry="1.73" transform="rotate(-2 12.95 38.9)"/><ellipse cx="-0.89" cy="34.75" rx="2.48" ry="1.52" transform="rotate(29 -0.89 34.75)"/><ellipse cx="20.46" cy="7.98" rx="1.57" ry="1.5" transform="rotate(5 20.46 7.98)"/><ellipse cx="29.1" cy="19.61" rx="3.42" ry="1.89" transform="rotate(11 29.1 19.61)"/><ellipse cx="5.32" cy="35.77" rx="1.6" ry="1.36" transform="rotate(22 5.32 35.77)"/><ellipse cx="9.88" cy="2.61" rx="3.36" ry="1.32" transform="rotate(6 9.88 2.61)"/><ellipse cx="39.57" cy="31.23" rx="3.22" ry="1.6" transform="rotate(-65 39.57 31.23)"/><ellipse cx="42.2" cy="32.22" rx="2.19" ry="1.81" transform="rotate(43 42.2 32.22)"/><ellipse cx="42.42" cy="38.97" rx="3.01" ry="1.49" transform="rotate(-11 42.42 38.97)"/><ellipse cx="4.09" cy="0.98" rx="1.9" ry="1.16" transform="rotate(-75 4.09 0.98)"/><ellipse cx="22.17" cy="31.45" rx="2.34" ry="1.65" transform="rotate(6 22.17 31.45)"/><ellipse cx="13.2" cy="20.55" rx="2.3" ry="1.18" transform="rotate(46 13.2 20.55)"/><ellipse cx="40.91" cy="32.39" rx="2.24" ry="1.53" transform="rotate(-23 40.91 32.39)"/><ellipse cx="26.8" cy="9.39" rx="1.92" ry="1.78" transform="rotate(-89 26.8 9.39)"/><ellipse cx="5.69" cy="20.34" rx="1.92" ry="1.17" transform="rotate(-54 5.69 20.34)"/><ellipse cx="17.81" cy="6.81" rx="1.72" ry="1.17" transform="rotate(-85 17.81 6.81)"/><ellipse cx="21.85" cy="1.77" rx="2.4" ry="1.41" transform="rotate(-85 21.85 1.77)"/><ellipse cx="31.78" cy="1.37" rx="2.29" ry="1.03" transform="rotate(-17 31.78 1.37)"/><ellipse cx="43.99" cy="9.16" rx="2.45" ry="1.16" transform="rotate(-73 43.99 9.16)"/><ellipse cx="28.01" cy="15.07" rx="1.6" ry="1.73" transform="rotate(-67 28.01 15.07)"/><ellipse cx="11.82" cy="35.56" rx="3.37" ry="1.3" transform="rotate(-6 11.82 35.56)"/><ellipse cx="10.65" cy="11.33" rx="2.76" ry="1.34" transform="rotate(56 10.65 11.33)"/><ellipse cx="3.37" cy="30.66" rx="2.68" ry="1" transform="rotate(84 3.37 30.66)"/><ellipse cx="0.41" cy="3.2" rx="1.57" ry="1.05" transform="rotate(-59 0.41 3.2)"/><ellipse cx="29.49" cy="40.77" rx="3.45" ry="1.48" transform="rotate(-53 29.49 40.77)"/></g>
<g fill="#fbe8fb" fill-opacity="0.85"><ellipse cx="36.45" cy="41.57" rx="0.53" ry="0.52" transform="rotate(79 36.45 41.57)"/><ellipse cx="27.28" cy="42.92" rx="0.79" ry="0.74" transform="rotate(-74 27.28 42.92)"/><ellipse cx="4.34" cy="17.09" rx="1.18" ry="0.77" transform="rotate(-29 4.34 17.09)"/><ellipse cx="7.14" cy="33.33" rx="1.34" ry="0.62" transform="rotate(42 7.14 33.33)"/><ellipse cx="42.04" cy="15.84" rx="0.73" ry="0.71" transform="rotate(-15 42.04 15.84)"/><ellipse cx="21.4" cy="11.5" rx="1.22" ry="0.64" transform="rotate(-59 21.4 11.5)"/><ellipse cx="32.12" cy="16.95" rx="0.65" ry="0.68" transform="rotate(-2 32.12 16.95)"/><ellipse cx="0.07" cy="20.67" rx="1.18" ry="0.44" transform="rotate(46 0.07 20.67)"/><ellipse cx="10.05" cy="38.15" rx="1.38" ry="0.75" transform="rotate(25 10.05 38.15)"/><ellipse cx="19.97" cy="40.62" rx="0.83" ry="0.55" transform="rotate(41 19.97 40.62)"/><ellipse cx="2.36" cy="17.53" rx="0.6" ry="0.63" transform="rotate(82 2.36 17.53)"/><ellipse cx="4.13" cy="2.75" rx="0.74" ry="0.42" transform="rotate(26 4.13 2.75)"/><ellipse cx="6.11" cy="28.91" rx="0.51" ry="0.49" transform="rotate(15 6.11 28.91)"/><ellipse cx="44.07" cy="9.21" rx="0.92" ry="0.71" transform="rotate(11 44.07 9.21)"/><ellipse cx="27.16" cy="35.59" rx="0.69" ry="0.47" transform="rotate(6 27.16 35.59)"/><ellipse cx="2.69" cy="37.3" rx="0.52" ry="0.79" transform="rotate(-69 2.69 37.3)"/><ellipse cx="8.29" cy="40.45" rx="0.97" ry="0.49" transform="rotate(-74 8.29 40.45)"/><ellipse cx="37.65" cy="27.56" rx="1.26" ry="0.75" transform="rotate(25 37.65 27.56)"/><ellipse cx="15.13" cy="26.98" rx="0.61" ry="0.73" transform="rotate(-9 15.13 26.98)"/><ellipse cx="26.7" cy="36.81" rx="1.04" ry="0.59" transform="rotate(-52 26.7 36.81)"/><ellipse cx="32.93" cy="2.58" rx="0.98" ry="0.43" transform="rotate(-27 32.93 2.58)"/><ellipse cx="24.76" cy="33.12" rx="1.15" ry="0.64" transform="rotate(-13 24.76 33.12)"/><ellipse cx="8.98" cy="15.27" rx="0.84" ry="0.57" transform="rotate(89 8.98 15.27)"/><ellipse cx="2.92" cy="9.11" rx="1.43" ry="0.69" transform="rotate(-60 2.92 9.11)"/><ellipse cx="39.76" cy="44.78" rx="1.43" ry="0.61" transform="rotate(20 39.76 44.78)"/><ellipse cx="18.51" cy="42.99" rx="1.45" ry="0.59" transform="rotate(72 18.51 42.99)"/><ellipse cx="35.04" cy="17.88" rx="1.42" ry="0.52" transform="rotate(89 35.04 17.88)"/><ellipse cx="42.53" cy="7.56" rx="1.22" ry="0.52" transform="rotate(-72 42.53 7.56)"/><ellipse cx="23.21" cy="28.66" rx="1.25" ry="0.51" transform="rotate(-82 23.21 28.66)"/><ellipse cx="19.15" cy="15" rx="1.25" ry="0.51" transform="rotate(43 19.15 15)"/><ellipse cx="3.82" cy="12.89" rx="0.58" ry="0.46" transform="rotate(-16 3.82 12.89)"/><ellipse cx="34.54" cy="31.5" rx="1.48" ry="0.75" transform="rotate(85 34.54 31.5)"/><ellipse cx="16.36" cy="6.49" rx="0.96" ry="0.61" transform="rotate(-33 16.36 6.49)"/><ellipse cx="24.26" cy="15.69" rx="0.79" ry="0.59" transform="rotate(63 24.26 15.69)"/><ellipse cx="40.33" cy="36.45" rx="0.74" ry="0.72" transform="rotate(-36 40.33 36.45)"/><ellipse cx="-0.53" cy="5.1" rx="1.04" ry="0.47" transform="rotate(5 -0.53 5.1)"/><ellipse cx="1.34" cy="8.46" rx="0.97" ry="0.79" transform="rotate(48 1.34 8.46)"/><ellipse cx="35.61" cy="44.44" rx="0.69" ry="0.41" transform="rotate(-83 35.61 44.44)"/><ellipse cx="19.15" cy="14.7" rx="1.05" ry="0.44" transform="rotate(-80 19.15 14.7)"/><ellipse cx="13.52" cy="10.47" rx="0.92" ry="0.5" transform="rotate(54 13.52 10.47)"/><ellipse cx="1.05" cy="18.93" rx="1.18" ry="0.77" transform="rotate(22 1.05 18.93)"/><ellipse cx="36.68" cy="10.48" rx="1.26" ry="0.72" transform="rotate(-65 36.68 10.48)"/><ellipse cx="22.71" cy="37.56" rx="0.78" ry="0.47" transform="rotate(9 22.71 37.56)"/><ellipse cx="-0.21" cy="28.84" rx="1.41" ry="0.59" transform="rotate(71 -0.21 28.84)"/><ellipse cx="30.01" cy="42.09" rx="1.1" ry="0.57" transform="rotate(56 30.01 42.09)"/><ellipse cx="23.16" cy="6.92" rx="1.18" ry="0.8" transform="rotate(-57 23.16 6.92)"/><ellipse cx="24.49" cy="17.94" rx="0.95" ry="0.72" transform="rotate(-26 24.49 17.94)"/><ellipse cx="20.09" cy="43.51" rx="0.81" ry="0.61" transform="rotate(-62 20.09 43.51)"/><ellipse cx="18.19" cy="38.49" rx="1.43" ry="0.64" transform="rotate(58 18.19 38.49)"/><ellipse cx="0.43" cy="25.66" rx="0.99" ry="0.51" transform="rotate(8 0.43 25.66)"/><ellipse cx="32.06" cy="41.3" rx="1.17" ry="0.55" transform="rotate(-71 32.06 41.3)"/><ellipse cx="22.99" cy="40.56" rx="1.14" ry="0.48" transform="rotate(82 22.99 40.56)"/><ellipse cx="41.91" cy="7.4" rx="1.33" ry="0.53" transform="rotate(-21 41.91 7.4)"/><ellipse cx="11.62" cy="43.08" rx="0.82" ry="0.56" transform="rotate(79 11.62 43.08)"/><ellipse cx="12.14" cy="5.1" rx="1.48" ry="0.43" transform="rotate(-44 12.14 5.1)"/><ellipse cx="9.71" cy="8.28" rx="1.03" ry="0.7" transform="rotate(-75 9.71 8.28)"/><ellipse cx="38.06" cy="28.28" rx="0.51" ry="0.51" transform="rotate(57 38.06 28.28)"/><ellipse cx="43.79" cy="2.22" rx="0.98" ry="0.51" transform="rotate(-41 43.79 2.22)"/><ellipse cx="24.45" cy="1.19" rx="1.46" ry="0.46" transform="rotate(-47 24.45 1.19)"/><ellipse cx="41.2" cy="7.26" rx="1.17" ry="0.66" transform="rotate(88 41.2 7.26)"/><ellipse cx="5.63" cy="1.53" rx="0.68" ry="0.48" transform="rotate(46 5.63 1.53)"/><ellipse cx="37.34" cy="39.59" rx="1.46" ry="0.61" transform="rotate(-81 37.34 39.59)"/><ellipse cx="16.82" cy="3.97" rx="1.49" ry="0.51" transform="rotate(-19 16.82 3.97)"/><ellipse cx="5.12" cy="5.74" rx="0.85" ry="0.77" transform="rotate(-67 5.12 5.74)"/><ellipse cx="2.59" cy="7.91" rx="1.5" ry="0.79" transform="rotate(79 2.59 7.91)"/><ellipse cx="10.46" cy="15.44" rx="0.99" ry="0.68" transform="rotate(81 10.46 15.44)"/><ellipse cx="13.6" cy="-0.01" rx="1.25" ry="0.71" transform="rotate(-27 13.6 -0.01)"/><ellipse cx="25.51" cy="20.53" rx="0.94" ry="0.61" transform="rotate(6 25.51 20.53)"/><ellipse cx="37.82" cy="8.3" rx="1.43" ry="0.74" transform="rotate(16 37.82 8.3)"/><ellipse cx="7.36" cy="43.7" rx="0.67" ry="0.51" transform="rotate(61 7.36 43.7)"/><ellipse cx="8.43" cy="1.46" rx="0.91" ry="0.75" transform="rotate(86 8.43 1.46)"/><ellipse cx="4.34" cy="-0.35" rx="1.29" ry="0.8" transform="rotate(66 4.34 -0.35)"/><ellipse cx="30.94" cy="23.37" rx="0.59" ry="0.62" transform="rotate(47 30.94 23.37)"/><ellipse cx="19.56" cy="5.79" rx="0.82" ry="0.6" transform="rotate(18 19.56 5.79)"/><ellipse cx="16.41" cy="13.76" rx="1.1" ry="0.79" transform="rotate(-25 16.41 13.76)"/><ellipse cx="42.62" cy="39.01" rx="0.79" ry="0.79" transform="rotate(60 42.62 39.01)"/><ellipse cx="11.57" cy="4.72" rx="1.23" ry="0.54" transform="rotate(0 11.57 4.72)"/><ellipse cx="29.07" cy="12.1" rx="0.95" ry="0.59" transform="rotate(84 29.07 12.1)"/><ellipse cx="23.76" cy="39.6" rx="1.03" ry="0.58" transform="rotate(87 23.76 39.6)"/><ellipse cx="27.79" cy="2.21" rx="1.35" ry="0.71" transform="rotate(-13 27.79 2.21)"/><ellipse cx="1.77" cy="38.65" rx="1.48" ry="0.55" transform="rotate(-20 1.77 38.65)"/><ellipse cx="9" cy="24.46" rx="0.93" ry="0.75" transform="rotate(69 9 24.46)"/><ellipse cx="32.15" cy="15.77" rx="1.01" ry="0.56" transform="rotate(-35 32.15 15.77)"/><ellipse cx="16.36" cy="29.24" rx="1.08" ry="0.46" transform="rotate(67 16.36 29.24)"/><ellipse cx="9.25" cy="16.21" rx="0.64" ry="0.43" transform="rotate(20 9.25 16.21)"/><ellipse cx="13.94" cy="12.13" rx="1.04" ry="0.77" transform="rotate(-84 13.94 12.13)"/><ellipse cx="23.9" cy="33.22" rx="1.34" ry="0.77" transform="rotate(59 23.9 33.22)"/><ellipse cx="19.57" cy="30.66" rx="1.38" ry="0.55" transform="rotate(-68 19.57 30.66)"/><ellipse cx="21.15" cy="40.31" rx="0.69" ry="0.73" transform="rotate(-38 21.15 40.31)"/><ellipse cx="26.91" cy="2.94" rx="0.85" ry="0.4" transform="rotate(-84 26.91 2.94)"/><ellipse cx="37.79" cy="7.52" rx="0.89" ry="0.6" transform="rotate(-40 37.79 7.52)"/><ellipse cx="19.15" cy="28.17" rx="0.94" ry="0.44" transform="rotate(28 19.15 28.17)"/><ellipse cx="44.63" cy="31.07" rx="0.94" ry="0.7" transform="rotate(-74 44.63 31.07)"/><ellipse cx="45.22" cy="2.06" rx="0.98" ry="0.57" transform="rotate(-88 45.22 2.06)"/><ellipse cx="40.68" cy="37.35" rx="0.92" ry="0.63" transform="rotate(-30 40.68 37.35)"/><ellipse cx="40.2" cy="8.37" rx="0.59" ry="0.66" transform="rotate(-19 40.2 8.37)"/><ellipse cx="0.24" cy="42.39" rx="1.07" ry="0.43" transform="rotate(4 0.24 42.39)"/><ellipse cx="9.82" cy="20.75" rx="1.04" ry="0.51" transform="rotate(64 9.82 20.75)"/><ellipse cx="44.76" cy="29.69" rx="0.7" ry="0.52" transform="rotate(5 44.76 29.69)"/><ellipse cx="40.93" cy="5.17" rx="1.12" ry="0.54" transform="rotate(5 40.93 5.17)"/><ellipse cx="34.82" cy="41.22" rx="1.24" ry="0.48" transform="rotate(64 34.82 41.22)"/><ellipse cx="1.79" cy="19.08" rx="0.69" ry="0.75" transform="rotate(-33 1.79 19.08)"/><ellipse cx="9.07" cy="37.18" rx="0.62" ry="0.77" transform="rotate(78 9.07 37.18)"/><ellipse cx="17.51" cy="8.83" rx="0.54" ry="0.6" transform="rotate(-56 17.51 8.83)"/><ellipse cx="16.91" cy="38.51" rx="0.56" ry="0.56" transform="rotate(59 16.91 38.51)"/><ellipse cx="17.14" cy="7.24" rx="0.76" ry="0.68" transform="rotate(-44 17.14 7.24)"/><ellipse cx="14.85" cy="4.16" rx="0.94" ry="0.63" transform="rotate(-50 14.85 4.16)"/><ellipse cx="10.44" cy="31.46" rx="1.17" ry="0.64" transform="rotate(-51 10.44 31.46)"/><ellipse cx="7.19" cy="33.85" rx="1.04" ry="0.64" transform="rotate(-19 7.19 33.85)"/><ellipse cx="28.27" cy="19.52" rx="1.29" ry="0.74" transform="rotate(-79 28.27 19.52)"/></g>
<g fill="#7a3a90" fill-opacity="0.7"><ellipse cx="21.84" cy="25.87" rx="1.52" ry="1.01" transform="rotate(-41 21.84 25.87)"/><ellipse cx="9.34" cy="36.93" rx="1.08" ry="1.2" transform="rotate(87 9.34 36.93)"/><ellipse cx="21.51" cy="7.29" rx="1.07" ry="1.04" transform="rotate(39 21.51 7.29)"/><ellipse cx="26.19" cy="4" rx="1.48" ry="0.89" transform="rotate(5 26.19 4)"/><ellipse cx="24.13" cy="39.05" rx="1.19" ry="0.95" transform="rotate(-9 24.13 39.05)"/><ellipse cx="37.39" cy="8.42" rx="1.41" ry="0.93" transform="rotate(-73 37.39 8.42)"/><ellipse cx="13.11" cy="40.4" rx="1.23" ry="1.19" transform="rotate(69 13.11 40.4)"/><ellipse cx="37.96" cy="33.71" rx="0.81" ry="1.01" transform="rotate(-37 37.96 33.71)"/><ellipse cx="33.26" cy="15.27" rx="1.25" ry="0.75" transform="rotate(-3 33.26 15.27)"/><ellipse cx="31.51" cy="25.1" rx="0.89" ry="0.93" transform="rotate(-20 31.51 25.1)"/><ellipse cx="13.9" cy="32.63" rx="1.12" ry="0.72" transform="rotate(-58 13.9 32.63)"/><ellipse cx="18.03" cy="25.74" rx="0.84" ry="0.89" transform="rotate(-70 18.03 25.74)"/><ellipse cx="8.39" cy="22.44" rx="0.88" ry="0.92" transform="rotate(-59 8.39 22.44)"/><ellipse cx="42.02" cy="39.3" rx="1.12" ry="0.64" transform="rotate(2 42.02 39.3)"/><ellipse cx="11.88" cy="13.58" rx="0.89" ry="1.17" transform="rotate(79 11.88 13.58)"/><ellipse cx="21.22" cy="19.14" rx="1.57" ry="0.71" transform="rotate(-42 21.22 19.14)"/><ellipse cx="25.62" cy="22.7" rx="0.98" ry="1.19" transform="rotate(-54 25.62 22.7)"/><ellipse cx="35.85" cy="33.03" rx="0.88" ry="1.02" transform="rotate(72 35.85 33.03)"/><ellipse cx="33.97" cy="9.46" rx="1.58" ry="0.8" transform="rotate(-7 33.97 9.46)"/><ellipse cx="34.53" cy="6.67" rx="1.02" ry="0.91" transform="rotate(30 34.53 6.67)"/><ellipse cx="16.35" cy="39.38" rx="1.2" ry="1.01" transform="rotate(44 16.35 39.38)"/><ellipse cx="18.93" cy="36.32" rx="1.24" ry="0.95" transform="rotate(-43 18.93 36.32)"/><ellipse cx="17.08" cy="1.16" rx="1.31" ry="0.73" transform="rotate(-59 17.08 1.16)"/><ellipse cx="34.33" cy="22.43" rx="1.48" ry="1.04" transform="rotate(81 34.33 22.43)"/><ellipse cx="16.36" cy="1.02" rx="1.4" ry="1.15" transform="rotate(10 16.36 1.02)"/><ellipse cx="8.44" cy="6.35" rx="1.39" ry="0.89" transform="rotate(86 8.44 6.35)"/><ellipse cx="33.41" cy="5.93" rx="1.33" ry="0.96" transform="rotate(7 33.41 5.93)"/><ellipse cx="6.51" cy="5.35" rx="1.51" ry="0.68" transform="rotate(22 6.51 5.35)"/><ellipse cx="-0.67" cy="2.84" rx="1.11" ry="0.87" transform="rotate(51 -0.67 2.84)"/><ellipse cx="45.32" cy="27.36" rx="1.36" ry="0.6" transform="rotate(-42 45.32 27.36)"/><ellipse cx="12.12" cy="31.42" rx="0.83" ry="0.91" transform="rotate(-59 12.12 31.42)"/><ellipse cx="14.28" cy="44.06" rx="1.44" ry="0.83" transform="rotate(-71 14.28 44.06)"/><ellipse cx="36.53" cy="19.65" rx="1.06" ry="0.73" transform="rotate(30 36.53 19.65)"/><ellipse cx="20.08" cy="36.13" rx="0.98" ry="0.85" transform="rotate(-27 20.08 36.13)"/><ellipse cx="3.47" cy="13.65" rx="1.24" ry="0.96" transform="rotate(13 3.47 13.65)"/><ellipse cx="12.51" cy="0.15" rx="1.07" ry="0.72" transform="rotate(-85 12.51 0.15)"/><ellipse cx="25.51" cy="11.31" rx="1.28" ry="1" transform="rotate(47 25.51 11.31)"/><ellipse cx="33.28" cy="23.2" rx="1.05" ry="0.64" transform="rotate(-13 33.28 23.2)"/><ellipse cx="36.02" cy="22.2" rx="1.54" ry="0.95" transform="rotate(-72 36.02 22.2)"/><ellipse cx="28.06" cy="19.35" rx="1.6" ry="0.7" transform="rotate(-67 28.06 19.35)"/></g>
<g fill="#1a0a30" fill-opacity="0.95"><ellipse cx="16.07" cy="45.37" rx="1.25" ry="1.04" transform="rotate(-68 16.07 45.37)"/><ellipse cx="10.54" cy="41.9" rx="0.91" ry="1.04" transform="rotate(-15 10.54 41.9)"/><ellipse cx="-0.78" cy="31.87" rx="1.53" ry="0.82" transform="rotate(66 -0.78 31.87)"/><ellipse cx="30.47" cy="13.14" rx="1.11" ry="0.95" transform="rotate(-4 30.47 13.14)"/><ellipse cx="5.19" cy="28.03" rx="1.57" ry="0.82" transform="rotate(-74 5.19 28.03)"/><ellipse cx="43.93" cy="7.89" rx="1.42" ry="1.07" transform="rotate(-74 43.93 7.89)"/><ellipse cx="34.83" cy="22.59" rx="0.96" ry="1.14" transform="rotate(23 34.83 22.59)"/><ellipse cx="22.88" cy="43.65" rx="0.95" ry="1.14" transform="rotate(-88 22.88 43.65)"/><ellipse cx="42.16" cy="18.57" rx="1.29" ry="1" transform="rotate(37 42.16 18.57)"/><ellipse cx="20.69" cy="26.92" rx="1.11" ry="1.17" transform="rotate(-84 20.69 26.92)"/><ellipse cx="11.03" cy="20.95" rx="1.15" ry="1.13" transform="rotate(-43 11.03 20.95)"/><ellipse cx="33.66" cy="43.4" rx="1.04" ry="0.97" transform="rotate(-4 33.66 43.4)"/><ellipse cx="1.73" cy="10.12" rx="1.33" ry="0.92" transform="rotate(15 1.73 10.12)"/><ellipse cx="7.46" cy="3.55" rx="1.25" ry="0.93" transform="rotate(-57 7.46 3.55)"/><ellipse cx="40.18" cy="25.21" rx="1.2" ry="0.82" transform="rotate(-28 40.18 25.21)"/><ellipse cx="33.15" cy="33.85" rx="1.41" ry="0.94" transform="rotate(-24 33.15 33.85)"/><ellipse cx="9.23" cy="9.59" rx="1.32" ry="1.12" transform="rotate(-54 9.23 9.59)"/><ellipse cx="32.91" cy="3.81" rx="1.23" ry="0.99" transform="rotate(47 32.91 3.81)"/><ellipse cx="22.44" cy="19.08" rx="1.18" ry="1.12" transform="rotate(-53 22.44 19.08)"/><ellipse cx="32.33" cy="41.46" rx="1.52" ry="1.2" transform="rotate(-55 32.33 41.46)"/><ellipse cx="32.22" cy="44.45" rx="1.44" ry="1.25" transform="rotate(-65 32.22 44.45)"/><ellipse cx="4.69" cy="26.59" rx="1.11" ry="1.23" transform="rotate(80 4.69 26.59)"/><ellipse cx="41.23" cy="19.19" rx="1.05" ry="1.21" transform="rotate(-63 41.23 19.19)"/><ellipse cx="18.67" cy="13.65" rx="1.55" ry="0.93" transform="rotate(-10 18.67 13.65)"/><ellipse cx="-0.15" cy="43.04" rx="1.17" ry="1.29" transform="rotate(-32 -0.15 43.04)"/><ellipse cx="12.14" cy="2.98" rx="1.07" ry="0.91" transform="rotate(69 12.14 2.98)"/><ellipse cx="42.69" cy="9.64" rx="1.13" ry="0.95" transform="rotate(72 42.69 9.64)"/><ellipse cx="9.06" cy="24.16" rx="1.18" ry="1.05" transform="rotate(10 9.06 24.16)"/></g>
</svg>
<rect x="254.2" y="144.2" width="44.6" height="44.4" fill="none" stroke="#1a1020" stroke-width="1.2"/>
<rect x="254.2" y="241.2" width="44.6" height="44.6" fill="#b474c4"/>
<svg x="254.2" y="241.2" width="44.6" height="44.6" overflow="hidden">
<g fill="#d8a0e0" fill-opacity="0.6"><ellipse cx="10" cy="3.81" rx="1.48" ry="0.85" transform="rotate(-18 10 3.81)"/><ellipse cx="17.71" cy="41.78" rx="2.58" ry="0.98" transform="rotate(54 17.71 41.78)"/><ellipse cx="24.01" cy="11.89" rx="1.39" ry="0.97" transform="rotate(-58 24.01 11.89)"/><ellipse cx="42.22" cy="37.63" rx="2.64" ry="0.95" transform="rotate(55 42.22 37.63)"/><ellipse cx="13.44" cy="28.22" rx="2.74" ry="1.5" transform="rotate(41 13.44 28.22)"/><ellipse cx="3.04" cy="27.23" rx="2.11" ry="0.94" transform="rotate(30 3.04 27.23)"/><ellipse cx="21.07" cy="3.16" rx="2.76" ry="1.24" transform="rotate(78 21.07 3.16)"/><ellipse cx="12.99" cy="41.35" rx="2.79" ry="1.48" transform="rotate(13 12.99 41.35)"/><ellipse cx="22.69" cy="18.29" rx="1.98" ry="0.93" transform="rotate(17 22.69 18.29)"/><ellipse cx="13.22" cy="36.87" rx="1.28" ry="1.3" transform="rotate(-82 13.22 36.87)"/><ellipse cx="12.07" cy="23.91" rx="1.82" ry="1.6" transform="rotate(-5 12.07 23.91)"/><ellipse cx="8.11" cy="18.24" rx="2.34" ry="1.02" transform="rotate(-53 8.11 18.24)"/><ellipse cx="15.58" cy="33.81" rx="2.21" ry="1.52" transform="rotate(-32 15.58 33.81)"/><ellipse cx="3.71" cy="1.87" rx="2.58" ry="1.29" transform="rotate(-48 3.71 1.87)"/><ellipse cx="10.06" cy="14.43" rx="2.03" ry="0.83" transform="rotate(-58 10.06 14.43)"/><ellipse cx="31.49" cy="40.75" rx="2.52" ry="1.57" transform="rotate(81 31.49 40.75)"/><ellipse cx="-0.15" cy="12.47" rx="2.6" ry="1.13" transform="rotate(83 -0.15 12.47)"/><ellipse cx="42.96" cy="27.92" rx="1.73" ry="0.95" transform="rotate(57 42.96 27.92)"/><ellipse cx="19.7" cy="5.36" rx="2.93" ry="1.07" transform="rotate(-21 19.7 5.36)"/><ellipse cx="-0.56" cy="1.09" rx="2.61" ry="1.09" transform="rotate(-59 -0.56 1.09)"/><ellipse cx="12.53" cy="3.52" rx="1.96" ry="0.97" transform="rotate(86 12.53 3.52)"/><ellipse cx="1.77" cy="1.58" rx="2.42" ry="0.92" transform="rotate(-59 1.77 1.58)"/><ellipse cx="0.91" cy="21.87" rx="3" ry="0.9" transform="rotate(-45 0.91 21.87)"/><ellipse cx="23.66" cy="35.06" rx="2.98" ry="1.18" transform="rotate(-16 23.66 35.06)"/><ellipse cx="10.27" cy="18.14" rx="1.96" ry="1" transform="rotate(-83 10.27 18.14)"/><ellipse cx="40.44" cy="37.73" rx="1.26" ry="1" transform="rotate(0 40.44 37.73)"/><ellipse cx="10.3" cy="8.7" rx="2.77" ry="0.91" transform="rotate(-48 10.3 8.7)"/><ellipse cx="1.39" cy="42.25" rx="2.98" ry="1.12" transform="rotate(11 1.39 42.25)"/><ellipse cx="40.98" cy="29.48" rx="2.54" ry="1.2" transform="rotate(52 40.98 29.48)"/><ellipse cx="3.33" cy="8.83" rx="2.82" ry="1.54" transform="rotate(67 3.33 8.83)"/><ellipse cx="14.69" cy="29.61" rx="2.36" ry="1.45" transform="rotate(53 14.69 29.61)"/><ellipse cx="23.61" cy="29.51" rx="1.68" ry="1.54" transform="rotate(33 23.61 29.51)"/><ellipse cx="43.56" cy="2.47" rx="2.93" ry="1.33" transform="rotate(84 43.56 2.47)"/><ellipse cx="1.08" cy="40.89" rx="2.94" ry="1.33" transform="rotate(-67 1.08 40.89)"/><ellipse cx="1.82" cy="6.79" rx="2.22" ry="1.4" transform="rotate(24 1.82 6.79)"/><ellipse cx="42.22" cy="9.18" rx="2.86" ry="0.81" transform="rotate(-89 42.22 9.18)"/><ellipse cx="39.84" cy="4.4" rx="2.61" ry="1.5" transform="rotate(55 39.84 4.4)"/><ellipse cx="24.66" cy="39.95" rx="2.41" ry="1.06" transform="rotate(-53 24.66 39.95)"/><ellipse cx="40.56" cy="35.05" rx="2.15" ry="0.82" transform="rotate(-5 40.56 35.05)"/><ellipse cx="0.59" cy="26.7" rx="2.76" ry="1.29" transform="rotate(-2 0.59 26.7)"/><ellipse cx="5.47" cy="15.9" rx="2.14" ry="0.81" transform="rotate(48 5.47 15.9)"/><ellipse cx="38.04" cy="37.56" rx="2.18" ry="1.1" transform="rotate(-74 38.04 37.56)"/><ellipse cx="35.69" cy="13.5" rx="2.08" ry="1.57" transform="rotate(-47 35.69 13.5)"/><ellipse cx="3.43" cy="4.33" rx="2.79" ry="1.21" transform="rotate(21 3.43 4.33)"/><ellipse cx="19.22" cy="38.98" rx="1.32" ry="1.51" transform="rotate(49 19.22 38.98)"/><ellipse cx="8.13" cy="13.09" rx="1.96" ry="1.44" transform="rotate(60 8.13 13.09)"/><ellipse cx="6.8" cy="39.74" rx="1.47" ry="1.2" transform="rotate(-58 6.8 39.74)"/><ellipse cx="14.78" cy="24.25" rx="2.48" ry="0.8" transform="rotate(72 14.78 24.25)"/><ellipse cx="13.53" cy="24.39" rx="2.49" ry="1.19" transform="rotate(-2 13.53 24.39)"/><ellipse cx="2.53" cy="10.44" rx="1.84" ry="1.41" transform="rotate(62 2.53 10.44)"/><ellipse cx="44.94" cy="28.2" rx="2.3" ry="1.05" transform="rotate(31 44.94 28.2)"/><ellipse cx="41.54" cy="20.76" rx="1.75" ry="1.49" transform="rotate(74 41.54 20.76)"/><ellipse cx="35.67" cy="27.57" rx="1.45" ry="1.42" transform="rotate(-10 35.67 27.57)"/><ellipse cx="15.88" cy="29.85" rx="1.35" ry="0.92" transform="rotate(-66 15.88 29.85)"/><ellipse cx="36.7" cy="7.28" rx="1.87" ry="1.26" transform="rotate(72 36.7 7.28)"/><ellipse cx="15.33" cy="27.93" rx="1.92" ry="1.55" transform="rotate(-73 15.33 27.93)"/><ellipse cx="7.37" cy="29.49" rx="1.74" ry="0.82" transform="rotate(-31 7.37 29.49)"/><ellipse cx="-0.06" cy="43.24" rx="2.64" ry="1.45" transform="rotate(59 -0.06 43.24)"/><ellipse cx="43.43" cy="6.38" rx="2.09" ry="1.26" transform="rotate(15 43.43 6.38)"/><ellipse cx="42.71" cy="34.43" rx="1.41" ry="1.32" transform="rotate(84 42.71 34.43)"/><ellipse cx="30.47" cy="33.73" rx="2.7" ry="1.04" transform="rotate(21 30.47 33.73)"/><ellipse cx="42.24" cy="17.92" rx="2.81" ry="1.36" transform="rotate(17 42.24 17.92)"/><ellipse cx="13.43" cy="9.74" rx="2.33" ry="1.6" transform="rotate(-31 13.43 9.74)"/><ellipse cx="40.89" cy="17.65" rx="2.67" ry="1.03" transform="rotate(-17 40.89 17.65)"/><ellipse cx="18.18" cy="-0.39" rx="2.17" ry="1.35" transform="rotate(-56 18.18 -0.39)"/><ellipse cx="27.65" cy="15.98" rx="2.32" ry="0.92" transform="rotate(81 27.65 15.98)"/><ellipse cx="2.16" cy="44.38" rx="2.86" ry="1.28" transform="rotate(87 2.16 44.38)"/><ellipse cx="13.55" cy="3.26" rx="1.6" ry="1.54" transform="rotate(-43 13.55 3.26)"/><ellipse cx="40.59" cy="35.25" rx="1.63" ry="1.04" transform="rotate(-63 40.59 35.25)"/><ellipse cx="43.17" cy="6.61" rx="2.43" ry="1.24" transform="rotate(52 43.17 6.61)"/><ellipse cx="43.7" cy="11.22" rx="1.48" ry="0.88" transform="rotate(4 43.7 11.22)"/><ellipse cx="0.48" cy="13.75" rx="1.31" ry="1.59" transform="rotate(-68 0.48 13.75)"/><ellipse cx="12.47" cy="40.48" rx="2.52" ry="1.32" transform="rotate(36 12.47 40.48)"/><ellipse cx="43.39" cy="39.94" rx="2.21" ry="1.36" transform="rotate(39 43.39 39.94)"/><ellipse cx="32.72" cy="24.74" rx="1.48" ry="1.48" transform="rotate(0 32.72 24.74)"/><ellipse cx="21.56" cy="2.16" rx="2.77" ry="1" transform="rotate(-59 21.56 2.16)"/><ellipse cx="17.24" cy="30.79" rx="1.79" ry="1.11" transform="rotate(65 17.24 30.79)"/><ellipse cx="18.72" cy="0.31" rx="1.23" ry="1.57" transform="rotate(67 18.72 0.31)"/><ellipse cx="6.11" cy="6.3" rx="2.68" ry="0.99" transform="rotate(62 6.11 6.3)"/><ellipse cx="24.79" cy="21.21" rx="1.53" ry="1.46" transform="rotate(39 24.79 21.21)"/><ellipse cx="45.43" cy="31.92" rx="2.89" ry="1.1" transform="rotate(75 45.43 31.92)"/><ellipse cx="38.49" cy="37.85" rx="1.39" ry="1.3" transform="rotate(15 38.49 37.85)"/><ellipse cx="41.49" cy="13.22" rx="2.81" ry="1.28" transform="rotate(26 41.49 13.22)"/><ellipse cx="0.73" cy="28.45" rx="2.74" ry="1.33" transform="rotate(-43 0.73 28.45)"/><ellipse cx="13.32" cy="40.74" rx="1.81" ry="1.47" transform="rotate(22 13.32 40.74)"/><ellipse cx="40.55" cy="40.62" rx="2.39" ry="1.36" transform="rotate(68 40.55 40.62)"/><ellipse cx="27.18" cy="23.56" rx="1.84" ry="0.87" transform="rotate(87 27.18 23.56)"/><ellipse cx="32.25" cy="22.21" rx="2.28" ry="1" transform="rotate(8 32.25 22.21)"/><ellipse cx="8.36" cy="2.32" rx="2.84" ry="1.36" transform="rotate(50 8.36 2.32)"/><ellipse cx="4.44" cy="44.6" rx="2.12" ry="0.8" transform="rotate(58 4.44 44.6)"/></g>
<g fill="#f8e4f8" fill-opacity="0.85"><ellipse cx="38.32" cy="28.05" rx="0.52" ry="0.69" transform="rotate(22 38.32 28.05)"/><ellipse cx="0.6" cy="21.28" rx="0.82" ry="0.76" transform="rotate(-63 0.6 21.28)"/><ellipse cx="33.88" cy="37.02" rx="0.85" ry="0.64" transform="rotate(-36 33.88 37.02)"/><ellipse cx="0.59" cy="18.21" rx="1.18" ry="0.75" transform="rotate(85 0.59 18.21)"/><ellipse cx="12.92" cy="31.19" rx="1.13" ry="0.57" transform="rotate(51 12.92 31.19)"/><ellipse cx="7.15" cy="-0.16" rx="1.34" ry="0.51" transform="rotate(69 7.15 -0.16)"/><ellipse cx="34.22" cy="17.97" rx="1.26" ry="0.53" transform="rotate(22 34.22 17.97)"/><ellipse cx="27.9" cy="10.93" rx="0.53" ry="0.51" transform="rotate(2 27.9 10.93)"/><ellipse cx="12.38" cy="41.62" rx="1.18" ry="0.43" transform="rotate(-66 12.38 41.62)"/><ellipse cx="44.96" cy="6.74" rx="0.69" ry="0.77" transform="rotate(-73 44.96 6.74)"/><ellipse cx="30.16" cy="40.5" rx="0.6" ry="0.54" transform="rotate(0 30.16 40.5)"/><ellipse cx="20.23" cy="45.15" rx="0.72" ry="0.74" transform="rotate(-60 20.23 45.15)"/><ellipse cx="4.31" cy="44.27" rx="1.01" ry="0.66" transform="rotate(-36 4.31 44.27)"/><ellipse cx="41.27" cy="2.53" rx="0.66" ry="0.69" transform="rotate(62 41.27 2.53)"/><ellipse cx="0.27" cy="34.73" rx="0.69" ry="0.41" transform="rotate(-57 0.27 34.73)"/><ellipse cx="14.12" cy="14.29" rx="1.05" ry="0.55" transform="rotate(86 14.12 14.29)"/><ellipse cx="45.14" cy="7.01" rx="1.36" ry="0.78" transform="rotate(-51 45.14 7.01)"/><ellipse cx="30.88" cy="44.6" rx="1.31" ry="0.68" transform="rotate(-79 30.88 44.6)"/><ellipse cx="30.13" cy="38.29" rx="0.68" ry="0.46" transform="rotate(-71 30.13 38.29)"/><ellipse cx="21.31" cy="24.45" rx="0.83" ry="0.7" transform="rotate(7 21.31 24.45)"/><ellipse cx="38.07" cy="34.35" rx="0.64" ry="0.49" transform="rotate(-83 38.07 34.35)"/><ellipse cx="10.1" cy="25.74" rx="1.06" ry="0.54" transform="rotate(-54 10.1 25.74)"/><ellipse cx="15.95" cy="32" rx="0.67" ry="0.54" transform="rotate(79 15.95 32)"/><ellipse cx="44.74" cy="8.91" rx="0.67" ry="0.73" transform="rotate(-85 44.74 8.91)"/><ellipse cx="33.08" cy="42.73" rx="0.54" ry="0.52" transform="rotate(0 33.08 42.73)"/><ellipse cx="32.52" cy="17.31" rx="0.84" ry="0.59" transform="rotate(-64 32.52 17.31)"/><ellipse cx="15.59" cy="19.8" rx="0.53" ry="0.71" transform="rotate(-65 15.59 19.8)"/><ellipse cx="33.12" cy="18.5" rx="0.77" ry="0.62" transform="rotate(-69 33.12 18.5)"/><ellipse cx="40.69" cy="21.44" rx="0.97" ry="0.47" transform="rotate(85 40.69 21.44)"/><ellipse cx="27.66" cy="26.96" rx="1.15" ry="0.41" transform="rotate(17 27.66 26.96)"/><ellipse cx="19.36" cy="36.29" rx="0.54" ry="0.47" transform="rotate(-65 19.36 36.29)"/><ellipse cx="12.31" cy="19.28" rx="1.07" ry="0.47" transform="rotate(-33 12.31 19.28)"/><ellipse cx="15.1" cy="30.49" rx="1.36" ry="0.77" transform="rotate(7 15.1 30.49)"/><ellipse cx="11.02" cy="14.61" rx="0.99" ry="0.55" transform="rotate(6 11.02 14.61)"/><ellipse cx="39.2" cy="8.18" rx="0.61" ry="0.75" transform="rotate(-5 39.2 8.18)"/><ellipse cx="26.76" cy="45.03" rx="1.14" ry="0.64" transform="rotate(-64 26.76 45.03)"/><ellipse cx="1.4" cy="37.21" rx="0.57" ry="0.78" transform="rotate(67 1.4 37.21)"/><ellipse cx="35.58" cy="27.17" rx="0.74" ry="0.42" transform="rotate(7 35.58 27.17)"/><ellipse cx="21.16" cy="39.35" rx="0.93" ry="0.51" transform="rotate(-52 21.16 39.35)"/><ellipse cx="31.2" cy="43.72" rx="0.76" ry="0.57" transform="rotate(69 31.2 43.72)"/><ellipse cx="-0.88" cy="23.67" rx="1.26" ry="0.43" transform="rotate(63 -0.88 23.67)"/><ellipse cx="19.2" cy="2.73" rx="1.32" ry="0.51" transform="rotate(-13 19.2 2.73)"/><ellipse cx="38.41" cy="43.52" rx="0.68" ry="0.77" transform="rotate(57 38.41 43.52)"/><ellipse cx="42.01" cy="45.53" rx="0.5" ry="0.52" transform="rotate(-88 42.01 45.53)"/><ellipse cx="23.12" cy="18.76" rx="1.08" ry="0.67" transform="rotate(-73 23.12 18.76)"/><ellipse cx="28.37" cy="22.79" rx="1.12" ry="0.43" transform="rotate(8 28.37 22.79)"/><ellipse cx="19.33" cy="5.31" rx="1.19" ry="0.53" transform="rotate(-71 19.33 5.31)"/><ellipse cx="14.81" cy="11.91" rx="0.61" ry="0.66" transform="rotate(15 14.81 11.91)"/><ellipse cx="2.28" cy="43.51" rx="1.19" ry="0.62" transform="rotate(-61 2.28 43.51)"/><ellipse cx="18.8" cy="13.18" rx="1.18" ry="0.61" transform="rotate(-25 18.8 13.18)"/><ellipse cx="24" cy="10.54" rx="0.65" ry="0.59" transform="rotate(22 24 10.54)"/><ellipse cx="29.36" cy="24.36" rx="1.01" ry="0.48" transform="rotate(14 29.36 24.36)"/><ellipse cx="43.63" cy="30.87" rx="1.36" ry="0.58" transform="rotate(40 43.63 30.87)"/><ellipse cx="14.5" cy="13.17" rx="0.77" ry="0.53" transform="rotate(-33 14.5 13.17)"/><ellipse cx="8.74" cy="21.55" rx="0.83" ry="0.67" transform="rotate(-37 8.74 21.55)"/><ellipse cx="13.69" cy="39.23" rx="0.8" ry="0.73" transform="rotate(53 13.69 39.23)"/><ellipse cx="7.22" cy="3.47" rx="0.53" ry="0.4" transform="rotate(89 7.22 3.47)"/><ellipse cx="39.41" cy="-0.88" rx="1" ry="0.49" transform="rotate(27 39.41 -0.88)"/><ellipse cx="10.44" cy="44.07" rx="0.72" ry="0.58" transform="rotate(-19 10.44 44.07)"/><ellipse cx="33.12" cy="12.54" rx="1.21" ry="0.44" transform="rotate(-73 33.12 12.54)"/><ellipse cx="1.58" cy="-0.78" rx="0.89" ry="0.69" transform="rotate(88 1.58 -0.78)"/><ellipse cx="24.99" cy="44.43" rx="0.81" ry="0.67" transform="rotate(-28 24.99 44.43)"/><ellipse cx="-0.97" cy="15.94" rx="1.02" ry="0.6" transform="rotate(46 -0.97 15.94)"/><ellipse cx="42.66" cy="19.17" rx="0.85" ry="0.43" transform="rotate(41 42.66 19.17)"/><ellipse cx="17.06" cy="8.82" rx="0.76" ry="0.45" transform="rotate(-85 17.06 8.82)"/><ellipse cx="20.28" cy="33.38" rx="1.3" ry="0.53" transform="rotate(46 20.28 33.38)"/><ellipse cx="30.2" cy="40.43" rx="1.32" ry="0.44" transform="rotate(-18 30.2 40.43)"/><ellipse cx="41.91" cy="40.06" rx="1.25" ry="0.68" transform="rotate(86 41.91 40.06)"/><ellipse cx="19.28" cy="32.43" rx="1.02" ry="0.65" transform="rotate(68 19.28 32.43)"/><ellipse cx="42.07" cy="12.27" rx="0.53" ry="0.75" transform="rotate(-29 42.07 12.27)"/><ellipse cx="28.33" cy="30.35" rx="0.67" ry="0.59" transform="rotate(-47 28.33 30.35)"/><ellipse cx="39.87" cy="15.53" rx="0.88" ry="0.74" transform="rotate(-14 39.87 15.53)"/><ellipse cx="4.77" cy="39.34" rx="1.13" ry="0.71" transform="rotate(-87 4.77 39.34)"/><ellipse cx="20.88" cy="33.57" rx="0.63" ry="0.54" transform="rotate(-39 20.88 33.57)"/><ellipse cx="11.35" cy="32.41" rx="1.09" ry="0.79" transform="rotate(11 11.35 32.41)"/><ellipse cx="35.03" cy="35.89" rx="1.34" ry="0.7" transform="rotate(84 35.03 35.89)"/><ellipse cx="15.21" cy="22.69" rx="1.21" ry="0.76" transform="rotate(46 15.21 22.69)"/><ellipse cx="33.59" cy="30.17" rx="1.06" ry="0.47" transform="rotate(-44 33.59 30.17)"/><ellipse cx="29.15" cy="7.2" rx="1.36" ry="0.75" transform="rotate(-86 29.15 7.2)"/><ellipse cx="13.21" cy="1.09" rx="1.19" ry="0.46" transform="rotate(57 13.21 1.09)"/><ellipse cx="37.08" cy="38.07" rx="0.75" ry="0.42" transform="rotate(13 37.08 38.07)"/><ellipse cx="1.96" cy="19.55" rx="1.07" ry="0.49" transform="rotate(39 1.96 19.55)"/><ellipse cx="36.19" cy="1.94" rx="0.66" ry="0.4" transform="rotate(20 36.19 1.94)"/><ellipse cx="8.02" cy="36.08" rx="0.51" ry="0.59" transform="rotate(-50 8.02 36.08)"/><ellipse cx="15.26" cy="25.75" rx="1.14" ry="0.77" transform="rotate(13 15.26 25.75)"/><ellipse cx="14.77" cy="28.59" rx="0.73" ry="0.44" transform="rotate(-68 14.77 28.59)"/><ellipse cx="39.17" cy="14.73" rx="1.29" ry="0.55" transform="rotate(37 39.17 14.73)"/><ellipse cx="8.64" cy="10.56" rx="0.85" ry="0.43" transform="rotate(-1 8.64 10.56)"/><ellipse cx="38.63" cy="28.79" rx="1.26" ry="0.69" transform="rotate(66 38.63 28.79)"/><ellipse cx="37.4" cy="31.8" rx="1.24" ry="0.77" transform="rotate(-12 37.4 31.8)"/><ellipse cx="4.01" cy="5.72" rx="0.91" ry="0.75" transform="rotate(-59 4.01 5.72)"/><ellipse cx="23.54" cy="38.85" rx="1.01" ry="0.5" transform="rotate(-24 23.54 38.85)"/><ellipse cx="28.83" cy="11.59" rx="0.86" ry="0.63" transform="rotate(-88 28.83 11.59)"/><ellipse cx="40.06" cy="12.34" rx="1.23" ry="0.46" transform="rotate(76 40.06 12.34)"/><ellipse cx="35.29" cy="42.59" rx="1.12" ry="0.56" transform="rotate(83 35.29 42.59)"/><ellipse cx="24.34" cy="29.33" rx="0.67" ry="0.75" transform="rotate(20 24.34 29.33)"/><ellipse cx="24.2" cy="2.32" rx="0.57" ry="0.58" transform="rotate(-34 24.2 2.32)"/><ellipse cx="3.38" cy="23.68" rx="1.24" ry="0.71" transform="rotate(-39 3.38 23.68)"/><ellipse cx="7.74" cy="36.82" rx="0.74" ry="0.76" transform="rotate(14 7.74 36.82)"/><ellipse cx="-0.71" cy="17.59" rx="0.65" ry="0.6" transform="rotate(17 -0.71 17.59)"/><ellipse cx="40.21" cy="15.01" rx="0.67" ry="0.79" transform="rotate(37 40.21 15.01)"/><ellipse cx="43.93" cy="6.69" rx="0.8" ry="0.41" transform="rotate(47 43.93 6.69)"/><ellipse cx="8.83" cy="32.96" rx="0.98" ry="0.45" transform="rotate(-6 8.83 32.96)"/><ellipse cx="7" cy="16.02" rx="1.24" ry="0.58" transform="rotate(2 7 16.02)"/><ellipse cx="14.28" cy="41.57" rx="1.18" ry="0.72" transform="rotate(34 14.28 41.57)"/><ellipse cx="21.58" cy="11.12" rx="1.09" ry="0.7" transform="rotate(-69 21.58 11.12)"/><ellipse cx="41.04" cy="41.84" rx="0.94" ry="0.79" transform="rotate(0 41.04 41.84)"/><ellipse cx="3" cy="16.46" rx="1.04" ry="0.64" transform="rotate(8 3 16.46)"/><ellipse cx="6.38" cy="22.68" rx="0.85" ry="0.47" transform="rotate(-58 6.38 22.68)"/><ellipse cx="13.9" cy="28.21" rx="0.65" ry="0.59" transform="rotate(-18 13.9 28.21)"/><ellipse cx="30.22" cy="13.04" rx="0.89" ry="0.68" transform="rotate(-41 30.22 13.04)"/><ellipse cx="0.7" cy="30.36" rx="1.3" ry="0.48" transform="rotate(-80 0.7 30.36)"/><ellipse cx="37.41" cy="0.58" rx="0.73" ry="0.71" transform="rotate(-1 37.41 0.58)"/><ellipse cx="34.93" cy="4.91" rx="1.16" ry="0.57" transform="rotate(-80 34.93 4.91)"/><ellipse cx="16.37" cy="15.24" rx="1.02" ry="0.56" transform="rotate(-23 16.37 15.24)"/><ellipse cx="5.01" cy="20.97" rx="1.19" ry="0.69" transform="rotate(87 5.01 20.97)"/><ellipse cx="42.23" cy="19.72" rx="1.21" ry="0.44" transform="rotate(-24 42.23 19.72)"/><ellipse cx="34.72" cy="5.9" rx="0.96" ry="0.71" transform="rotate(22 34.72 5.9)"/><ellipse cx="1.93" cy="30.29" rx="0.53" ry="0.67" transform="rotate(58 1.93 30.29)"/><ellipse cx="12.05" cy="33.69" rx="0.5" ry="0.56" transform="rotate(86 12.05 33.69)"/><ellipse cx="22.27" cy="44.73" rx="0.53" ry="0.45" transform="rotate(76 22.27 44.73)"/><ellipse cx="18" cy="36.47" rx="1" ry="0.77" transform="rotate(52 18 36.47)"/><ellipse cx="37.22" cy="39.91" rx="0.73" ry="0.69" transform="rotate(24 37.22 39.91)"/><ellipse cx="32.38" cy="42.24" rx="0.52" ry="0.54" transform="rotate(-59 32.38 42.24)"/><ellipse cx="10.92" cy="17.04" rx="1.05" ry="0.57" transform="rotate(-79 10.92 17.04)"/><ellipse cx="11.35" cy="3.73" rx="0.59" ry="0.74" transform="rotate(13 11.35 3.73)"/><ellipse cx="11.9" cy="40.85" rx="0.85" ry="0.71" transform="rotate(-67 11.9 40.85)"/><ellipse cx="23.3" cy="19.87" rx="0.65" ry="0.74" transform="rotate(68 23.3 19.87)"/><ellipse cx="22.99" cy="12.31" rx="0.75" ry="0.65" transform="rotate(-27 22.99 12.31)"/><ellipse cx="19.54" cy="23.14" rx="1.27" ry="0.68" transform="rotate(26 19.54 23.14)"/></g>
<g fill="#74389a" fill-opacity="0.8"><ellipse cx="12.78" cy="30.02" rx="1.24" ry="0.69" transform="rotate(34 12.78 30.02)"/><ellipse cx="23.8" cy="34.26" rx="0.83" ry="0.81" transform="rotate(-29 23.8 34.26)"/><ellipse cx="16.41" cy="38.49" rx="0.75" ry="0.8" transform="rotate(-27 16.41 38.49)"/><ellipse cx="26.88" cy="45.15" rx="0.9" ry="0.72" transform="rotate(79 26.88 45.15)"/><ellipse cx="29.37" cy="22.52" rx="0.88" ry="0.93" transform="rotate(15 29.37 22.52)"/><ellipse cx="40.58" cy="35.84" rx="1.22" ry="0.63" transform="rotate(44 40.58 35.84)"/><ellipse cx="42.89" cy="8.4" rx="0.95" ry="0.58" transform="rotate(-71 42.89 8.4)"/><ellipse cx="10.93" cy="27.23" rx="0.88" ry="0.68" transform="rotate(-63 10.93 27.23)"/><ellipse cx="42.96" cy="2.66" rx="0.93" ry="0.58" transform="rotate(1 42.96 2.66)"/><ellipse cx="15.15" cy="15.93" rx="0.99" ry="0.78" transform="rotate(-25 15.15 15.93)"/><ellipse cx="20.72" cy="19.52" rx="0.94" ry="0.56" transform="rotate(19 20.72 19.52)"/><ellipse cx="29.58" cy="18.06" rx="0.69" ry="0.77" transform="rotate(63 29.58 18.06)"/><ellipse cx="12.96" cy="28.48" rx="1.05" ry="0.79" transform="rotate(57 12.96 28.48)"/><ellipse cx="42.41" cy="9.54" rx="0.91" ry="0.82" transform="rotate(89 42.41 9.54)"/><ellipse cx="5.05" cy="0.4" rx="0.98" ry="0.62" transform="rotate(-61 5.05 0.4)"/><ellipse cx="36.03" cy="6.22" rx="1.23" ry="0.85" transform="rotate(29 36.03 6.22)"/><ellipse cx="42" cy="37.39" rx="0.63" ry="0.76" transform="rotate(64 42 37.39)"/><ellipse cx="12.94" cy="19.44" rx="1.11" ry="0.6" transform="rotate(41 12.94 19.44)"/><ellipse cx="6.97" cy="2.26" rx="1.18" ry="0.55" transform="rotate(43 6.97 2.26)"/><ellipse cx="5.37" cy="5.42" rx="0.65" ry="0.79" transform="rotate(88 5.37 5.42)"/><ellipse cx="39.84" cy="6.95" rx="0.84" ry="0.82" transform="rotate(32 39.84 6.95)"/><ellipse cx="20.82" cy="5.95" rx="0.95" ry="0.99" transform="rotate(71 20.82 5.95)"/><ellipse cx="26.74" cy="43.71" rx="0.64" ry="0.5" transform="rotate(27 26.74 43.71)"/><ellipse cx="45.23" cy="30.04" rx="1.19" ry="0.68" transform="rotate(52 45.23 30.04)"/><ellipse cx="31.86" cy="29.17" rx="0.98" ry="0.96" transform="rotate(-79 31.86 29.17)"/><ellipse cx="24.93" cy="35.67" rx="0.89" ry="0.75" transform="rotate(-77 24.93 35.67)"/><ellipse cx="24.87" cy="38.43" rx="1" ry="0.76" transform="rotate(-1 24.87 38.43)"/><ellipse cx="30.42" cy="26.01" rx="0.8" ry="0.93" transform="rotate(-18 30.42 26.01)"/><ellipse cx="15.52" cy="32.22" rx="1.29" ry="0.61" transform="rotate(-41 15.52 32.22)"/><ellipse cx="18.57" cy="16.18" rx="1.11" ry="0.63" transform="rotate(67 18.57 16.18)"/><ellipse cx="10.35" cy="33.64" rx="0.73" ry="0.56" transform="rotate(-9 10.35 33.64)"/><ellipse cx="32.6" cy="29.81" rx="0.65" ry="0.74" transform="rotate(55 32.6 29.81)"/><ellipse cx="5.74" cy="25.57" rx="0.76" ry="0.78" transform="rotate(-48 5.74 25.57)"/><ellipse cx="6.65" cy="36.01" rx="0.79" ry="0.88" transform="rotate(-59 6.65 36.01)"/><ellipse cx="11.29" cy="12.91" rx="0.99" ry="0.91" transform="rotate(51 11.29 12.91)"/><ellipse cx="39.48" cy="43.88" rx="0.87" ry="0.73" transform="rotate(-74 39.48 43.88)"/><ellipse cx="12.35" cy="39.42" rx="1.25" ry="0.54" transform="rotate(-19 12.35 39.42)"/><ellipse cx="19.7" cy="28.28" rx="0.94" ry="0.95" transform="rotate(51 19.7 28.28)"/><ellipse cx="12.84" cy="15.57" rx="0.73" ry="0.74" transform="rotate(-55 12.84 15.57)"/><ellipse cx="33.08" cy="7.97" rx="0.9" ry="0.99" transform="rotate(-2 33.08 7.97)"/><ellipse cx="21.96" cy="36.7" rx="1.23" ry="0.51" transform="rotate(-47 21.96 36.7)"/><ellipse cx="6.06" cy="28.57" rx="0.97" ry="0.81" transform="rotate(5 6.06 28.57)"/><ellipse cx="15.21" cy="29.85" rx="1.01" ry="0.86" transform="rotate(-18 15.21 29.85)"/><ellipse cx="13.43" cy="34.47" rx="1.29" ry="0.53" transform="rotate(58 13.43 34.47)"/><ellipse cx="18.86" cy="6.64" rx="0.93" ry="0.89" transform="rotate(-59 18.86 6.64)"/><ellipse cx="4.84" cy="36.05" rx="1.28" ry="0.88" transform="rotate(61 4.84 36.05)"/><ellipse cx="8.76" cy="32.44" rx="0.79" ry="0.9" transform="rotate(13 8.76 32.44)"/><ellipse cx="14.45" cy="38.15" rx="0.88" ry="0.57" transform="rotate(68 14.45 38.15)"/><ellipse cx="37.02" cy="6.32" rx="1.21" ry="0.62" transform="rotate(-68 37.02 6.32)"/><ellipse cx="11.14" cy="17.26" rx="0.74" ry="0.66" transform="rotate(40 11.14 17.26)"/><ellipse cx="2.12" cy="10.96" rx="1.05" ry="0.8" transform="rotate(44 2.12 10.96)"/><ellipse cx="40.86" cy="0.43" rx="1.04" ry="0.68" transform="rotate(-39 40.86 0.43)"/><ellipse cx="44.52" cy="9.41" rx="1.11" ry="0.84" transform="rotate(82 44.52 9.41)"/><ellipse cx="42.88" cy="19.21" rx="0.91" ry="0.87" transform="rotate(-29 42.88 19.21)"/><ellipse cx="37.27" cy="28.4" rx="1.07" ry="0.89" transform="rotate(52 37.27 28.4)"/><ellipse cx="4.97" cy="37.68" rx="0.83" ry="0.56" transform="rotate(6 4.97 37.68)"/><ellipse cx="27.26" cy="9.24" rx="0.98" ry="0.6" transform="rotate(-24 27.26 9.24)"/><ellipse cx="9.81" cy="2.55" rx="1.18" ry="0.62" transform="rotate(-27 9.81 2.55)"/><ellipse cx="11.44" cy="5.28" rx="1.12" ry="0.59" transform="rotate(19 11.44 5.28)"/><ellipse cx="37.25" cy="-0.52" rx="0.67" ry="0.89" transform="rotate(-68 37.25 -0.52)"/><ellipse cx="2.86" cy="33.05" rx="0.81" ry="0.55" transform="rotate(-52 2.86 33.05)"/><ellipse cx="36.8" cy="16.28" rx="1.09" ry="0.78" transform="rotate(77 36.8 16.28)"/><ellipse cx="20.48" cy="25.22" rx="1.28" ry="0.61" transform="rotate(14 20.48 25.22)"/><ellipse cx="7.32" cy="45.53" rx="1.04" ry="0.73" transform="rotate(33 7.32 45.53)"/><ellipse cx="-0.39" cy="9.4" rx="0.79" ry="0.8" transform="rotate(54 -0.39 9.4)"/><ellipse cx="21.75" cy="7.04" rx="0.65" ry="0.86" transform="rotate(-79 21.75 7.04)"/><ellipse cx="10.09" cy="22.81" rx="1.13" ry="0.58" transform="rotate(13 10.09 22.81)"/><ellipse cx="18.89" cy="34.21" rx="0.93" ry="0.82" transform="rotate(29 18.89 34.21)"/><ellipse cx="35.66" cy="39.86" rx="0.67" ry="0.56" transform="rotate(5 35.66 39.86)"/><ellipse cx="30.02" cy="30.69" rx="1.09" ry="0.61" transform="rotate(-9 30.02 30.69)"/><ellipse cx="17.36" cy="16.74" rx="1.28" ry="0.64" transform="rotate(44 17.36 16.74)"/><ellipse cx="3.64" cy="16.21" rx="1.3" ry="0.53" transform="rotate(65 3.64 16.21)"/><ellipse cx="14.67" cy="21.19" rx="1" ry="0.71" transform="rotate(70 14.67 21.19)"/><ellipse cx="44.37" cy="33.19" rx="1.17" ry="0.99" transform="rotate(71 44.37 33.19)"/><ellipse cx="30.86" cy="35.38" rx="1.07" ry="0.97" transform="rotate(0 30.86 35.38)"/><ellipse cx="43.17" cy="40.96" rx="0.94" ry="0.71" transform="rotate(31 43.17 40.96)"/><ellipse cx="17.24" cy="43.38" rx="1.16" ry="0.83" transform="rotate(29 17.24 43.38)"/><ellipse cx="3.69" cy="19.88" rx="1.28" ry="0.84" transform="rotate(-27 3.69 19.88)"/><ellipse cx="16.05" cy="22.88" rx="0.97" ry="0.85" transform="rotate(70 16.05 22.88)"/><ellipse cx="15.88" cy="18.87" rx="0.74" ry="0.84" transform="rotate(47 15.88 18.87)"/><ellipse cx="38.2" cy="45.38" rx="1.03" ry="1" transform="rotate(5 38.2 45.38)"/><ellipse cx="35.97" cy="39.5" rx="0.69" ry="0.91" transform="rotate(4 35.97 39.5)"/><ellipse cx="3.4" cy="32.22" rx="1.17" ry="0.82" transform="rotate(-37 3.4 32.22)"/><ellipse cx="22.81" cy="21.34" rx="1.3" ry="0.78" transform="rotate(-36 22.81 21.34)"/><ellipse cx="43.72" cy="4.57" rx="0.72" ry="0.66" transform="rotate(-85 43.72 4.57)"/><ellipse cx="44.92" cy="4.97" rx="1.2" ry="0.65" transform="rotate(3 44.92 4.97)"/><ellipse cx="12.57" cy="8.9" rx="1.01" ry="0.78" transform="rotate(-80 12.57 8.9)"/><ellipse cx="9.07" cy="25.15" rx="1.09" ry="0.62" transform="rotate(0 9.07 25.15)"/><ellipse cx="9.59" cy="39.84" rx="1.13" ry="0.67" transform="rotate(33 9.59 39.84)"/><ellipse cx="26.17" cy="16.68" rx="1.27" ry="0.74" transform="rotate(32 26.17 16.68)"/><ellipse cx="20.24" cy="31.67" rx="0.86" ry="0.51" transform="rotate(0 20.24 31.67)"/><ellipse cx="37.16" cy="22.74" rx="0.84" ry="0.94" transform="rotate(62 37.16 22.74)"/><ellipse cx="36.62" cy="9.88" rx="0.63" ry="0.82" transform="rotate(50 36.62 9.88)"/><ellipse cx="35.35" cy="32.61" rx="0.85" ry="0.59" transform="rotate(-37 35.35 32.61)"/><ellipse cx="40.8" cy="26.56" rx="0.94" ry="0.72" transform="rotate(50 40.8 26.56)"/><ellipse cx="42.9" cy="42.61" rx="1.06" ry="0.94" transform="rotate(43 42.9 42.61)"/><ellipse cx="14.06" cy="13.9" rx="1.07" ry="0.88" transform="rotate(51 14.06 13.9)"/><ellipse cx="32.31" cy="17.7" rx="1.14" ry="0.94" transform="rotate(-68 32.31 17.7)"/><ellipse cx="23.76" cy="13.83" rx="0.73" ry="0.6" transform="rotate(62 23.76 13.83)"/><ellipse cx="25.89" cy="21.33" rx="0.61" ry="0.97" transform="rotate(46 25.89 21.33)"/><ellipse cx="12.07" cy="22.2" rx="0.86" ry="0.75" transform="rotate(-85 12.07 22.2)"/><ellipse cx="43.09" cy="7.92" rx="1.21" ry="0.96" transform="rotate(-66 43.09 7.92)"/><ellipse cx="22.18" cy="23.06" rx="0.92" ry="0.73" transform="rotate(68 22.18 23.06)"/><ellipse cx="19.17" cy="10.31" rx="0.86" ry="0.53" transform="rotate(-40 19.17 10.31)"/><ellipse cx="20.59" cy="35.34" rx="0.69" ry="0.68" transform="rotate(66 20.59 35.34)"/><ellipse cx="39.54" cy="43.55" rx="0.72" ry="0.92" transform="rotate(-33 39.54 43.55)"/><ellipse cx="12.77" cy="29.62" rx="0.78" ry="0.65" transform="rotate(76 12.77 29.62)"/><ellipse cx="25.54" cy="2.94" rx="1" ry="0.72" transform="rotate(1 25.54 2.94)"/><ellipse cx="33.52" cy="30.07" rx="1.17" ry="0.57" transform="rotate(14 33.52 30.07)"/><ellipse cx="7.31" cy="12.21" rx="1.23" ry="0.93" transform="rotate(-58 7.31 12.21)"/><ellipse cx="40.72" cy="17.24" rx="1.25" ry="0.88" transform="rotate(63 40.72 17.24)"/><ellipse cx="38.38" cy="30.94" rx="0.83" ry="0.63" transform="rotate(-87 38.38 30.94)"/><ellipse cx="23.69" cy="25.23" rx="0.78" ry="0.99" transform="rotate(75 23.69 25.23)"/><ellipse cx="6.09" cy="35.59" rx="0.99" ry="0.81" transform="rotate(-33 6.09 35.59)"/><ellipse cx="1.27" cy="25.96" rx="0.78" ry="0.55" transform="rotate(28 1.27 25.96)"/><ellipse cx="27.19" cy="11.12" rx="0.77" ry="0.79" transform="rotate(-58 27.19 11.12)"/><ellipse cx="20.85" cy="16.87" rx="0.75" ry="0.81" transform="rotate(-68 20.85 16.87)"/><ellipse cx="17.64" cy="7.53" rx="0.98" ry="0.67" transform="rotate(57 17.64 7.53)"/><ellipse cx="44.27" cy="24.05" rx="0.94" ry="0.63" transform="rotate(-62 44.27 24.05)"/><ellipse cx="38.4" cy="35.32" rx="0.7" ry="0.84" transform="rotate(-76 38.4 35.32)"/><ellipse cx="22.45" cy="13.54" rx="0.7" ry="0.73" transform="rotate(-2 22.45 13.54)"/><ellipse cx="25.44" cy="42.56" rx="1" ry="0.52" transform="rotate(20 25.44 42.56)"/><ellipse cx="22.52" cy="25.22" rx="0.82" ry="0.97" transform="rotate(29 22.52 25.22)"/><ellipse cx="32.07" cy="32.64" rx="1.27" ry="0.56" transform="rotate(85 32.07 32.64)"/><ellipse cx="40.86" cy="23.72" rx="0.61" ry="0.53" transform="rotate(18 40.86 23.72)"/><ellipse cx="36.1" cy="16.09" rx="1.26" ry="0.77" transform="rotate(87 36.1 16.09)"/><ellipse cx="26.46" cy="26.73" rx="1.17" ry="0.99" transform="rotate(7 26.46 26.73)"/><ellipse cx="14.59" cy="18.38" rx="0.65" ry="0.58" transform="rotate(-19 14.59 18.38)"/><ellipse cx="7.46" cy="33.67" rx="1.02" ry="0.99" transform="rotate(-57 7.46 33.67)"/><ellipse cx="18.03" cy="45.57" rx="0.85" ry="0.57" transform="rotate(-44 18.03 45.57)"/><ellipse cx="6.16" cy="17.97" rx="1.06" ry="0.61" transform="rotate(49 6.16 17.97)"/><ellipse cx="2.03" cy="2.53" rx="0.98" ry="0.5" transform="rotate(-30 2.03 2.53)"/><ellipse cx="3.9" cy="30.05" rx="0.63" ry="0.91" transform="rotate(-48 3.9 30.05)"/><ellipse cx="2.5" cy="33.65" rx="1.2" ry="0.74" transform="rotate(-80 2.5 33.65)"/><ellipse cx="14.73" cy="8.89" rx="0.89" ry="0.78" transform="rotate(57 14.73 8.89)"/><ellipse cx="13.95" cy="7.36" rx="0.78" ry="0.87" transform="rotate(-34 13.95 7.36)"/><ellipse cx="37.38" cy="35.12" rx="0.84" ry="0.97" transform="rotate(-36 37.38 35.12)"/><ellipse cx="20.52" cy="25.99" rx="1.14" ry="0.72" transform="rotate(-80 20.52 25.99)"/><ellipse cx="9.12" cy="21.14" rx="0.85" ry="0.68" transform="rotate(-53 9.12 21.14)"/><ellipse cx="19.32" cy="14.8" rx="1.18" ry="0.77" transform="rotate(-59 19.32 14.8)"/><ellipse cx="16.6" cy="28.32" rx="0.81" ry="0.68" transform="rotate(-72 16.6 28.32)"/><ellipse cx="21.48" cy="39.21" rx="0.89" ry="0.8" transform="rotate(-9 21.48 39.21)"/><ellipse cx="35.06" cy="13.88" rx="0.85" ry="0.51" transform="rotate(32 35.06 13.88)"/><ellipse cx="2.44" cy="1.35" rx="0.76" ry="0.78" transform="rotate(-19 2.44 1.35)"/><ellipse cx="33.28" cy="20.02" rx="0.81" ry="0.59" transform="rotate(41 33.28 20.02)"/><ellipse cx="37.42" cy="24.89" rx="0.85" ry="0.94" transform="rotate(-50 37.42 24.89)"/><ellipse cx="1.85" cy="38.78" rx="1.21" ry="0.77" transform="rotate(-69 1.85 38.78)"/><ellipse cx="4.79" cy="11.83" rx="1.02" ry="0.89" transform="rotate(-19 4.79 11.83)"/><ellipse cx="38.32" cy="9.25" rx="1.14" ry="0.6" transform="rotate(14 38.32 9.25)"/><ellipse cx="36.69" cy="10.27" rx="0.95" ry="0.77" transform="rotate(16 36.69 10.27)"/></g>
<g fill="#341058" fill-opacity="0.9"><ellipse cx="38.73" cy="5.46" rx="1.08" ry="0.75" transform="rotate(-43 38.73 5.46)"/><ellipse cx="40.99" cy="9.69" rx="0.89" ry="0.81" transform="rotate(-32 40.99 9.69)"/><ellipse cx="22.8" cy="2.49" rx="0.98" ry="0.85" transform="rotate(-9 22.8 2.49)"/><ellipse cx="3.17" cy="17.27" rx="0.97" ry="0.75" transform="rotate(73 3.17 17.27)"/><ellipse cx="6.76" cy="22.04" rx="0.85" ry="0.7" transform="rotate(-14 6.76 22.04)"/><ellipse cx="3.22" cy="36.84" rx="0.69" ry="0.75" transform="rotate(-10 3.22 36.84)"/><ellipse cx="14.07" cy="4.93" rx="0.61" ry="0.87" transform="rotate(14 14.07 4.93)"/><ellipse cx="25.56" cy="11.36" rx="0.89" ry="0.51" transform="rotate(78 25.56 11.36)"/><ellipse cx="32.7" cy="1.48" rx="0.88" ry="0.76" transform="rotate(-40 32.7 1.48)"/><ellipse cx="43.45" cy="37.11" rx="0.87" ry="0.54" transform="rotate(-57 43.45 37.11)"/><ellipse cx="31.79" cy="18.89" rx="0.63" ry="0.7" transform="rotate(27 31.79 18.89)"/><ellipse cx="19.33" cy="1" rx="1.09" ry="0.8" transform="rotate(28 19.33 1)"/><ellipse cx="43.91" cy="3.5" rx="0.89" ry="0.68" transform="rotate(25 43.91 3.5)"/><ellipse cx="36.39" cy="18.21" rx="0.92" ry="0.84" transform="rotate(-74 36.39 18.21)"/><ellipse cx="16.25" cy="28.29" rx="1.09" ry="0.89" transform="rotate(-63 16.25 28.29)"/><ellipse cx="-0.29" cy="28.96" rx="0.86" ry="0.53" transform="rotate(77 -0.29 28.96)"/><ellipse cx="32.97" cy="22.34" rx="0.63" ry="0.59" transform="rotate(-28 32.97 22.34)"/><ellipse cx="37.08" cy="20.93" rx="0.92" ry="0.65" transform="rotate(5 37.08 20.93)"/><ellipse cx="34.42" cy="32.72" rx="0.92" ry="0.51" transform="rotate(-86 34.42 32.72)"/><ellipse cx="22.56" cy="42.1" rx="0.75" ry="0.87" transform="rotate(59 22.56 42.1)"/><ellipse cx="7.08" cy="31.74" rx="0.62" ry="0.6" transform="rotate(47 7.08 31.74)"/><ellipse cx="24.03" cy="45.42" rx="0.83" ry="0.86" transform="rotate(-60 24.03 45.42)"/><ellipse cx="7.03" cy="37.89" rx="1" ry="0.64" transform="rotate(43 7.03 37.89)"/><ellipse cx="27.15" cy="5.87" rx="1" ry="0.55" transform="rotate(-39 27.15 5.87)"/><ellipse cx="24.29" cy="2.94" rx="0.92" ry="0.55" transform="rotate(55 24.29 2.94)"/><ellipse cx="40.12" cy="29.36" rx="0.64" ry="0.83" transform="rotate(25 40.12 29.36)"/><ellipse cx="31.58" cy="16.91" rx="0.99" ry="0.59" transform="rotate(-76 31.58 16.91)"/><ellipse cx="35.75" cy="26.24" rx="0.82" ry="0.61" transform="rotate(-23 35.75 26.24)"/><ellipse cx="22.7" cy="40.21" rx="0.79" ry="0.78" transform="rotate(11 22.7 40.21)"/><ellipse cx="44.38" cy="7.58" rx="1.04" ry="0.72" transform="rotate(10 44.38 7.58)"/><ellipse cx="10.01" cy="7.68" rx="0.89" ry="0.53" transform="rotate(37 10.01 7.68)"/><ellipse cx="3.93" cy="13.29" rx="0.82" ry="0.62" transform="rotate(9 3.93 13.29)"/><ellipse cx="10.43" cy="26.51" rx="0.79" ry="0.68" transform="rotate(51 10.43 26.51)"/><ellipse cx="31.54" cy="16.01" rx="0.6" ry="0.61" transform="rotate(49 31.54 16.01)"/><ellipse cx="25.88" cy="4.32" rx="0.91" ry="0.72" transform="rotate(-82 25.88 4.32)"/><ellipse cx="29.35" cy="38.55" rx="1.05" ry="0.84" transform="rotate(-32 29.35 38.55)"/><ellipse cx="43.39" cy="13.2" rx="0.99" ry="0.58" transform="rotate(-78 43.39 13.2)"/><ellipse cx="1.69" cy="32.7" rx="0.94" ry="0.54" transform="rotate(35 1.69 32.7)"/><ellipse cx="32.28" cy="10.39" rx="0.94" ry="0.64" transform="rotate(0 32.28 10.39)"/><ellipse cx="15.67" cy="37.83" rx="1.02" ry="0.52" transform="rotate(27 15.67 37.83)"/></g>
</svg>
<rect x="254.2" y="241.2" width="44.6" height="44.6" fill="none" stroke="#1a1020" stroke-width="1.2"/>
<text x="38.3" y="198.23" font-size="7.3" font-weight="bold" text-anchor="middle" fill="#222">High tumor</text>
<text x="38.3" y="206.53" font-size="7.3" font-weight="bold" text-anchor="middle" fill="#222">cellularity</text>
<text x="38.3" y="297.13" font-size="7.3" font-weight="bold" text-anchor="middle" fill="#222">High tumor</text>
<text x="38.3" y="305.33" font-size="7.3" font-weight="bold" text-anchor="middle" fill="#222">cellularity</text>
<text x="276.7" y="197.43" font-size="7.3" font-weight="bold" text-anchor="middle" fill="#222">Tumor</text>
<text x="276.7" y="205.83" font-size="7.3" font-weight="bold" text-anchor="middle" fill="#222">infiltration</text>
<text x="276.7" y="296.43" font-size="7.3" font-weight="bold" text-anchor="middle" fill="#222">Tumor</text>
<text x="276.7" y="304.73" font-size="7.3" font-weight="bold" text-anchor="middle" fill="#222">necrosis</text>
<text x="161" y="144.26" font-size="7.4" font-weight="bold" text-anchor="middle" fill="#222">Histologically identified voxels</text>
<text x="435.3" y="144.26" font-size="7.4" font-weight="bold" text-anchor="middle" fill="#222">DHI predictions</text>
<path d="M98.4 266L98.4 170M238.1 266.8L238.1 170.8M167.7 276.8L238.1 266.8M167.7 276.8L98.4 266M112.48 264L112.48 168M224.24 264.64L224.24 168.64M153.84 274.64L224.24 264.64M181.78 274.8L112.48 264M126.56 262L126.56 166M210.38 262.48L210.38 166.48M139.98 272.48L210.38 262.48M195.86 272.8L126.56 262M140.64 260L140.64 164M196.52 260.32L196.52 164.32M126.12 270.32L196.52 260.32M209.94 270.8L140.64 260M154.72 258L154.72 162M182.66 258.16L182.66 162.16M112.26 268.16L182.66 258.16M224.02 268.8L154.72 258M168.8 256L168.8 160M168.8 256L168.8 160M98.4 266L168.8 256M238.1 266.8L168.8 256M98.4 266L168.8 256M238.1 266.8L168.8 256M98.4 246.8L168.8 236.8M238.1 247.6L168.8 236.8M98.4 227.6L168.8 217.6M238.1 228.4L168.8 217.6M98.4 208.4L168.8 198.4M238.1 209.2L168.8 198.4M98.4 189.2L168.8 179.2M238.1 190L168.8 179.2M98.4 170L168.8 160M238.1 170.8L168.8 160" stroke="#c8c8c8" stroke-width="0.75" fill="none"/>
<path d="M98.4 266L98.4 170M98.4 266L167.7 276.8M167.7 276.8L238.1 266.8M98.4 266L96.2 266M98.4 246.8L96.2 246.8M98.4 227.6L96.2 227.6M98.4 208.4L96.2 208.4M98.4 189.2L96.2 189.2M98.4 170L96.2 170M167.7 276.8L168 279M167.7 276.8L167.4 279M153.84 274.64L154.14 276.84M181.78 274.8L181.48 277M139.98 272.48L140.28 274.68M195.86 272.8L195.56 275M126.12 270.32L126.42 272.52M209.94 270.8L209.64 273M112.26 268.16L112.56 270.36M224.02 268.8L223.72 271M98.4 266L98.7 268.2M238.1 266.8L237.8 269" stroke="#111" stroke-width="1.1" fill="none"/>
<text x="95.2" y="268.63" font-size="7.3" font-weight="bold" text-anchor="end" fill="#222">0</text>
<text x="95.2" y="249.43" font-size="7.3" font-weight="bold" text-anchor="end" fill="#222">0.1</text>
<text x="95.2" y="230.23" font-size="7.3" font-weight="bold" text-anchor="end" fill="#222">0.2</text>
<text x="95.2" y="211.03" font-size="7.3" font-weight="bold" text-anchor="end" fill="#222">0.3</text>
<text x="95.2" y="191.83" font-size="7.3" font-weight="bold" text-anchor="end" fill="#222">0.4</text>
<text x="95.2" y="172.63" font-size="7.3" font-weight="bold" text-anchor="end" fill="#222">0.5</text>
<text x="166.1" y="289.43" font-size="7.3" font-weight="bold" text-anchor="middle" fill="#222">0</text>
<text x="170.3" y="289.03" font-size="7.3" font-weight="bold" text-anchor="middle" fill="#222">0</text>
<text x="151.44" y="287.27" font-size="7.3" font-weight="bold" text-anchor="middle" fill="#222">0.2</text>
<text x="186.38" y="287.03" font-size="7.3" font-weight="bold" text-anchor="middle" fill="#222">0.2</text>
<text x="137.58" y="285.11" font-size="7.3" font-weight="bold" text-anchor="middle" fill="#222">0.4</text>
<text x="200.46" y="285.03" font-size="7.3" font-weight="bold" text-anchor="middle" fill="#222">0.4</text>
<text x="123.72" y="282.95" font-size="7.3" font-weight="bold" text-anchor="middle" fill="#222">0.6</text>
<text x="214.54" y="283.03" font-size="7.3" font-weight="bold" text-anchor="middle" fill="#222">0.6</text>
<text x="109.86" y="280.79" font-size="7.3" font-weight="bold" text-anchor="middle" fill="#222">0.8</text>
<text x="228.62" y="281.03" font-size="7.3" font-weight="bold" text-anchor="middle" fill="#222">0.8</text>
<text x="96" y="278.63" font-size="7.3" font-weight="bold" text-anchor="middle" fill="#222">1</text>
<text x="242.7" y="279.03" font-size="7.3" font-weight="bold" text-anchor="middle" fill="#222">1</text>
<text x="128.58" y="295.82" font-size="7.4" font-weight="bold" text-anchor="middle" fill="#222" transform="rotate(8.06 128.58 293.16)" textLength="62.5" lengthAdjust="spacingAndGlyphs">Restricted fraction</text>
<text x="211.14" y="294.76" font-size="7.4" font-weight="bold" text-anchor="middle" fill="#222" transform="rotate(-9.28 211.14 292.1)" textLength="59" lengthAdjust="spacingAndGlyphs">Hindered fraction</text>
<text x="76.6" y="221.59" font-size="7.2" font-weight="bold" text-anchor="middle" fill="#222" transform="rotate(-90 76.6 219)">Anisotropic fraction</text>
<g fill="#d01e26" stroke="#3a000a" stroke-width="0.6"><circle cx="145.53" cy="174.38" r="1.75"/><circle cx="148.63" cy="175.91" r="1.75"/><circle cx="150.37" cy="176.22" r="1.75"/><circle cx="141.1" cy="176.31" r="1.75"/><circle cx="143.97" cy="177.18" r="1.75"/><circle cx="144.96" cy="177.18" r="1.75"/><circle cx="148.72" cy="178.45" r="1.75"/><circle cx="146.9" cy="178.85" r="1.75"/><circle cx="142.1" cy="180.67" r="1.75"/><circle cx="143.79" cy="180.69" r="1.75"/><circle cx="139.34" cy="181.39" r="1.75"/><circle cx="144.9" cy="181.45" r="1.75"/><circle cx="138.41" cy="182.45" r="1.75"/><circle cx="141.96" cy="182.62" r="1.75"/><circle cx="149.51" cy="182.64" r="1.75"/><circle cx="136.21" cy="182.94" r="1.75"/><circle cx="138.61" cy="183.72" r="1.75"/><circle cx="147.8" cy="183.9" r="1.75"/><circle cx="147.21" cy="184" r="1.75"/><circle cx="151.02" cy="184.28" r="1.75"/><circle cx="142.57" cy="184.34" r="1.75"/><circle cx="136.36" cy="184.38" r="1.75"/><circle cx="134.76" cy="184.54" r="1.75"/><circle cx="141.21" cy="184.95" r="1.75"/><circle cx="143.65" cy="185.1" r="1.75"/><circle cx="134.05" cy="185.67" r="1.75"/><circle cx="146.01" cy="185.7" r="1.75"/><circle cx="136.83" cy="185.87" r="1.75"/><circle cx="143.86" cy="186.18" r="1.75"/><circle cx="138.59" cy="186.6" r="1.75"/><circle cx="150.93" cy="186.6" r="1.75"/><circle cx="143.89" cy="186.72" r="1.75"/><circle cx="148.39" cy="186.76" r="1.75"/><circle cx="147.11" cy="186.9" r="1.75"/><circle cx="149.4" cy="187.63" r="1.75"/><circle cx="135.27" cy="187.83" r="1.75"/><circle cx="138.6" cy="187.84" r="1.75"/><circle cx="140.61" cy="189.11" r="1.75"/><circle cx="133.36" cy="189.21" r="1.75"/><circle cx="133.48" cy="189.32" r="1.75"/><circle cx="152.01" cy="189.49" r="1.75"/><circle cx="148.3" cy="189.57" r="1.75"/><circle cx="139.69" cy="189.66" r="1.75"/><circle cx="152.76" cy="189.75" r="1.75"/><circle cx="144.43" cy="189.93" r="1.75"/><circle cx="137.64" cy="190.08" r="1.75"/><circle cx="151.96" cy="190.28" r="1.75"/><circle cx="142.5" cy="191.32" r="1.75"/><circle cx="135.9" cy="191.46" r="1.75"/><circle cx="146.9" cy="191.53" r="1.75"/><circle cx="135.73" cy="191.84" r="1.75"/><circle cx="145.05" cy="191.86" r="1.75"/><circle cx="146.87" cy="191.97" r="1.75"/><circle cx="151.66" cy="192.05" r="1.75"/><circle cx="137.09" cy="192.39" r="1.75"/><circle cx="148.66" cy="192.55" r="1.75"/><circle cx="139.7" cy="192.77" r="1.75"/><circle cx="149.25" cy="193.57" r="1.75"/><circle cx="136.57" cy="193.73" r="1.75"/><circle cx="153.01" cy="194.13" r="1.75"/><circle cx="132.67" cy="194.31" r="1.75"/><circle cx="143.6" cy="194.44" r="1.75"/><circle cx="150.45" cy="194.78" r="1.75"/><circle cx="154.48" cy="194.9" r="1.75"/><circle cx="144.63" cy="195.44" r="1.75"/><circle cx="144.87" cy="195.48" r="1.75"/><circle cx="147.98" cy="195.49" r="1.75"/><circle cx="137.41" cy="195.63" r="1.75"/><circle cx="139.21" cy="195.65" r="1.75"/><circle cx="134.9" cy="195.72" r="1.75"/><circle cx="141.51" cy="195.8" r="1.75"/><circle cx="130.45" cy="196.1" r="1.75"/><circle cx="145.59" cy="196.45" r="1.75"/><circle cx="138.21" cy="197.14" r="1.75"/><circle cx="151.99" cy="197.54" r="1.75"/><circle cx="149.29" cy="197.86" r="1.75"/><circle cx="138.07" cy="197.89" r="1.75"/><circle cx="143.73" cy="198.03" r="1.75"/><circle cx="136.14" cy="198.07" r="1.75"/><circle cx="132.2" cy="198.17" r="1.75"/><circle cx="139.72" cy="198.6" r="1.75"/><circle cx="132.31" cy="199.14" r="1.75"/><circle cx="130.68" cy="199.35" r="1.75"/><circle cx="146.16" cy="199.45" r="1.75"/><circle cx="146.77" cy="199.49" r="1.75"/><circle cx="134.78" cy="199.74" r="1.75"/><circle cx="138.92" cy="200.07" r="1.75"/><circle cx="133.47" cy="200.66" r="1.75"/><circle cx="137.11" cy="200.71" r="1.75"/><circle cx="132.14" cy="200.73" r="1.75"/><circle cx="145.18" cy="200.96" r="1.75"/><circle cx="142.76" cy="201.61" r="1.75"/><circle cx="148.3" cy="201.85" r="1.75"/><circle cx="129.54" cy="202" r="1.75"/><circle cx="136.66" cy="202.29" r="1.75"/><circle cx="147.73" cy="202.61" r="1.75"/><circle cx="137.28" cy="202.67" r="1.75"/><circle cx="139.5" cy="202.7" r="1.75"/><circle cx="132.64" cy="202.99" r="1.75"/><circle cx="142.22" cy="203.28" r="1.75"/><circle cx="143.19" cy="204.03" r="1.75"/><circle cx="146.5" cy="204.15" r="1.75"/><circle cx="144.11" cy="204.61" r="1.75"/><circle cx="133.26" cy="204.73" r="1.75"/><circle cx="129.27" cy="204.98" r="1.75"/><circle cx="139.7" cy="205.3" r="1.75"/><circle cx="128.75" cy="205.36" r="1.75"/><circle cx="132.46" cy="206.17" r="1.75"/><circle cx="142.95" cy="206.35" r="1.75"/><circle cx="146.59" cy="206.83" r="1.75"/><circle cx="137.28" cy="206.83" r="1.75"/><circle cx="136.77" cy="207.13" r="1.75"/><circle cx="132.05" cy="207.71" r="1.75"/><circle cx="135.22" cy="207.78" r="1.75"/><circle cx="146.57" cy="207.81" r="1.75"/><circle cx="139.34" cy="207.81" r="1.75"/><circle cx="144.28" cy="207.98" r="1.75"/><circle cx="137.37" cy="208.51" r="1.75"/><circle cx="133.5" cy="208.55" r="1.75"/><circle cx="141.39" cy="208.66" r="1.75"/><circle cx="129.13" cy="209.1" r="1.75"/><circle cx="138.37" cy="209.22" r="1.75"/><circle cx="144.03" cy="209.3" r="1.75"/><circle cx="126.35" cy="209.7" r="1.75"/><circle cx="131.55" cy="210.09" r="1.75"/><circle cx="128.61" cy="210.24" r="1.75"/><circle cx="134.1" cy="210.69" r="1.75"/><circle cx="129.87" cy="210.73" r="1.75"/><circle cx="143.35" cy="211.23" r="1.75"/><circle cx="136.91" cy="211.61" r="1.75"/><circle cx="133.81" cy="212.21" r="1.75"/><circle cx="125.82" cy="212.27" r="1.75"/><circle cx="132.05" cy="213.02" r="1.75"/><circle cx="127.58" cy="213.21" r="1.75"/><circle cx="141.6" cy="213.39" r="1.75"/><circle cx="135.21" cy="213.97" r="1.75"/><circle cx="137.86" cy="214.44" r="1.75"/><circle cx="125.64" cy="214.85" r="1.75"/><circle cx="140.14" cy="214.92" r="1.75"/><circle cx="145.08" cy="214.99" r="1.75"/><circle cx="141.71" cy="215.36" r="1.75"/><circle cx="131.72" cy="215.49" r="1.75"/><circle cx="127.57" cy="215.52" r="1.75"/><circle cx="129.36" cy="215.62" r="1.75"/><circle cx="135.42" cy="215.65" r="1.75"/><circle cx="133.91" cy="215.86" r="1.75"/><circle cx="139.91" cy="217.28" r="1.75"/><circle cx="138.38" cy="217.29" r="1.75"/><circle cx="136.06" cy="217.48" r="1.75"/><circle cx="138.05" cy="217.89" r="1.75"/><circle cx="134.91" cy="217.98" r="1.75"/><circle cx="128.03" cy="218.13" r="1.75"/><circle cx="132.01" cy="219.34" r="1.75"/><circle cx="127.68" cy="219.56" r="1.75"/><circle cx="136.68" cy="219.88" r="1.75"/><circle cx="137.43" cy="220.04" r="1.75"/><circle cx="133.66" cy="220.36" r="1.75"/><circle cx="131.08" cy="220.9" r="1.75"/><circle cx="126.75" cy="221.08" r="1.75"/><circle cx="140.88" cy="221.93" r="1.75"/><circle cx="125.82" cy="221.98" r="1.75"/><circle cx="132.95" cy="222.87" r="1.75"/><circle cx="129.55" cy="223.35" r="1.75"/><circle cx="132.34" cy="223.6" r="1.75"/><circle cx="126.83" cy="223.9" r="1.75"/><circle cx="138.72" cy="223.96" r="1.75"/><circle cx="129.21" cy="224.21" r="1.75"/><circle cx="137.77" cy="224.28" r="1.75"/><circle cx="140.65" cy="224.71" r="1.75"/><circle cx="136.77" cy="224.8" r="1.75"/><circle cx="132.64" cy="224.96" r="1.75"/><circle cx="123.04" cy="225.33" r="1.75"/><circle cx="136.06" cy="225.82" r="1.75"/><circle cx="124.29" cy="226.46" r="1.75"/><circle cx="125.89" cy="226.48" r="1.75"/><circle cx="135.49" cy="226.58" r="1.75"/><circle cx="126.15" cy="226.77" r="1.75"/><circle cx="130.42" cy="227.02" r="1.75"/><circle cx="138.05" cy="227.2" r="1.75"/><circle cx="130.31" cy="227.32" r="1.75"/><circle cx="125.13" cy="227.49" r="1.75"/><circle cx="133.48" cy="227.76" r="1.75"/><circle cx="140.92" cy="228.05" r="1.75"/><circle cx="130.54" cy="228.1" r="1.75"/><circle cx="121.38" cy="228.42" r="1.75"/><circle cx="124.27" cy="228.78" r="1.75"/><circle cx="122.84" cy="229.35" r="1.75"/><circle cx="135.32" cy="229.72" r="1.75"/><circle cx="139.22" cy="229.87" r="1.75"/><circle cx="129.38" cy="230" r="1.75"/><circle cx="133.36" cy="230.17" r="1.75"/><circle cx="132.69" cy="230.27" r="1.75"/><circle cx="124.77" cy="230.48" r="1.75"/><circle cx="139.56" cy="230.52" r="1.75"/><circle cx="127.99" cy="231.26" r="1.75"/><circle cx="125.77" cy="231.49" r="1.75"/><circle cx="141.38" cy="232.07" r="1.75"/><circle cx="120.92" cy="232.68" r="1.75"/><circle cx="133.71" cy="232.69" r="1.75"/><circle cx="132.96" cy="232.77" r="1.75"/><circle cx="140.98" cy="232.87" r="1.75"/><circle cx="137.75" cy="232.99" r="1.75"/><circle cx="122.62" cy="233.72" r="1.75"/><circle cx="140.27" cy="233.8" r="1.75"/><circle cx="129.8" cy="233.92" r="1.75"/><circle cx="127.24" cy="233.99" r="1.75"/><circle cx="135.46" cy="234.4" r="1.75"/><circle cx="136.54" cy="234.6" r="1.75"/><circle cx="125.56" cy="234.69" r="1.75"/><circle cx="121.17" cy="234.96" r="1.75"/><circle cx="125.76" cy="235.19" r="1.75"/><circle cx="133.04" cy="235.36" r="1.75"/><circle cx="135.68" cy="235.52" r="1.75"/><circle cx="129.35" cy="235.63" r="1.75"/><circle cx="139.25" cy="236.16" r="1.75"/><circle cx="126.61" cy="236.67" r="1.75"/><circle cx="139.13" cy="236.76" r="1.75"/><circle cx="131.54" cy="236.77" r="1.75"/><circle cx="126.93" cy="236.79" r="1.75"/><circle cx="134.42" cy="236.95" r="1.75"/><circle cx="126.71" cy="237.17" r="1.75"/><circle cx="120.61" cy="237.43" r="1.75"/><circle cx="124.15" cy="237.95" r="1.75"/><circle cx="136.49" cy="238.12" r="1.75"/><circle cx="131.23" cy="238.32" r="1.75"/><circle cx="123.66" cy="238.82" r="1.75"/><circle cx="138.82" cy="239.05" r="1.75"/><circle cx="135.88" cy="239.08" r="1.75"/><circle cx="120.3" cy="239.17" r="1.75"/><circle cx="144.72" cy="239.34" r="1.75"/><circle cx="130.73" cy="239.46" r="1.75"/><circle cx="122.53" cy="239.59" r="1.75"/><circle cx="149.83" cy="240.15" r="1.75"/><circle cx="130.47" cy="240.21" r="1.75"/><circle cx="145.68" cy="240.29" r="1.75"/><circle cx="127.54" cy="240.36" r="1.75"/><circle cx="141.54" cy="240.68" r="1.75"/><circle cx="124.9" cy="241.31" r="1.75"/><circle cx="136.88" cy="241.34" r="1.75"/><circle cx="151.99" cy="241.55" r="1.75"/><circle cx="133.56" cy="241.65" r="1.75"/><circle cx="151.19" cy="241.77" r="1.75"/><circle cx="131.68" cy="241.78" r="1.75"/><circle cx="152.74" cy="241.98" r="1.75"/><circle cx="138.83" cy="242" r="1.75"/><circle cx="127.29" cy="242.06" r="1.75"/><circle cx="121" cy="242.25" r="1.75"/><circle cx="144.05" cy="242.74" r="1.75"/><circle cx="139.32" cy="242.88" r="1.75"/><circle cx="147.67" cy="242.9" r="1.75"/><circle cx="133.4" cy="242.91" r="1.75"/><circle cx="128.44" cy="243.24" r="1.75"/><circle cx="144.38" cy="243.41" r="1.75"/><circle cx="139.16" cy="243.47" r="1.75"/><circle cx="123.87" cy="243.5" r="1.75"/><circle cx="142.57" cy="243.51" r="1.75"/><circle cx="154.05" cy="243.79" r="1.75"/><circle cx="144.17" cy="243.9" r="1.75"/><circle cx="149.08" cy="243.98" r="1.75"/><circle cx="131.96" cy="244.03" r="1.75"/><circle cx="125.58" cy="244.41" r="1.75"/><circle cx="125.45" cy="244.68" r="1.75"/><circle cx="133.09" cy="244.7" r="1.75"/><circle cx="148.23" cy="244.79" r="1.75"/><circle cx="124.43" cy="245.5" r="1.75"/><circle cx="123.1" cy="245.53" r="1.75"/><circle cx="149.42" cy="245.84" r="1.75"/><circle cx="156.81" cy="245.92" r="1.75"/><circle cx="141.92" cy="245.95" r="1.75"/><circle cx="138.07" cy="246" r="1.75"/><circle cx="151.92" cy="246.08" r="1.75"/><circle cx="121.77" cy="246.31" r="1.75"/><circle cx="151.78" cy="246.68" r="1.75"/><circle cx="129.33" cy="246.74" r="1.75"/><circle cx="137.28" cy="246.75" r="1.75"/><circle cx="133.24" cy="246.84" r="1.75"/><circle cx="123.95" cy="246.92" r="1.75"/><circle cx="141.29" cy="247.15" r="1.75"/><circle cx="157.01" cy="247.43" r="1.75"/><circle cx="147.45" cy="247.52" r="1.75"/><circle cx="146.1" cy="247.52" r="1.75"/><circle cx="134.87" cy="247.57" r="1.75"/><circle cx="143.19" cy="247.9" r="1.75"/><circle cx="155.87" cy="247.91" r="1.75"/><circle cx="137.9" cy="247.91" r="1.75"/><circle cx="130.35" cy="248.09" r="1.75"/><circle cx="146.82" cy="248.33" r="1.75"/><circle cx="150.6" cy="248.45" r="1.75"/><circle cx="133.61" cy="248.51" r="1.75"/><circle cx="157.29" cy="248.53" r="1.75"/><circle cx="139.03" cy="248.76" r="1.75"/><circle cx="129.68" cy="248.98" r="1.75"/><circle cx="126.28" cy="249.29" r="1.75"/><circle cx="152.82" cy="249.5" r="1.75"/><circle cx="120.42" cy="249.67" r="1.75"/><circle cx="125.5" cy="249.69" r="1.75"/><circle cx="147.34" cy="249.72" r="1.75"/><circle cx="144.73" cy="249.78" r="1.75"/><circle cx="123.13" cy="249.81" r="1.75"/><circle cx="131.53" cy="249.82" r="1.75"/><circle cx="154.03" cy="250.03" r="1.75"/><circle cx="123.9" cy="250.17" r="1.75"/><circle cx="132.89" cy="250.27" r="1.75"/><circle cx="134.37" cy="250.3" r="1.75"/><circle cx="145.95" cy="250.37" r="1.75"/><circle cx="155.32" cy="250.61" r="1.75"/><circle cx="158.72" cy="250.81" r="1.75"/><circle cx="143.47" cy="250.84" r="1.75"/><circle cx="119.13" cy="251.06" r="1.75"/><circle cx="133.12" cy="251.12" r="1.75"/><circle cx="153.75" cy="251.2" r="1.75"/><circle cx="150.99" cy="251.43" r="1.75"/><circle cx="121.15" cy="251.53" r="1.75"/><circle cx="119.8" cy="251.82" r="1.75"/><circle cx="125.44" cy="251.91" r="1.75"/><circle cx="136.83" cy="251.94" r="1.75"/><circle cx="128.89" cy="252" r="1.75"/><circle cx="139.73" cy="252.18" r="1.75"/><circle cx="130.06" cy="252.18" r="1.75"/><circle cx="139.44" cy="252.25" r="1.75"/><circle cx="125.29" cy="252.31" r="1.75"/><circle cx="153.23" cy="252.47" r="1.75"/><circle cx="158.03" cy="252.52" r="1.75"/><circle cx="152.96" cy="252.88" r="1.75"/><circle cx="155.57" cy="252.97" r="1.75"/><circle cx="131.64" cy="253.18" r="1.75"/><circle cx="135.17" cy="253.29" r="1.75"/><circle cx="147.82" cy="253.71" r="1.75"/><circle cx="144.61" cy="254.01" r="1.75"/><circle cx="135.24" cy="254.12" r="1.75"/><circle cx="140.15" cy="254.16" r="1.75"/><circle cx="142.14" cy="254.37" r="1.75"/><circle cx="147.83" cy="254.52" r="1.75"/><circle cx="125.18" cy="254.54" r="1.75"/><circle cx="155.35" cy="254.61" r="1.75"/><circle cx="131.08" cy="254.69" r="1.75"/><circle cx="157.5" cy="254.79" r="1.75"/><circle cx="148.89" cy="255.29" r="1.75"/><circle cx="132.72" cy="255.39" r="1.75"/><circle cx="150.99" cy="256.01" r="1.75"/><circle cx="154.16" cy="256.18" r="1.75"/><circle cx="133.08" cy="256.23" r="1.75"/><circle cx="143.22" cy="256.23" r="1.75"/><circle cx="128.63" cy="256.23" r="1.75"/><circle cx="143.56" cy="256.33" r="1.75"/><circle cx="137.88" cy="256.34" r="1.75"/><circle cx="159.65" cy="256.4" r="1.75"/><circle cx="143.04" cy="256.45" r="1.75"/><circle cx="141.1" cy="256.62" r="1.75"/><circle cx="126.35" cy="256.64" r="1.75"/><circle cx="129.38" cy="256.72" r="1.75"/><circle cx="156.88" cy="256.72" r="1.75"/><circle cx="146.63" cy="256.79" r="1.75"/><circle cx="123.71" cy="257.07" r="1.75"/><circle cx="140.27" cy="257.19" r="1.75"/><circle cx="160.06" cy="257.28" r="1.75"/><circle cx="130.71" cy="257.49" r="1.75"/><circle cx="152.68" cy="257.57" r="1.75"/><circle cx="150.04" cy="257.65" r="1.75"/><circle cx="145.44" cy="258.02" r="1.75"/><circle cx="155.52" cy="258.04" r="1.75"/></g>
<g fill="#262a90" stroke="#06062e" stroke-width="0.6"><circle cx="161.59" cy="247.75" r="1.75"/><circle cx="164.95" cy="249.22" r="1.75"/><circle cx="160.02" cy="249.67" r="1.75"/><circle cx="168.57" cy="250.13" r="1.75"/><circle cx="162.42" cy="250.39" r="1.75"/><circle cx="165.6" cy="250.43" r="1.75"/><circle cx="161.25" cy="250.87" r="1.75"/><circle cx="171.87" cy="251.38" r="1.75"/><circle cx="179.25" cy="251.78" r="1.75"/><circle cx="168.65" cy="251.91" r="1.75"/><circle cx="178.72" cy="251.93" r="1.75"/><circle cx="164.99" cy="252.54" r="1.75"/><circle cx="173.06" cy="252.75" r="1.75"/><circle cx="162.53" cy="253.14" r="1.75"/><circle cx="168.99" cy="253.45" r="1.75"/><circle cx="178.84" cy="254.87" r="1.75"/><circle cx="191.75" cy="255.03" r="1.75"/><circle cx="179.54" cy="255.03" r="1.75"/><circle cx="180.03" cy="255.04" r="1.75"/><circle cx="166.79" cy="255.11" r="1.75"/><circle cx="174.59" cy="255.33" r="1.75"/><circle cx="186.64" cy="255.39" r="1.75"/><circle cx="194.38" cy="255.51" r="1.75"/><circle cx="173.9" cy="255.6" r="1.75"/><circle cx="190.3" cy="255.62" r="1.75"/><circle cx="163.09" cy="255.75" r="1.75"/><circle cx="171.77" cy="255.85" r="1.75"/><circle cx="163.31" cy="256.04" r="1.75"/><circle cx="165.71" cy="256.72" r="1.75"/><circle cx="171.29" cy="256.84" r="1.75"/><circle cx="169.08" cy="256.88" r="1.75"/><circle cx="182.92" cy="256.99" r="1.75"/><circle cx="185.5" cy="257.29" r="1.75"/><circle cx="190.6" cy="257.32" r="1.75"/><circle cx="182.49" cy="257.71" r="1.75"/><circle cx="174.99" cy="257.82" r="1.75"/><circle cx="178.87" cy="257.83" r="1.75"/><circle cx="194.7" cy="258.05" r="1.75"/><circle cx="171.24" cy="258.08" r="1.75"/><circle cx="195.42" cy="258.17" r="1.75"/><circle cx="181.64" cy="258.21" r="1.75"/><circle cx="164.84" cy="258.62" r="1.75"/><circle cx="175.04" cy="258.75" r="1.75"/><circle cx="192.77" cy="258.76" r="1.75"/><circle cx="168.76" cy="259.29" r="1.75"/><circle cx="192.64" cy="259.62" r="1.75"/><circle cx="194.91" cy="259.82" r="1.75"/><circle cx="167.95" cy="259.96" r="1.75"/><circle cx="187.95" cy="260.07" r="1.75"/><circle cx="180.34" cy="260.45" r="1.75"/><circle cx="170.92" cy="260.54" r="1.75"/><circle cx="185.1" cy="260.54" r="1.75"/><circle cx="187.18" cy="260.55" r="1.75"/><circle cx="174.43" cy="260.58" r="1.75"/><circle cx="190.58" cy="260.91" r="1.75"/><circle cx="197.09" cy="261.07" r="1.75"/><circle cx="185.59" cy="261.22" r="1.75"/><circle cx="183.03" cy="261.24" r="1.75"/><circle cx="200.12" cy="261.6" r="1.75"/><circle cx="193.69" cy="262.01" r="1.75"/><circle cx="189.86" cy="262.21" r="1.75"/><circle cx="195.71" cy="262.39" r="1.75"/><circle cx="198.38" cy="262.48" r="1.75"/><circle cx="177.4" cy="262.78" r="1.75"/></g>
<g fill="#4cb43c" stroke="#0a300a" stroke-width="0.6"><circle cx="153.3" cy="203.02" r="1.75"/><circle cx="156.4" cy="203.24" r="1.75"/><circle cx="155.93" cy="205" r="1.75"/><circle cx="151.33" cy="205.33" r="1.75"/><circle cx="147.4" cy="205.52" r="1.75"/><circle cx="149.48" cy="206.24" r="1.75"/><circle cx="161.69" cy="206.29" r="1.75"/><circle cx="152.17" cy="207.06" r="1.75"/><circle cx="160.56" cy="207.27" r="1.75"/><circle cx="152.94" cy="207.3" r="1.75"/><circle cx="145.48" cy="207.82" r="1.75"/><circle cx="151.79" cy="208.06" r="1.75"/><circle cx="156.96" cy="208.74" r="1.75"/><circle cx="150.77" cy="208.76" r="1.75"/><circle cx="148.04" cy="209.02" r="1.75"/><circle cx="156.76" cy="209.12" r="1.75"/><circle cx="154.38" cy="209.41" r="1.75"/><circle cx="144.35" cy="209.55" r="1.75"/><circle cx="158.29" cy="209.65" r="1.75"/><circle cx="146.06" cy="209.95" r="1.75"/><circle cx="156.14" cy="210.77" r="1.75"/><circle cx="152.28" cy="211.3" r="1.75"/><circle cx="149.06" cy="212.03" r="1.75"/><circle cx="145.08" cy="212.23" r="1.75"/><circle cx="157.76" cy="212.26" r="1.75"/><circle cx="154.65" cy="212.43" r="1.75"/><circle cx="149.83" cy="212.81" r="1.75"/><circle cx="147.29" cy="213" r="1.75"/><circle cx="151.29" cy="213.3" r="1.75"/><circle cx="162.44" cy="214.84" r="1.75"/><circle cx="156.95" cy="214.93" r="1.75"/><circle cx="159.52" cy="215.11" r="1.75"/><circle cx="160.3" cy="215.19" r="1.75"/><circle cx="145.67" cy="215.37" r="1.75"/><circle cx="161.56" cy="215.58" r="1.75"/><circle cx="148.46" cy="216.34" r="1.75"/><circle cx="142.25" cy="216.45" r="1.75"/><circle cx="152.93" cy="216.59" r="1.75"/><circle cx="154.16" cy="217" r="1.75"/><circle cx="151.71" cy="217.22" r="1.75"/><circle cx="162.95" cy="217.5" r="1.75"/><circle cx="157.29" cy="217.78" r="1.75"/><circle cx="144.2" cy="219.28" r="1.75"/><circle cx="154.32" cy="219.38" r="1.75"/><circle cx="148.18" cy="219.55" r="1.75"/><circle cx="142.2" cy="219.61" r="1.75"/><circle cx="159.91" cy="219.77" r="1.75"/><circle cx="151.43" cy="219.81" r="1.75"/><circle cx="146.2" cy="219.89" r="1.75"/><circle cx="162.41" cy="219.95" r="1.75"/><circle cx="150.96" cy="219.96" r="1.75"/><circle cx="149.77" cy="220.74" r="1.75"/><circle cx="155.24" cy="220.74" r="1.75"/><circle cx="159.79" cy="221.12" r="1.75"/><circle cx="142.37" cy="221.59" r="1.75"/><circle cx="157.74" cy="221.98" r="1.75"/><circle cx="152.39" cy="222.22" r="1.75"/><circle cx="166.33" cy="222.24" r="1.75"/><circle cx="157.54" cy="222.43" r="1.75"/><circle cx="156.31" cy="222.57" r="1.75"/><circle cx="146.89" cy="223.29" r="1.75"/><circle cx="168.32" cy="223.56" r="1.75"/><circle cx="165.4" cy="223.57" r="1.75"/><circle cx="161.76" cy="223.76" r="1.75"/><circle cx="143.1" cy="223.77" r="1.75"/><circle cx="151.05" cy="224.02" r="1.75"/><circle cx="147.36" cy="224.38" r="1.75"/><circle cx="145.49" cy="224.39" r="1.75"/><circle cx="166.67" cy="224.56" r="1.75"/><circle cx="158.37" cy="225.27" r="1.75"/><circle cx="164.59" cy="225.36" r="1.75"/><circle cx="166.66" cy="225.38" r="1.75"/><circle cx="142.77" cy="225.81" r="1.75"/><circle cx="150.62" cy="225.83" r="1.75"/><circle cx="163.21" cy="225.92" r="1.75"/><circle cx="158.39" cy="225.94" r="1.75"/><circle cx="139.37" cy="226.55" r="1.75"/><circle cx="155.08" cy="226.65" r="1.75"/><circle cx="162.46" cy="226.9" r="1.75"/><circle cx="153.47" cy="227.03" r="1.75"/><circle cx="147.3" cy="227.06" r="1.75"/><circle cx="168.61" cy="227.16" r="1.75"/><circle cx="165.61" cy="227.47" r="1.75"/><circle cx="151.28" cy="227.6" r="1.75"/><circle cx="151.5" cy="227.83" r="1.75"/><circle cx="170.75" cy="228.01" r="1.75"/><circle cx="143.62" cy="228.43" r="1.75"/><circle cx="148.52" cy="228.68" r="1.75"/><circle cx="156.92" cy="229.52" r="1.75"/><circle cx="171.07" cy="229.66" r="1.75"/><circle cx="145.71" cy="229.7" r="1.75"/><circle cx="162.53" cy="229.75" r="1.75"/><circle cx="164.29" cy="229.87" r="1.75"/><circle cx="166.68" cy="229.9" r="1.75"/><circle cx="148.5" cy="230.34" r="1.75"/><circle cx="158.72" cy="230.65" r="1.75"/><circle cx="150.17" cy="230.73" r="1.75"/><circle cx="156.39" cy="230.96" r="1.75"/><circle cx="154.24" cy="231.25" r="1.75"/><circle cx="142.21" cy="231.38" r="1.75"/><circle cx="161.66" cy="231.53" r="1.75"/><circle cx="172.46" cy="231.9" r="1.75"/><circle cx="152.77" cy="231.92" r="1.75"/><circle cx="172.25" cy="232" r="1.75"/><circle cx="165.2" cy="232.39" r="1.75"/><circle cx="146.43" cy="233.22" r="1.75"/><circle cx="165.98" cy="233.25" r="1.75"/><circle cx="157.16" cy="233.41" r="1.75"/><circle cx="161.55" cy="233.42" r="1.75"/><circle cx="168.53" cy="233.68" r="1.75"/><circle cx="144.82" cy="234.03" r="1.75"/><circle cx="142.93" cy="234.12" r="1.75"/><circle cx="157.36" cy="234.17" r="1.75"/><circle cx="148.8" cy="234.48" r="1.75"/><circle cx="160.82" cy="234.52" r="1.75"/><circle cx="166.59" cy="234.53" r="1.75"/><circle cx="168.29" cy="235.47" r="1.75"/><circle cx="141.42" cy="235.67" r="1.75"/><circle cx="140.54" cy="235.67" r="1.75"/><circle cx="156.75" cy="235.74" r="1.75"/><circle cx="140.57" cy="236.25" r="1.75"/><circle cx="161.47" cy="236.3" r="1.75"/><circle cx="164.13" cy="236.34" r="1.75"/><circle cx="149.09" cy="236.36" r="1.75"/><circle cx="173" cy="236.38" r="1.75"/><circle cx="154.74" cy="236.49" r="1.75"/><circle cx="170.29" cy="236.6" r="1.75"/><circle cx="142.67" cy="236.61" r="1.75"/><circle cx="146.73" cy="236.75" r="1.75"/><circle cx="148.26" cy="236.78" r="1.75"/><circle cx="149.78" cy="236.81" r="1.75"/><circle cx="161.34" cy="236.83" r="1.75"/><circle cx="153.21" cy="237.26" r="1.75"/><circle cx="159.04" cy="237.35" r="1.75"/><circle cx="154.46" cy="237.67" r="1.75"/><circle cx="148.65" cy="237.74" r="1.75"/><circle cx="169.78" cy="237.79" r="1.75"/><circle cx="175.39" cy="238.59" r="1.75"/><circle cx="171.98" cy="238.72" r="1.75"/><circle cx="172.06" cy="239.27" r="1.75"/><circle cx="168.15" cy="239.32" r="1.75"/><circle cx="161.13" cy="239.61" r="1.75"/><circle cx="149.58" cy="239.61" r="1.75"/><circle cx="155.47" cy="239.73" r="1.75"/><circle cx="149.96" cy="239.92" r="1.75"/><circle cx="166.4" cy="240.13" r="1.75"/><circle cx="177.5" cy="240.39" r="1.75"/><circle cx="144.41" cy="240.67" r="1.75"/><circle cx="142.82" cy="241.14" r="1.75"/><circle cx="168.2" cy="241.14" r="1.75"/><circle cx="168.79" cy="241.16" r="1.75"/><circle cx="155.03" cy="241.2" r="1.75"/><circle cx="161.14" cy="241.55" r="1.75"/><circle cx="174.5" cy="241.74" r="1.75"/><circle cx="178.97" cy="241.93" r="1.75"/><circle cx="151.44" cy="242.12" r="1.75"/><circle cx="154.26" cy="242.16" r="1.75"/><circle cx="140.3" cy="242.2" r="1.75"/><circle cx="176.72" cy="242.25" r="1.75"/><circle cx="172.55" cy="242.48" r="1.75"/><circle cx="176.11" cy="242.56" r="1.75"/><circle cx="144.56" cy="242.76" r="1.75"/><circle cx="159.93" cy="242.78" r="1.75"/><circle cx="163.31" cy="243.15" r="1.75"/><circle cx="139.26" cy="243.26" r="1.75"/><circle cx="139.62" cy="243.58" r="1.75"/><circle cx="155.02" cy="243.61" r="1.75"/><circle cx="147.61" cy="243.83" r="1.75"/><circle cx="162.12" cy="243.85" r="1.75"/><circle cx="175.51" cy="243.87" r="1.75"/><circle cx="155.06" cy="243.87" r="1.75"/><circle cx="168.27" cy="244" r="1.75"/><circle cx="168.52" cy="244.17" r="1.75"/><circle cx="172.55" cy="244.24" r="1.75"/><circle cx="151.46" cy="244.38" r="1.75"/><circle cx="156.64" cy="244.61" r="1.75"/><circle cx="164.52" cy="245.13" r="1.75"/><circle cx="149.49" cy="245.37" r="1.75"/><circle cx="146.29" cy="245.45" r="1.75"/><circle cx="141.6" cy="245.82" r="1.75"/><circle cx="142.53" cy="246.02" r="1.75"/><circle cx="175.96" cy="246.07" r="1.75"/><circle cx="143.45" cy="246.45" r="1.75"/><circle cx="177.69" cy="246.73" r="1.75"/><circle cx="171.08" cy="246.78" r="1.75"/><circle cx="147.57" cy="246.93" r="1.75"/><circle cx="172.45" cy="247.25" r="1.75"/><circle cx="179.91" cy="247.47" r="1.75"/><circle cx="166.54" cy="247.86" r="1.75"/><circle cx="142.11" cy="248.29" r="1.75"/><circle cx="151.16" cy="248.38" r="1.75"/><circle cx="150.28" cy="248.43" r="1.75"/><circle cx="145.76" cy="248.5" r="1.75"/><circle cx="181.98" cy="248.61" r="1.75"/><circle cx="182.83" cy="248.61" r="1.75"/><circle cx="150.05" cy="248.68" r="1.75"/><circle cx="179.34" cy="248.75" r="1.75"/><circle cx="168.53" cy="249.07" r="1.75"/><circle cx="176.91" cy="249.44" r="1.75"/><circle cx="187.45" cy="249.5" r="1.75"/><circle cx="172.52" cy="249.5" r="1.75"/><circle cx="152.19" cy="249.59" r="1.75"/><circle cx="180.73" cy="249.77" r="1.75"/><circle cx="144.36" cy="249.93" r="1.75"/><circle cx="171.58" cy="251.03" r="1.75"/><circle cx="141.37" cy="251.22" r="1.75"/><circle cx="187.55" cy="251.48" r="1.75"/><circle cx="186.27" cy="251.65" r="1.75"/><circle cx="143.09" cy="252.18" r="1.75"/><circle cx="186.49" cy="252.56" r="1.75"/><circle cx="144.75" cy="252.83" r="1.75"/><circle cx="184.31" cy="252.93" r="1.75"/><circle cx="178.32" cy="252.98" r="1.75"/><circle cx="175.02" cy="253.66" r="1.75"/><circle cx="182.22" cy="253.74" r="1.75"/><circle cx="139.39" cy="253.76" r="1.75"/><circle cx="186.29" cy="253.77" r="1.75"/><circle cx="188.94" cy="254.13" r="1.75"/><circle cx="189.1" cy="254.25" r="1.75"/><circle cx="182.48" cy="255.28" r="1.75"/><circle cx="179.14" cy="255.4" r="1.75"/><circle cx="182.38" cy="255.82" r="1.75"/><circle cx="187.93" cy="256.9" r="1.75"/><circle cx="187.54" cy="259.45" r="1.75"/></g>
<g fill="#d01e26" stroke="#3a000a" stroke-width="0.6"><circle cx="160.1" cy="245.75" r="1.75"/><circle cx="155.11" cy="240.01" r="1.75"/><circle cx="151.79" cy="242.9" r="1.75"/><circle cx="150.77" cy="249.83" r="1.75"/><circle cx="148.01" cy="253.97" r="1.75"/><circle cx="155.33" cy="257.26" r="1.75"/><circle cx="142.09" cy="249.39" r="1.75"/><circle cx="155.45" cy="246.45" r="1.75"/><circle cx="144.25" cy="244.7" r="1.75"/><circle cx="152.14" cy="257.73" r="1.75"/><circle cx="154.97" cy="252.14" r="1.75"/><circle cx="142.53" cy="257.08" r="1.75"/><circle cx="158.59" cy="251.5" r="1.75"/><circle cx="147.05" cy="259.04" r="1.75"/><circle cx="153.83" cy="258.7" r="1.75"/><circle cx="153.7" cy="251.73" r="1.75"/><circle cx="148.59" cy="260.05" r="1.75"/><circle cx="160.59" cy="255.3" r="1.75"/><circle cx="146.32" cy="243.17" r="1.75"/><circle cx="142.98" cy="257.05" r="1.75"/><circle cx="143.48" cy="257.04" r="1.75"/><circle cx="159.2" cy="260.5" r="1.75"/><circle cx="144.17" cy="256.44" r="1.75"/><circle cx="157.91" cy="260.49" r="1.75"/><circle cx="152.32" cy="247.52" r="1.75"/><circle cx="161.39" cy="252.44" r="1.75"/><circle cx="151.52" cy="238.85" r="1.75"/><circle cx="161.34" cy="255.15" r="1.75"/><circle cx="144.75" cy="253.69" r="1.75"/><circle cx="147.64" cy="247.92" r="1.75"/><circle cx="151.99" cy="254.23" r="1.75"/><circle cx="157.34" cy="257.37" r="1.75"/><circle cx="161.77" cy="254.95" r="1.75"/><circle cx="147.19" cy="255.62" r="1.75"/><circle cx="157.85" cy="240.46" r="1.75"/><circle cx="142.02" cy="258.77" r="1.75"/><circle cx="145.49" cy="257.83" r="1.75"/><circle cx="153.32" cy="239.48" r="1.75"/><circle cx="143.39" cy="257.36" r="1.75"/><circle cx="155.41" cy="243.76" r="1.75"/></g>
<g fill="#262a90" stroke="#06062e" stroke-width="0.6"><circle cx="189.71" cy="263.16" r="1.75"/><circle cx="194.85" cy="263.87" r="1.75"/><circle cx="184.77" cy="264.68" r="1.75"/><circle cx="190.68" cy="265.17" r="1.75"/><circle cx="187.31" cy="265.29" r="1.75"/><circle cx="191.63" cy="265.63" r="1.75"/><circle cx="186.11" cy="266.29" r="1.75"/><circle cx="186.91" cy="268.04" r="1.75"/><circle cx="190.42" cy="268.24" r="1.75"/></g>
<g fill="#8a9a8a" stroke="#2a3a2a" stroke-width="0.6"><circle cx="169.7" cy="205.8" r="1.75"/></g>
<g fill="#d01e26" stroke="#3a000a" stroke-width="0.6"><circle cx="170.2" cy="223.5" r="1.75"/><circle cx="172.2" cy="226.3" r="1.75"/><circle cx="178" cy="235" r="1.75"/><circle cx="178.7" cy="236.8" r="1.75"/><circle cx="200.7" cy="260.8" r="1.75"/><circle cx="153.7" cy="262.8" r="1.75"/><circle cx="149.7" cy="263.8" r="1.75"/></g>
<g fill="#262a90" stroke="#06062e" stroke-width="0.6"><circle cx="191.5" cy="269.6" r="1.75"/></g>
<path d="M367.6 266.1L367.6 170.1M503.8 266.5L503.8 170.5M435.8 276.4L503.8 266.5M435.8 276.4L367.6 266.1M381.2 264.12L381.2 168.12M490.16 264.44L490.16 168.44M422.16 274.34L490.16 264.44M449.4 274.42L381.2 264.12M394.8 262.14L394.8 166.14M476.52 262.38L476.52 166.38M408.52 272.28L476.52 262.38M463 272.44L394.8 262.14M408.4 260.16L408.4 164.16M462.88 260.32L462.88 164.32M394.88 270.22L462.88 260.32M476.6 270.46L408.4 260.16M422 258.18L422 162.18M449.24 258.26L449.24 162.26M381.24 268.16L449.24 258.26M490.2 268.48L422 258.18M435.6 256.2L435.6 160.2M435.6 256.2L435.6 160.2M367.6 266.1L435.6 256.2M503.8 266.5L435.6 256.2M367.6 266.1L435.6 256.2M503.8 266.5L435.6 256.2M367.6 246.9L435.6 237M503.8 247.3L435.6 237M367.6 227.7L435.6 217.8M503.8 228.1L435.6 217.8M367.6 208.5L435.6 198.6M503.8 208.9L435.6 198.6M367.6 189.3L435.6 179.4M503.8 189.7L435.6 179.4M367.6 170.1L435.6 160.2M503.8 170.5L435.6 160.2" stroke="#c8c8c8" stroke-width="0.75" fill="none"/>
<path d="M367.6 266.1L367.6 170.1M367.6 266.1L435.8 276.4M435.8 276.4L503.8 266.5M367.6 266.1L365.4 266.1M367.6 246.9L365.4 246.9M367.6 227.7L365.4 227.7M367.6 208.5L365.4 208.5M367.6 189.3L365.4 189.3M367.6 170.1L365.4 170.1M435.8 276.4L436.1 278.6M435.8 276.4L435.5 278.6M422.16 274.34L422.46 276.54M449.4 274.42L449.1 276.62M408.52 272.28L408.82 274.48M463 272.44L462.7 274.64M394.88 270.22L395.18 272.42M476.6 270.46L476.3 272.66M381.24 268.16L381.54 270.36M490.2 268.48L489.9 270.68M367.6 266.1L367.9 268.3M503.8 266.5L503.5 268.7" stroke="#111" stroke-width="1.1" fill="none"/>
<text x="364.4" y="268.73" font-size="7.3" font-weight="bold" text-anchor="end" fill="#222">0</text>
<text x="364.4" y="249.53" font-size="7.3" font-weight="bold" text-anchor="end" fill="#222">0.1</text>
<text x="364.4" y="230.33" font-size="7.3" font-weight="bold" text-anchor="end" fill="#222">0.2</text>
<text x="364.4" y="211.13" font-size="7.3" font-weight="bold" text-anchor="end" fill="#222">0.3</text>
<text x="364.4" y="191.93" font-size="7.3" font-weight="bold" text-anchor="end" fill="#222">0.4</text>
<text x="364.4" y="172.73" font-size="7.3" font-weight="bold" text-anchor="end" fill="#222">0.5</text>
<text x="434.2" y="289.03" font-size="7.3" font-weight="bold" text-anchor="middle" fill="#222">0</text>
<text x="438.4" y="288.63" font-size="7.3" font-weight="bold" text-anchor="middle" fill="#222">0</text>
<text x="419.76" y="286.97" font-size="7.3" font-weight="bold" text-anchor="middle" fill="#222">0.2</text>
<text x="454" y="286.65" font-size="7.3" font-weight="bold" text-anchor="middle" fill="#222">0.2</text>
<text x="406.12" y="284.91" font-size="7.3" font-weight="bold" text-anchor="middle" fill="#222">0.4</text>
<text x="467.6" y="284.67" font-size="7.3" font-weight="bold" text-anchor="middle" fill="#222">0.4</text>
<text x="392.48" y="282.85" font-size="7.3" font-weight="bold" text-anchor="middle" fill="#222">0.6</text>
<text x="481.2" y="282.69" font-size="7.3" font-weight="bold" text-anchor="middle" fill="#222">0.6</text>
<text x="378.84" y="280.79" font-size="7.3" font-weight="bold" text-anchor="middle" fill="#222">0.8</text>
<text x="494.8" y="280.71" font-size="7.3" font-weight="bold" text-anchor="middle" fill="#222">0.8</text>
<text x="365.2" y="278.73" font-size="7.3" font-weight="bold" text-anchor="middle" fill="#222">1</text>
<text x="508.4" y="278.73" font-size="7.3" font-weight="bold" text-anchor="middle" fill="#222">1</text>
<text x="397.29" y="295.7" font-size="7.4" font-weight="bold" text-anchor="middle" fill="#222" transform="rotate(7.79 397.29 293.03)" textLength="62.5" lengthAdjust="spacingAndGlyphs">Restricted fraction</text>
<text x="477.8" y="294.42" font-size="7.4" font-weight="bold" text-anchor="middle" fill="#222" transform="rotate(-9.48 477.8 291.76)" textLength="59" lengthAdjust="spacingAndGlyphs">Hindered fraction</text>
<text x="344.2" y="226.59" font-size="7.2" font-weight="bold" text-anchor="middle" fill="#222" transform="rotate(-90 344.2 224)">Anisotropic fraction</text>
<g fill="#d01e26" stroke="#3a000a" stroke-width="0.6"><circle cx="413.21" cy="177.05" r="1.75"/><circle cx="413.13" cy="178.37" r="1.75"/><circle cx="409.77" cy="179.02" r="1.75"/><circle cx="417.4" cy="179.69" r="1.75"/><circle cx="415.94" cy="180.22" r="1.75"/><circle cx="414.06" cy="180.3" r="1.75"/><circle cx="413.6" cy="180.41" r="1.75"/><circle cx="411.31" cy="180.75" r="1.75"/><circle cx="411.29" cy="181.78" r="1.75"/><circle cx="412.12" cy="182.59" r="1.75"/><circle cx="420.06" cy="182.77" r="1.75"/><circle cx="407.78" cy="182.84" r="1.75"/><circle cx="417.53" cy="182.92" r="1.75"/><circle cx="416.55" cy="183.69" r="1.75"/><circle cx="409.32" cy="184.1" r="1.75"/><circle cx="413.33" cy="184.92" r="1.75"/><circle cx="415.55" cy="185.02" r="1.75"/><circle cx="418.57" cy="185.28" r="1.75"/><circle cx="418.5" cy="185.29" r="1.75"/><circle cx="413.62" cy="185.61" r="1.75"/><circle cx="409.75" cy="185.63" r="1.75"/><circle cx="405.76" cy="185.78" r="1.75"/><circle cx="417.59" cy="186.83" r="1.75"/><circle cx="412.45" cy="187.19" r="1.75"/><circle cx="421.38" cy="187.2" r="1.75"/><circle cx="421.56" cy="187.35" r="1.75"/><circle cx="406.74" cy="187.4" r="1.75"/><circle cx="418.69" cy="187.43" r="1.75"/><circle cx="409.59" cy="187.83" r="1.75"/><circle cx="417.43" cy="188.16" r="1.75"/><circle cx="406.15" cy="188.79" r="1.75"/><circle cx="414.44" cy="189" r="1.75"/><circle cx="411.27" cy="189.05" r="1.75"/><circle cx="418.21" cy="189.17" r="1.75"/><circle cx="420.64" cy="190.22" r="1.75"/><circle cx="407.61" cy="190.47" r="1.75"/><circle cx="412.97" cy="190.48" r="1.75"/><circle cx="406.21" cy="190.49" r="1.75"/><circle cx="414.44" cy="191.03" r="1.75"/><circle cx="406.62" cy="191.58" r="1.75"/><circle cx="422.98" cy="191.78" r="1.75"/><circle cx="407.49" cy="192.1" r="1.75"/><circle cx="422.93" cy="192.52" r="1.75"/><circle cx="411.2" cy="192.64" r="1.75"/><circle cx="412.37" cy="193.36" r="1.75"/><circle cx="418.44" cy="193.38" r="1.75"/><circle cx="415.79" cy="193.38" r="1.75"/><circle cx="413.61" cy="193.52" r="1.75"/><circle cx="410.1" cy="193.8" r="1.75"/><circle cx="417.32" cy="193.89" r="1.75"/><circle cx="421.56" cy="193.96" r="1.75"/><circle cx="406.75" cy="193.98" r="1.75"/><circle cx="402.45" cy="194.77" r="1.75"/><circle cx="404.65" cy="195.11" r="1.75"/><circle cx="419.3" cy="195.76" r="1.75"/><circle cx="416.11" cy="195.94" r="1.75"/><circle cx="408.49" cy="196.01" r="1.75"/><circle cx="412.36" cy="196.04" r="1.75"/><circle cx="418.5" cy="196.36" r="1.75"/><circle cx="410.62" cy="196.77" r="1.75"/><circle cx="404.11" cy="196.86" r="1.75"/><circle cx="420.3" cy="197.01" r="1.75"/><circle cx="414.12" cy="197.09" r="1.75"/><circle cx="415.14" cy="197.77" r="1.75"/><circle cx="410.09" cy="197.85" r="1.75"/><circle cx="405.83" cy="197.89" r="1.75"/><circle cx="418.67" cy="198" r="1.75"/><circle cx="413.19" cy="198.41" r="1.75"/><circle cx="399.73" cy="199.03" r="1.75"/><circle cx="401.1" cy="199.21" r="1.75"/><circle cx="400.09" cy="199.8" r="1.75"/><circle cx="407.01" cy="200.06" r="1.75"/><circle cx="404.95" cy="200.16" r="1.75"/><circle cx="415.61" cy="200.16" r="1.75"/><circle cx="416.08" cy="200.32" r="1.75"/><circle cx="407.35" cy="201.17" r="1.75"/><circle cx="404.9" cy="201.44" r="1.75"/><circle cx="400.34" cy="201.57" r="1.75"/><circle cx="412.39" cy="201.76" r="1.75"/><circle cx="404.82" cy="201.78" r="1.75"/><circle cx="415.02" cy="202" r="1.75"/><circle cx="412.53" cy="202.09" r="1.75"/><circle cx="401.69" cy="202.51" r="1.75"/><circle cx="415.97" cy="203.1" r="1.75"/><circle cx="405.6" cy="203.18" r="1.75"/><circle cx="411.35" cy="204.05" r="1.75"/><circle cx="400.22" cy="204.6" r="1.75"/><circle cx="400.17" cy="204.61" r="1.75"/><circle cx="404.04" cy="204.68" r="1.75"/><circle cx="408.58" cy="204.9" r="1.75"/><circle cx="407.29" cy="204.93" r="1.75"/><circle cx="407.68" cy="204.97" r="1.75"/><circle cx="409.9" cy="205.3" r="1.75"/><circle cx="414.63" cy="205.44" r="1.75"/><circle cx="402.95" cy="206.54" r="1.75"/><circle cx="399.96" cy="206.64" r="1.75"/><circle cx="411.08" cy="206.85" r="1.75"/><circle cx="411.39" cy="207.3" r="1.75"/><circle cx="406.44" cy="207.82" r="1.75"/><circle cx="413.72" cy="207.84" r="1.75"/><circle cx="406.8" cy="208.09" r="1.75"/><circle cx="400.42" cy="208.57" r="1.75"/><circle cx="399.09" cy="208.8" r="1.75"/><circle cx="406.92" cy="209.51" r="1.75"/><circle cx="408.97" cy="210.55" r="1.75"/><circle cx="410.02" cy="210.55" r="1.75"/><circle cx="407.4" cy="210.8" r="1.75"/><circle cx="402.35" cy="210.95" r="1.75"/><circle cx="404.21" cy="211.39" r="1.75"/><circle cx="411.4" cy="211.83" r="1.75"/><circle cx="403.51" cy="212.65" r="1.75"/><circle cx="397.64" cy="212.85" r="1.75"/><circle cx="398.85" cy="213.25" r="1.75"/><circle cx="412.46" cy="213.38" r="1.75"/><circle cx="399.13" cy="213.92" r="1.75"/><circle cx="406.37" cy="214.77" r="1.75"/><circle cx="407.73" cy="215.02" r="1.75"/><circle cx="410.65" cy="215.2" r="1.75"/><circle cx="402.85" cy="215.43" r="1.75"/><circle cx="400.62" cy="215.69" r="1.75"/><circle cx="406.08" cy="215.81" r="1.75"/><circle cx="397.81" cy="216.56" r="1.75"/><circle cx="403.14" cy="216.56" r="1.75"/><circle cx="406.36" cy="216.69" r="1.75"/><circle cx="398.99" cy="216.9" r="1.75"/><circle cx="411.58" cy="216.98" r="1.75"/><circle cx="411.15" cy="217.26" r="1.75"/><circle cx="405" cy="218.37" r="1.75"/><circle cx="395.13" cy="218.96" r="1.75"/><circle cx="395.77" cy="219.23" r="1.75"/><circle cx="400.56" cy="219.52" r="1.75"/><circle cx="404.12" cy="219.56" r="1.75"/><circle cx="408.65" cy="219.58" r="1.75"/><circle cx="400.02" cy="220.01" r="1.75"/><circle cx="409.35" cy="220.04" r="1.75"/><circle cx="396.8" cy="220.42" r="1.75"/><circle cx="405.02" cy="220.92" r="1.75"/><circle cx="399.21" cy="221.43" r="1.75"/><circle cx="407.27" cy="221.45" r="1.75"/><circle cx="403.96" cy="221.54" r="1.75"/><circle cx="397.58" cy="221.73" r="1.75"/><circle cx="395.82" cy="221.75" r="1.75"/><circle cx="410.93" cy="222.19" r="1.75"/><circle cx="392.44" cy="222.25" r="1.75"/><circle cx="409.17" cy="222.25" r="1.75"/><circle cx="394.72" cy="222.56" r="1.75"/><circle cx="397.55" cy="222.57" r="1.75"/><circle cx="401.19" cy="222.58" r="1.75"/><circle cx="402.95" cy="222.82" r="1.75"/><circle cx="391.97" cy="222.89" r="1.75"/><circle cx="400.48" cy="224.11" r="1.75"/><circle cx="407.48" cy="224.29" r="1.75"/><circle cx="402.47" cy="224.44" r="1.75"/><circle cx="397.29" cy="224.5" r="1.75"/><circle cx="395.31" cy="225.09" r="1.75"/><circle cx="407.75" cy="225.59" r="1.75"/><circle cx="393.19" cy="225.73" r="1.75"/><circle cx="407.91" cy="226.11" r="1.75"/><circle cx="404.65" cy="226.33" r="1.75"/><circle cx="391.61" cy="227.11" r="1.75"/><circle cx="401.72" cy="227.46" r="1.75"/><circle cx="394.84" cy="227.97" r="1.75"/><circle cx="394.95" cy="228.02" r="1.75"/><circle cx="402.09" cy="228.22" r="1.75"/><circle cx="397.86" cy="228.25" r="1.75"/><circle cx="404.12" cy="228.43" r="1.75"/><circle cx="405.42" cy="228.53" r="1.75"/><circle cx="403.6" cy="228.77" r="1.75"/><circle cx="410.14" cy="228.96" r="1.75"/><circle cx="391.02" cy="229.53" r="1.75"/><circle cx="396.32" cy="229.71" r="1.75"/><circle cx="396.57" cy="229.74" r="1.75"/><circle cx="408.24" cy="230.07" r="1.75"/><circle cx="399.82" cy="230.13" r="1.75"/><circle cx="410.25" cy="230.39" r="1.75"/><circle cx="394.76" cy="230.39" r="1.75"/><circle cx="391.8" cy="230.59" r="1.75"/><circle cx="393.13" cy="230.8" r="1.75"/><circle cx="405.2" cy="230.83" r="1.75"/><circle cx="397.65" cy="231.01" r="1.75"/><circle cx="408.84" cy="231.13" r="1.75"/><circle cx="392.37" cy="232.52" r="1.75"/><circle cx="407.3" cy="232.59" r="1.75"/><circle cx="406.72" cy="232.67" r="1.75"/><circle cx="401.67" cy="232.67" r="1.75"/><circle cx="395.57" cy="232.67" r="1.75"/><circle cx="401.03" cy="233.02" r="1.75"/><circle cx="393.69" cy="233.15" r="1.75"/><circle cx="396.75" cy="233.16" r="1.75"/><circle cx="410.09" cy="233.39" r="1.75"/><circle cx="401.28" cy="233.55" r="1.75"/><circle cx="403.71" cy="233.57" r="1.75"/><circle cx="411.1" cy="233.78" r="1.75"/><circle cx="399.19" cy="235.57" r="1.75"/><circle cx="392.66" cy="235.68" r="1.75"/><circle cx="405.9" cy="235.69" r="1.75"/><circle cx="395.85" cy="235.7" r="1.75"/><circle cx="401.24" cy="236.56" r="1.75"/><circle cx="421.34" cy="236.86" r="1.75"/><circle cx="410.27" cy="237.05" r="1.75"/><circle cx="406.41" cy="237.09" r="1.75"/><circle cx="406.3" cy="237.21" r="1.75"/><circle cx="392.06" cy="237.3" r="1.75"/><circle cx="405.07" cy="237.4" r="1.75"/><circle cx="421.41" cy="237.63" r="1.75"/><circle cx="418.01" cy="237.88" r="1.75"/><circle cx="413.93" cy="238.21" r="1.75"/><circle cx="400.58" cy="238.43" r="1.75"/><circle cx="393.85" cy="238.58" r="1.75"/><circle cx="415.82" cy="238.69" r="1.75"/><circle cx="406.33" cy="238.97" r="1.75"/><circle cx="424.45" cy="239.03" r="1.75"/><circle cx="414.84" cy="239.19" r="1.75"/><circle cx="390.8" cy="239.2" r="1.75"/><circle cx="399.8" cy="239.22" r="1.75"/><circle cx="408.58" cy="239.26" r="1.75"/><circle cx="402.83" cy="239.43" r="1.75"/><circle cx="397.78" cy="239.51" r="1.75"/><circle cx="402.8" cy="239.54" r="1.75"/><circle cx="417.39" cy="239.62" r="1.75"/><circle cx="394.8" cy="239.8" r="1.75"/><circle cx="411.75" cy="239.97" r="1.75"/><circle cx="390.47" cy="239.97" r="1.75"/><circle cx="409.78" cy="240.28" r="1.75"/><circle cx="426.4" cy="240.38" r="1.75"/><circle cx="421.81" cy="240.51" r="1.75"/><circle cx="418.84" cy="240.57" r="1.75"/><circle cx="399.25" cy="240.79" r="1.75"/><circle cx="410.7" cy="241.06" r="1.75"/><circle cx="423.62" cy="241.1" r="1.75"/><circle cx="393.68" cy="241.21" r="1.75"/><circle cx="400.6" cy="241.22" r="1.75"/><circle cx="389.85" cy="241.28" r="1.75"/><circle cx="393.17" cy="241.3" r="1.75"/><circle cx="390.4" cy="241.38" r="1.75"/><circle cx="393.13" cy="241.48" r="1.75"/><circle cx="398.98" cy="241.54" r="1.75"/><circle cx="416.12" cy="241.67" r="1.75"/><circle cx="402.86" cy="241.71" r="1.75"/><circle cx="411.21" cy="241.77" r="1.75"/><circle cx="421.29" cy="241.91" r="1.75"/><circle cx="420.12" cy="242.03" r="1.75"/><circle cx="408.07" cy="242.68" r="1.75"/><circle cx="427.85" cy="243.06" r="1.75"/><circle cx="405.34" cy="243.27" r="1.75"/><circle cx="414.9" cy="243.35" r="1.75"/><circle cx="412.36" cy="243.46" r="1.75"/><circle cx="404.56" cy="243.71" r="1.75"/><circle cx="426.83" cy="243.75" r="1.75"/><circle cx="391.94" cy="243.97" r="1.75"/><circle cx="389.81" cy="244.18" r="1.75"/><circle cx="420.11" cy="244.23" r="1.75"/><circle cx="414.82" cy="244.78" r="1.75"/><circle cx="389.5" cy="244.84" r="1.75"/><circle cx="413.71" cy="245" r="1.75"/><circle cx="394.85" cy="245.04" r="1.75"/><circle cx="406.77" cy="245.1" r="1.75"/><circle cx="400.16" cy="245.42" r="1.75"/><circle cx="419.92" cy="245.51" r="1.75"/><circle cx="400.02" cy="245.54" r="1.75"/><circle cx="407.89" cy="245.69" r="1.75"/><circle cx="400.29" cy="245.86" r="1.75"/><circle cx="394.51" cy="245.88" r="1.75"/><circle cx="421.28" cy="246.04" r="1.75"/><circle cx="424.91" cy="246.09" r="1.75"/><circle cx="412.87" cy="246.13" r="1.75"/><circle cx="403.2" cy="246.19" r="1.75"/><circle cx="425.07" cy="246.23" r="1.75"/><circle cx="410.84" cy="246.69" r="1.75"/><circle cx="395.31" cy="246.78" r="1.75"/><circle cx="397.53" cy="246.95" r="1.75"/><circle cx="424.5" cy="247.28" r="1.75"/><circle cx="418.29" cy="247.71" r="1.75"/><circle cx="391.92" cy="247.77" r="1.75"/><circle cx="416.03" cy="247.78" r="1.75"/><circle cx="406.34" cy="247.81" r="1.75"/><circle cx="391.6" cy="247.83" r="1.75"/><circle cx="421.74" cy="248.04" r="1.75"/><circle cx="414.19" cy="248.06" r="1.75"/><circle cx="411.19" cy="248.18" r="1.75"/><circle cx="403.6" cy="248.28" r="1.75"/><circle cx="423.36" cy="248.28" r="1.75"/><circle cx="409.61" cy="249.08" r="1.75"/><circle cx="396.1" cy="249.34" r="1.75"/><circle cx="419.41" cy="249.52" r="1.75"/><circle cx="394.4" cy="249.61" r="1.75"/><circle cx="400.09" cy="249.63" r="1.75"/><circle cx="414.25" cy="249.76" r="1.75"/><circle cx="424.95" cy="249.77" r="1.75"/><circle cx="423.66" cy="249.78" r="1.75"/><circle cx="406.46" cy="249.85" r="1.75"/><circle cx="401.65" cy="249.91" r="1.75"/><circle cx="404.21" cy="249.91" r="1.75"/><circle cx="408.47" cy="250.07" r="1.75"/><circle cx="394.07" cy="250.21" r="1.75"/><circle cx="398.43" cy="250.46" r="1.75"/><circle cx="401.21" cy="250.49" r="1.75"/><circle cx="394.33" cy="250.71" r="1.75"/><circle cx="393.44" cy="250.93" r="1.75"/><circle cx="409.55" cy="251.11" r="1.75"/><circle cx="400.27" cy="251.71" r="1.75"/><circle cx="419.44" cy="251.71" r="1.75"/><circle cx="423.12" cy="252.03" r="1.75"/><circle cx="418.79" cy="252.27" r="1.75"/><circle cx="395.71" cy="252.28" r="1.75"/><circle cx="405.65" cy="252.38" r="1.75"/><circle cx="411.14" cy="252.41" r="1.75"/><circle cx="416.03" cy="252.66" r="1.75"/><circle cx="414.32" cy="252.75" r="1.75"/><circle cx="399.76" cy="252.97" r="1.75"/><circle cx="417.58" cy="253.19" r="1.75"/><circle cx="402.27" cy="253.44" r="1.75"/><circle cx="410.24" cy="253.57" r="1.75"/><circle cx="404.88" cy="253.58" r="1.75"/><circle cx="420.28" cy="253.65" r="1.75"/><circle cx="411.36" cy="253.74" r="1.75"/><circle cx="418.06" cy="254.32" r="1.75"/><circle cx="404.94" cy="254.81" r="1.75"/><circle cx="405.85" cy="254.9" r="1.75"/><circle cx="402.98" cy="255.04" r="1.75"/><circle cx="401.24" cy="255.54" r="1.75"/><circle cx="413.95" cy="255.86" r="1.75"/><circle cx="411.46" cy="256.51" r="1.75"/><circle cx="414.9" cy="257.05" r="1.75"/></g>
<g fill="#262a90" stroke="#06062e" stroke-width="0.6"></g>
<g fill="#4cb43c" stroke="#0a300a" stroke-width="0.6"><circle cx="421.04" cy="202.57" r="1.75"/><circle cx="423.48" cy="203.68" r="1.75"/><circle cx="420.17" cy="204.06" r="1.75"/><circle cx="419.22" cy="205.33" r="1.75"/><circle cx="422.27" cy="205.88" r="1.75"/><circle cx="423.76" cy="206.13" r="1.75"/><circle cx="420.54" cy="206.91" r="1.75"/><circle cx="426.61" cy="207.66" r="1.75"/><circle cx="420.8" cy="208.39" r="1.75"/><circle cx="416.91" cy="208.58" r="1.75"/><circle cx="426.81" cy="209.45" r="1.75"/><circle cx="425.24" cy="210.06" r="1.75"/><circle cx="413.64" cy="210.37" r="1.75"/><circle cx="427.89" cy="210.47" r="1.75"/><circle cx="424.22" cy="210.52" r="1.75"/><circle cx="423.96" cy="211.03" r="1.75"/><circle cx="422.02" cy="211.97" r="1.75"/><circle cx="424.26" cy="212.22" r="1.75"/><circle cx="418" cy="212.31" r="1.75"/><circle cx="420.94" cy="212.58" r="1.75"/><circle cx="425.73" cy="213.87" r="1.75"/><circle cx="425.69" cy="214.36" r="1.75"/><circle cx="419.55" cy="214.57" r="1.75"/><circle cx="429.8" cy="214.73" r="1.75"/><circle cx="428.35" cy="215.11" r="1.75"/><circle cx="413.7" cy="215.29" r="1.75"/><circle cx="412.04" cy="215.49" r="1.75"/><circle cx="418.31" cy="215.83" r="1.75"/><circle cx="420.43" cy="216.71" r="1.75"/><circle cx="416.26" cy="217.35" r="1.75"/><circle cx="421.38" cy="217.39" r="1.75"/><circle cx="413.76" cy="217.58" r="1.75"/><circle cx="431.46" cy="217.68" r="1.75"/><circle cx="425.47" cy="218.18" r="1.75"/><circle cx="418.55" cy="219" r="1.75"/><circle cx="412.86" cy="219.39" r="1.75"/><circle cx="422.8" cy="219.42" r="1.75"/><circle cx="430.94" cy="219.7" r="1.75"/><circle cx="427.32" cy="220" r="1.75"/><circle cx="420.74" cy="220.02" r="1.75"/><circle cx="431.84" cy="220.07" r="1.75"/><circle cx="429.47" cy="220.69" r="1.75"/><circle cx="424.33" cy="221.04" r="1.75"/><circle cx="418.79" cy="221.49" r="1.75"/><circle cx="432.07" cy="221.8" r="1.75"/><circle cx="411.73" cy="221.82" r="1.75"/><circle cx="417.24" cy="221.86" r="1.75"/><circle cx="422.71" cy="222.21" r="1.75"/><circle cx="411.49" cy="222.24" r="1.75"/><circle cx="428.97" cy="222.33" r="1.75"/><circle cx="415.14" cy="222.42" r="1.75"/><circle cx="430.47" cy="222.76" r="1.75"/><circle cx="426" cy="223.05" r="1.75"/><circle cx="421.29" cy="223.55" r="1.75"/><circle cx="415.75" cy="224.46" r="1.75"/><circle cx="422.92" cy="224.57" r="1.75"/><circle cx="432.08" cy="224.79" r="1.75"/><circle cx="420.01" cy="224.94" r="1.75"/><circle cx="426.91" cy="224.95" r="1.75"/><circle cx="424.66" cy="226.07" r="1.75"/><circle cx="425.23" cy="226.6" r="1.75"/><circle cx="434.57" cy="227.09" r="1.75"/><circle cx="434.68" cy="227.19" r="1.75"/><circle cx="418.52" cy="227.32" r="1.75"/><circle cx="412.8" cy="227.37" r="1.75"/><circle cx="417.56" cy="227.39" r="1.75"/><circle cx="430.74" cy="227.52" r="1.75"/><circle cx="431.01" cy="227.53" r="1.75"/><circle cx="419.42" cy="228.43" r="1.75"/><circle cx="419.6" cy="228.55" r="1.75"/><circle cx="438.03" cy="228.66" r="1.75"/><circle cx="429.18" cy="229.23" r="1.75"/><circle cx="432.24" cy="229.47" r="1.75"/><circle cx="414.77" cy="229.68" r="1.75"/><circle cx="426.17" cy="229.78" r="1.75"/><circle cx="412.75" cy="229.84" r="1.75"/><circle cx="418.31" cy="229.95" r="1.75"/><circle cx="418.81" cy="229.97" r="1.75"/><circle cx="420.91" cy="229.99" r="1.75"/><circle cx="436.87" cy="230.12" r="1.75"/><circle cx="413.4" cy="230.49" r="1.75"/><circle cx="418.62" cy="231.41" r="1.75"/><circle cx="415.8" cy="231.46" r="1.75"/><circle cx="431.04" cy="231.61" r="1.75"/><circle cx="430.58" cy="231.79" r="1.75"/><circle cx="424.81" cy="231.83" r="1.75"/><circle cx="421.84" cy="232.1" r="1.75"/><circle cx="438.5" cy="232.52" r="1.75"/><circle cx="412.8" cy="232.6" r="1.75"/><circle cx="436.56" cy="232.8" r="1.75"/><circle cx="431.47" cy="233.16" r="1.75"/><circle cx="422.68" cy="233.21" r="1.75"/><circle cx="440.48" cy="233.86" r="1.75"/><circle cx="410.22" cy="233.94" r="1.75"/><circle cx="433.43" cy="233.96" r="1.75"/><circle cx="427.54" cy="234.23" r="1.75"/><circle cx="427.23" cy="234.28" r="1.75"/><circle cx="417.15" cy="234.33" r="1.75"/><circle cx="418.61" cy="235.07" r="1.75"/><circle cx="436.98" cy="235.17" r="1.75"/><circle cx="425.9" cy="235.84" r="1.75"/><circle cx="429.55" cy="235.98" r="1.75"/><circle cx="415.46" cy="236.3" r="1.75"/><circle cx="419.87" cy="236.32" r="1.75"/><circle cx="440.35" cy="236.56" r="1.75"/><circle cx="424.22" cy="236.71" r="1.75"/><circle cx="436.56" cy="236.82" r="1.75"/><circle cx="412.44" cy="236.97" r="1.75"/><circle cx="411" cy="237.28" r="1.75"/><circle cx="436.4" cy="237.29" r="1.75"/><circle cx="428.4" cy="237.52" r="1.75"/><circle cx="443.5" cy="237.54" r="1.75"/><circle cx="417.11" cy="238.37" r="1.75"/><circle cx="428.97" cy="238.66" r="1.75"/><circle cx="440.35" cy="238.87" r="1.75"/><circle cx="426.08" cy="238.96" r="1.75"/><circle cx="431.73" cy="239.1" r="1.75"/><circle cx="425.47" cy="239.53" r="1.75"/><circle cx="430.58" cy="239.7" r="1.75"/><circle cx="444.67" cy="239.83" r="1.75"/><circle cx="441.03" cy="240.32" r="1.75"/><circle cx="446.19" cy="240.39" r="1.75"/><circle cx="434.99" cy="240.61" r="1.75"/><circle cx="433.32" cy="240.67" r="1.75"/><circle cx="427.37" cy="241.18" r="1.75"/><circle cx="421.45" cy="241.24" r="1.75"/><circle cx="439.18" cy="241.5" r="1.75"/><circle cx="444.81" cy="241.56" r="1.75"/><circle cx="443.62" cy="241.84" r="1.75"/><circle cx="444.86" cy="241.9" r="1.75"/><circle cx="429.13" cy="242.19" r="1.75"/><circle cx="433.8" cy="242.24" r="1.75"/><circle cx="436.75" cy="243.11" r="1.75"/><circle cx="449.7" cy="243.73" r="1.75"/><circle cx="435.01" cy="243.94" r="1.75"/><circle cx="447" cy="244.2" r="1.75"/><circle cx="438.39" cy="244.64" r="1.75"/><circle cx="429.96" cy="244.79" r="1.75"/><circle cx="445.85" cy="245.51" r="1.75"/><circle cx="435.49" cy="245.61" r="1.75"/><circle cx="433.31" cy="245.91" r="1.75"/><circle cx="441.75" cy="246.05" r="1.75"/><circle cx="450.21" cy="246.39" r="1.75"/><circle cx="440.26" cy="246.62" r="1.75"/><circle cx="432.68" cy="246.68" r="1.75"/><circle cx="430.41" cy="246.89" r="1.75"/><circle cx="428.23" cy="246.9" r="1.75"/><circle cx="451.4" cy="246.94" r="1.75"/><circle cx="439.08" cy="248.2" r="1.75"/><circle cx="444.02" cy="248.23" r="1.75"/><circle cx="434.96" cy="248.27" r="1.75"/><circle cx="447.11" cy="248.65" r="1.75"/><circle cx="438.53" cy="249.07" r="1.75"/><circle cx="449.91" cy="249.1" r="1.75"/><circle cx="446.48" cy="249.23" r="1.75"/><circle cx="447.9" cy="249.45" r="1.75"/><circle cx="437.4" cy="249.73" r="1.75"/><circle cx="453.98" cy="249.83" r="1.75"/><circle cx="429.72" cy="250.18" r="1.75"/><circle cx="440.79" cy="250.44" r="1.75"/><circle cx="451.16" cy="250.86" r="1.75"/><circle cx="432.35" cy="250.91" r="1.75"/><circle cx="451.93" cy="251.05" r="1.75"/><circle cx="432.97" cy="251.32" r="1.75"/><circle cx="436.43" cy="251.4" r="1.75"/><circle cx="445.93" cy="251.52" r="1.75"/><circle cx="450.08" cy="251.7" r="1.75"/><circle cx="453.99" cy="251.76" r="1.75"/><circle cx="442.58" cy="251.85" r="1.75"/><circle cx="437.05" cy="252.38" r="1.75"/><circle cx="441.94" cy="253.06" r="1.75"/><circle cx="440.28" cy="253.65" r="1.75"/><circle cx="454.59" cy="254.61" r="1.75"/><circle cx="451.86" cy="254.93" r="1.75"/><circle cx="443.62" cy="255.28" r="1.75"/><circle cx="441.51" cy="255.98" r="1.75"/><circle cx="445.95" cy="256.04" r="1.75"/><circle cx="447.35" cy="256.17" r="1.75"/><circle cx="449.48" cy="256.21" r="1.75"/><circle cx="455.27" cy="257.23" r="1.75"/><circle cx="450.88" cy="257.38" r="1.75"/><circle cx="454.39" cy="257.6" r="1.75"/></g>
<g fill="#d01e26" stroke="#3a000a" stroke-width="0.6"><circle cx="425.93" cy="246.17" r="1.75"/><circle cx="421.82" cy="245.54" r="1.75"/><circle cx="426.67" cy="243.58" r="1.75"/><circle cx="423.64" cy="244.31" r="1.75"/><circle cx="419.96" cy="245.99" r="1.75"/><circle cx="422.9" cy="240.69" r="1.75"/><circle cx="425.81" cy="243.46" r="1.75"/><circle cx="419.79" cy="241.91" r="1.75"/><circle cx="424.62" cy="242.78" r="1.75"/><circle cx="420.76" cy="242.76" r="1.75"/><circle cx="419.85" cy="240.85" r="1.75"/><circle cx="427.05" cy="245.62" r="1.75"/><circle cx="421.43" cy="239.64" r="1.75"/><circle cx="419.93" cy="239.54" r="1.75"/></g>
<g fill="#262a90" stroke="#06062e" stroke-width="0.6"><circle cx="442.25" cy="251.44" r="1.75"/><circle cx="439.15" cy="251.78" r="1.75"/><circle cx="441.43" cy="251.79" r="1.75"/><circle cx="433.64" cy="252.47" r="1.75"/><circle cx="430.17" cy="252.63" r="1.75"/><circle cx="429.53" cy="252.67" r="1.75"/><circle cx="443.32" cy="252.67" r="1.75"/><circle cx="444.4" cy="252.69" r="1.75"/><circle cx="432.61" cy="252.71" r="1.75"/><circle cx="446.99" cy="252.82" r="1.75"/><circle cx="449.16" cy="253.1" r="1.75"/><circle cx="433.71" cy="253.96" r="1.75"/><circle cx="445.32" cy="254.08" r="1.75"/><circle cx="439.95" cy="254.16" r="1.75"/><circle cx="446.71" cy="254.19" r="1.75"/><circle cx="451.01" cy="254.8" r="1.75"/><circle cx="438.21" cy="254.8" r="1.75"/><circle cx="437.52" cy="255.04" r="1.75"/><circle cx="433.63" cy="255.04" r="1.75"/><circle cx="444.74" cy="255.15" r="1.75"/><circle cx="452.48" cy="255.17" r="1.75"/><circle cx="457.57" cy="255.21" r="1.75"/><circle cx="459.97" cy="255.3" r="1.75"/><circle cx="462.27" cy="255.74" r="1.75"/><circle cx="440.63" cy="255.78" r="1.75"/><circle cx="466.96" cy="256.06" r="1.75"/><circle cx="452.38" cy="256.22" r="1.75"/><circle cx="431.66" cy="256.23" r="1.75"/><circle cx="428.98" cy="256.32" r="1.75"/><circle cx="456.55" cy="256.74" r="1.75"/><circle cx="448.9" cy="257.22" r="1.75"/><circle cx="440.07" cy="257.39" r="1.75"/><circle cx="461.67" cy="257.4" r="1.75"/><circle cx="438.76" cy="257.5" r="1.75"/><circle cx="462.55" cy="257.75" r="1.75"/><circle cx="455.97" cy="258.02" r="1.75"/><circle cx="455.02" cy="258.05" r="1.75"/><circle cx="453.63" cy="258.05" r="1.75"/><circle cx="446.95" cy="258.06" r="1.75"/><circle cx="449.27" cy="258.2" r="1.75"/><circle cx="436.4" cy="258.23" r="1.75"/><circle cx="450.7" cy="258.52" r="1.75"/><circle cx="458.61" cy="259.35" r="1.75"/><circle cx="436.87" cy="259.58" r="1.75"/><circle cx="458.13" cy="259.74" r="1.75"/><circle cx="441.73" cy="260.03" r="1.75"/><circle cx="445.78" cy="260.04" r="1.75"/><circle cx="464.83" cy="260.22" r="1.75"/><circle cx="444.93" cy="260.25" r="1.75"/><circle cx="465.16" cy="260.55" r="1.75"/><circle cx="459.93" cy="260.57" r="1.75"/><circle cx="442.16" cy="260.59" r="1.75"/><circle cx="452.52" cy="260.95" r="1.75"/><circle cx="451.22" cy="261.46" r="1.75"/><circle cx="453.81" cy="261.6" r="1.75"/><circle cx="464.43" cy="262.14" r="1.75"/><circle cx="446.78" cy="262.18" r="1.75"/><circle cx="447.08" cy="262.31" r="1.75"/><circle cx="453.25" cy="262.48" r="1.75"/><circle cx="459.51" cy="262.58" r="1.75"/><circle cx="449.16" cy="262.84" r="1.75"/><circle cx="461" cy="263.15" r="1.75"/><circle cx="462.91" cy="263.76" r="1.75"/><circle cx="455.89" cy="264.11" r="1.75"/><circle cx="460.87" cy="264.28" r="1.75"/><circle cx="449.22" cy="264.5" r="1.75"/><circle cx="453.5" cy="265.03" r="1.75"/><circle cx="460.56" cy="265.4" r="1.75"/><circle cx="462.58" cy="265.47" r="1.75"/><circle cx="456.38" cy="265.69" r="1.75"/></g>
<g fill="#8a9a8a" stroke="#2a3a2a" stroke-width="0.6"><circle cx="436.7" cy="207.3" r="1.75"/></g>
<g fill="#d01e26" stroke="#3a000a" stroke-width="0.6"><circle cx="425.2" cy="195.8" r="1.75"/><circle cx="423.8" cy="231.4" r="1.75"/></g>
<g fill="#262a90" stroke="#06062e" stroke-width="0.6"><circle cx="437.7" cy="223.7" r="1.75"/><circle cx="438.7" cy="226.5" r="1.75"/><circle cx="458.8" cy="268.8" r="1.75"/></g>
<line x1="63" y1="155.2" x2="133" y2="206.5" stroke="#111" stroke-width="1.15" stroke-dasharray="1.2 1.2"/>
<line x1="63.5" y1="277.5" x2="128.5" y2="253.5" stroke="#111" stroke-width="1.15" stroke-dasharray="1.2 1.2"/>
<line x1="254.2" y1="159.8" x2="165.5" y2="219.2" stroke="#111" stroke-width="1.15" stroke-dasharray="1.2 1.2"/>
<line x1="254.2" y1="266.3" x2="203.5" y2="261.3" stroke="#111" stroke-width="1.15" stroke-dasharray="1.2 1.2"/>
<defs><linearGradient id="bl" x1="0" y1="0" x2="0" y2="1"><stop offset="0" stop-color="#1e306c"/><stop offset="0.12" stop-color="#104a94"/><stop offset="0.25" stop-color="#2171b5"/><stop offset="0.38" stop-color="#4292c6"/><stop offset="0.5" stop-color="#6baed6"/><stop offset="0.62" stop-color="#9ecae1"/><stop offset="0.75" stop-color="#c6dbef"/><stop offset="0.88" stop-color="#deebf7"/><stop offset="1" stop-color="#f7fbff"/></linearGradient></defs>
<text x="129.2" y="334.21" font-size="6.7" font-weight="bold" text-anchor="middle" fill="#1a1a1a" stroke="#1a1a1a" stroke-width="0.18" textLength="86.04" lengthAdjust="spacingAndGlyphs">DHI-predicted pathology</text>
<text x="67.4" y="347.21" font-size="6.7" font-weight="bold" text-anchor="start" fill="#1a1a1a" stroke="#1a1a1a" stroke-width="0.18" textLength="38.52" lengthAdjust="spacingAndGlyphs">High tumor</text>
<text x="67.4" y="355.81" font-size="6.7" font-weight="bold" text-anchor="start" fill="#1a1a1a" stroke="#1a1a1a" stroke-width="0.18" textLength="34.19" lengthAdjust="spacingAndGlyphs">cellularity</text>
<text x="116.6" y="347.21" font-size="6.7" font-weight="bold" text-anchor="start" fill="#1a1a1a" stroke="#1a1a1a" stroke-width="0.18" textLength="21.21" lengthAdjust="spacingAndGlyphs">Tumor</text>
<text x="116.6" y="355.81" font-size="6.7" font-weight="bold" text-anchor="start" fill="#1a1a1a" stroke="#1a1a1a" stroke-width="0.18" textLength="28.41" lengthAdjust="spacingAndGlyphs">necrosis</text>
<text x="158.3" y="347.21" font-size="6.7" font-weight="bold" text-anchor="start" fill="#1a1a1a" stroke="#1a1a1a" stroke-width="0.18" textLength="21.21" lengthAdjust="spacingAndGlyphs">Tumor</text>
<text x="158.3" y="355.81" font-size="6.7" font-weight="bold" text-anchor="start" fill="#1a1a1a" stroke="#1a1a1a" stroke-width="0.18" textLength="36.33" lengthAdjust="spacingAndGlyphs">infiltration</text>
<rect x="67.4" y="363.3" width="41.63" height="41.37" fill="#1b3676" stroke="none" stroke-width="1"/>
<text x="88.07" y="385.77" font-size="7.6" font-weight="bold" text-anchor="middle" fill="#ffffff" stroke="#ffffff" stroke-width="0.25" textLength="17.64" lengthAdjust="spacingAndGlyphs">0.97</text>
<rect x="108.73" y="363.3" width="41.63" height="41.37" fill="#f3f8fe" stroke="none" stroke-width="1"/>
<text x="129.4" y="385.77" font-size="7.6" font-weight="bold" text-anchor="middle" fill="#111111" stroke="#111111" stroke-width="0.25" textLength="17.64" lengthAdjust="spacingAndGlyphs">0.02</text>
<rect x="150.07" y="363.3" width="41.63" height="41.37" fill="#f5fafe" stroke="none" stroke-width="1"/>
<text x="170.73" y="385.77" font-size="7.6" font-weight="bold" text-anchor="middle" fill="#111111" stroke="#111111" stroke-width="0.25" textLength="17.64" lengthAdjust="spacingAndGlyphs">0.01</text>
<rect x="67.4" y="404.37" width="41.63" height="41.37" fill="#f5fafe" stroke="none" stroke-width="1"/>
<text x="88.07" y="426.84" font-size="7.6" font-weight="bold" text-anchor="middle" fill="#111111" stroke="#111111" stroke-width="0.25" textLength="17.64" lengthAdjust="spacingAndGlyphs">0.01</text>
<rect x="108.73" y="404.37" width="41.63" height="41.37" fill="#1b3676" stroke="none" stroke-width="1"/>
<text x="129.4" y="426.84" font-size="7.6" font-weight="bold" text-anchor="middle" fill="#ffffff" stroke="#ffffff" stroke-width="0.25" textLength="17.64" lengthAdjust="spacingAndGlyphs">0.97</text>
<rect x="150.07" y="404.37" width="41.63" height="41.37" fill="#f1f7fd" stroke="none" stroke-width="1"/>
<text x="170.73" y="426.84" font-size="7.6" font-weight="bold" text-anchor="middle" fill="#111111" stroke="#111111" stroke-width="0.25" textLength="17.64" lengthAdjust="spacingAndGlyphs">0.03</text>
<rect x="67.4" y="445.43" width="41.63" height="41.37" fill="#e7f1fa" stroke="none" stroke-width="1"/>
<text x="88.07" y="467.9" font-size="7.6" font-weight="bold" text-anchor="middle" fill="#111111" stroke="#111111" stroke-width="0.25" textLength="17.64" lengthAdjust="spacingAndGlyphs">0.08</text>
<rect x="108.73" y="445.43" width="41.63" height="41.37" fill="#f7fbff" stroke="none" stroke-width="1"/>
<text x="129.4" y="467.9" font-size="7.6" font-weight="bold" text-anchor="middle" fill="#111111" stroke="#111111" stroke-width="0.25" textLength="4.97" lengthAdjust="spacingAndGlyphs">0</text>
<rect x="150.07" y="445.43" width="41.63" height="41.37" fill="#154186" stroke="none" stroke-width="1"/>
<text x="170.73" y="467.9" font-size="7.6" font-weight="bold" text-anchor="middle" fill="#ffffff" stroke="#ffffff" stroke-width="0.25" textLength="17.64" lengthAdjust="spacingAndGlyphs">0.92</text>
<rect x="67.4" y="363.3" width="124" height="123.2" fill="none" stroke="#222" stroke-width="1.1"/>
<line x1="65.4" y1="383.83" x2="67.4" y2="383.83" stroke="#333" stroke-width="0.8"/>
<line x1="88.07" y1="486.5" x2="88.07" y2="488.5" stroke="#333" stroke-width="0.8"/>
<line x1="65.4" y1="424.9" x2="67.4" y2="424.9" stroke="#333" stroke-width="0.8"/>
<line x1="129.4" y1="486.5" x2="129.4" y2="488.5" stroke="#333" stroke-width="0.8"/>
<line x1="65.4" y1="465.97" x2="67.4" y2="465.97" stroke="#333" stroke-width="0.8"/>
<line x1="170.73" y1="486.5" x2="170.73" y2="488.5" stroke="#333" stroke-width="0.8"/>
<text x="27.6" y="377.6" font-size="6.7" font-weight="bold" text-anchor="start" fill="#1a1a1a" stroke="#1a1a1a" stroke-width="0.18" textLength="15.77" lengthAdjust="spacingAndGlyphs">High</text>
<text x="27.6" y="386.25" font-size="6.7" font-weight="bold" text-anchor="start" fill="#1a1a1a" stroke="#1a1a1a" stroke-width="0.18" textLength="20.64" lengthAdjust="spacingAndGlyphs">tumor</text>
<text x="27.6" y="394.9" font-size="6.7" font-weight="bold" text-anchor="start" fill="#1a1a1a" stroke="#1a1a1a" stroke-width="0.18" textLength="34.19" lengthAdjust="spacingAndGlyphs">cellularity</text>
<text x="27.6" y="422.99" font-size="6.7" font-weight="bold" text-anchor="start" fill="#1a1a1a" stroke="#1a1a1a" stroke-width="0.18" textLength="21.21" lengthAdjust="spacingAndGlyphs">Tumor</text>
<text x="27.6" y="431.64" font-size="6.7" font-weight="bold" text-anchor="start" fill="#1a1a1a" stroke="#1a1a1a" stroke-width="0.18" textLength="28.41" lengthAdjust="spacingAndGlyphs">necrosis</text>
<text x="27.6" y="464.05" font-size="6.7" font-weight="bold" text-anchor="start" fill="#1a1a1a" stroke="#1a1a1a" stroke-width="0.18" textLength="21.21" lengthAdjust="spacingAndGlyphs">Tumor</text>
<text x="27.6" y="472.7" font-size="6.7" font-weight="bold" text-anchor="start" fill="#1a1a1a" stroke="#1a1a1a" stroke-width="0.18" textLength="36.33" lengthAdjust="spacingAndGlyphs">infiltration</text>
<text x="16.2" y="425.91" font-size="6.7" font-weight="bold" text-anchor="middle" fill="#1a1a1a" transform="rotate(-90 16.2 423.5)" stroke="#1a1a1a" stroke-width="0.18" textLength="105.95" lengthAdjust="spacingAndGlyphs">Pathologist-defined pathology</text>
<rect x="201" y="363.3" width="5.8" height="123.2" fill="url(#bl)" stroke="none" stroke-width="1"/>
<text x="208.5" y="367.46" font-size="6" font-weight="bold" text-anchor="start" fill="#1a1a1a" stroke="#1a1a1a" stroke-width="0.18" textLength="9.74" lengthAdjust="spacingAndGlyphs">1.0</text>
<text x="208.5" y="427.06" font-size="6" font-weight="bold" text-anchor="start" fill="#1a1a1a" stroke="#1a1a1a" stroke-width="0.18" textLength="9.74" lengthAdjust="spacingAndGlyphs">0.5</text>
<text x="208.5" y="488.66" font-size="6" font-weight="bold" text-anchor="start" fill="#1a1a1a" stroke="#1a1a1a" stroke-width="0.18" textLength="3.83" lengthAdjust="spacingAndGlyphs">0</text>
<line x1="206.8" y1="455.7" x2="208.5" y2="455.7" stroke="#555" stroke-width="0.6"/>
<line x1="206.8" y1="394.1" x2="208.5" y2="394.1" stroke="#555" stroke-width="0.6"/>
<text x="125.3" y="517.31" font-size="6.7" font-weight="bold" text-anchor="middle" fill="#1a1a1a" stroke="#1a1a1a" stroke-width="0.18" textLength="107.96" lengthAdjust="spacingAndGlyphs">DTI-SVM–predicted pathology</text>
<text x="67.4" y="530.71" font-size="6.7" font-weight="bold" text-anchor="start" fill="#1a1a1a" stroke="#1a1a1a" stroke-width="0.18" textLength="38.52" lengthAdjust="spacingAndGlyphs">High tumor</text>
<text x="67.4" y="539.31" font-size="6.7" font-weight="bold" text-anchor="start" fill="#1a1a1a" stroke="#1a1a1a" stroke-width="0.18" textLength="34.19" lengthAdjust="spacingAndGlyphs">cellularity</text>
<text x="116.6" y="530.71" font-size="6.7" font-weight="bold" text-anchor="start" fill="#1a1a1a" stroke="#1a1a1a" stroke-width="0.18" textLength="21.21" lengthAdjust="spacingAndGlyphs">Tumor</text>
<text x="116.6" y="539.31" font-size="6.7" font-weight="bold" text-anchor="start" fill="#1a1a1a" stroke="#1a1a1a" stroke-width="0.18" textLength="28.41" lengthAdjust="spacingAndGlyphs">necrosis</text>
<text x="158.3" y="530.71" font-size="6.7" font-weight="bold" text-anchor="start" fill="#1a1a1a" stroke="#1a1a1a" stroke-width="0.18" textLength="21.21" lengthAdjust="spacingAndGlyphs">Tumor</text>
<text x="158.3" y="539.31" font-size="6.7" font-weight="bold" text-anchor="start" fill="#1a1a1a" stroke="#1a1a1a" stroke-width="0.18" textLength="36.33" lengthAdjust="spacingAndGlyphs">infiltration</text>
<rect x="67.4" y="544.5" width="41.63" height="41.37" fill="#2e7ebc" stroke="none" stroke-width="1"/>
<text x="88.07" y="566.97" font-size="7.6" font-weight="bold" text-anchor="middle" fill="#ffffff" stroke="#ffffff" stroke-width="0.25" textLength="12.67" lengthAdjust="spacingAndGlyphs">0.7</text>
<rect x="108.73" y="544.5" width="41.63" height="41.37" fill="#f5fafe" stroke="none" stroke-width="1"/>
<text x="129.4" y="566.97" font-size="7.6" font-weight="bold" text-anchor="middle" fill="#111111" stroke="#111111" stroke-width="0.25" textLength="17.64" lengthAdjust="spacingAndGlyphs">0.01</text>
<rect x="150.07" y="544.5" width="41.63" height="41.37" fill="#b9d6eb" stroke="none" stroke-width="1"/>
<text x="170.73" y="566.97" font-size="7.6" font-weight="bold" text-anchor="middle" fill="#111111" stroke="#111111" stroke-width="0.25" textLength="17.64" lengthAdjust="spacingAndGlyphs">0.29</text>
<rect x="67.4" y="585.57" width="41.63" height="41.37" fill="#88bedc" stroke="none" stroke-width="1"/>
<text x="88.07" y="608.04" font-size="7.6" font-weight="bold" text-anchor="middle" fill="#111111" stroke="#111111" stroke-width="0.25" textLength="17.64" lengthAdjust="spacingAndGlyphs">0.43</text>
<rect x="108.73" y="585.57" width="41.63" height="41.37" fill="#64aad3" stroke="none" stroke-width="1"/>
<text x="129.4" y="608.04" font-size="7.6" font-weight="bold" text-anchor="middle" fill="#ffffff" stroke="#ffffff" stroke-width="0.25" textLength="17.64" lengthAdjust="spacingAndGlyphs">0.52</text>
<rect x="150.07" y="585.57" width="41.63" height="41.37" fill="#ebf3fb" stroke="none" stroke-width="1"/>
<text x="170.73" y="608.04" font-size="7.6" font-weight="bold" text-anchor="middle" fill="#111111" stroke="#111111" stroke-width="0.25" textLength="17.64" lengthAdjust="spacingAndGlyphs">0.06</text>
<rect x="67.4" y="626.63" width="41.63" height="41.37" fill="#edf5fc" stroke="none" stroke-width="1"/>
<text x="88.07" y="649.1" font-size="7.6" font-weight="bold" text-anchor="middle" fill="#111111" stroke="#111111" stroke-width="0.25" textLength="17.64" lengthAdjust="spacingAndGlyphs">0.05</text>
<rect x="108.73" y="626.63" width="41.63" height="41.37" fill="#f7fbff" stroke="none" stroke-width="1"/>
<text x="129.4" y="649.1" font-size="7.6" font-weight="bold" text-anchor="middle" fill="#111111" stroke="#111111" stroke-width="0.25" textLength="4.97" lengthAdjust="spacingAndGlyphs">0</text>
<rect x="150.07" y="626.63" width="41.63" height="41.37" fill="#183a7c" stroke="none" stroke-width="1"/>
<text x="170.73" y="649.1" font-size="7.6" font-weight="bold" text-anchor="middle" fill="#ffffff" stroke="#ffffff" stroke-width="0.25" textLength="17.64" lengthAdjust="spacingAndGlyphs">0.95</text>
<rect x="67.4" y="544.5" width="124" height="123.2" fill="none" stroke="#222" stroke-width="1.1"/>
<line x1="65.4" y1="565.03" x2="67.4" y2="565.03" stroke="#333" stroke-width="0.8"/>
<line x1="88.07" y1="667.7" x2="88.07" y2="669.7" stroke="#333" stroke-width="0.8"/>
<line x1="65.4" y1="606.1" x2="67.4" y2="606.1" stroke="#333" stroke-width="0.8"/>
<line x1="129.4" y1="667.7" x2="129.4" y2="669.7" stroke="#333" stroke-width="0.8"/>
<line x1="65.4" y1="647.17" x2="67.4" y2="647.17" stroke="#333" stroke-width="0.8"/>
<line x1="170.73" y1="667.7" x2="170.73" y2="669.7" stroke="#333" stroke-width="0.8"/>
<text x="27.6" y="558.8" font-size="6.7" font-weight="bold" text-anchor="start" fill="#1a1a1a" stroke="#1a1a1a" stroke-width="0.18" textLength="15.77" lengthAdjust="spacingAndGlyphs">High</text>
<text x="27.6" y="567.45" font-size="6.7" font-weight="bold" text-anchor="start" fill="#1a1a1a" stroke="#1a1a1a" stroke-width="0.18" textLength="20.64" lengthAdjust="spacingAndGlyphs">tumor</text>
<text x="27.6" y="576.1" font-size="6.7" font-weight="bold" text-anchor="start" fill="#1a1a1a" stroke="#1a1a1a" stroke-width="0.18" textLength="34.19" lengthAdjust="spacingAndGlyphs">cellularity</text>
<text x="27.6" y="604.19" font-size="6.7" font-weight="bold" text-anchor="start" fill="#1a1a1a" stroke="#1a1a1a" stroke-width="0.18" textLength="21.21" lengthAdjust="spacingAndGlyphs">Tumor</text>
<text x="27.6" y="612.84" font-size="6.7" font-weight="bold" text-anchor="start" fill="#1a1a1a" stroke="#1a1a1a" stroke-width="0.18" textLength="28.41" lengthAdjust="spacingAndGlyphs">necrosis</text>
<text x="27.6" y="645.25" font-size="6.7" font-weight="bold" text-anchor="start" fill="#1a1a1a" stroke="#1a1a1a" stroke-width="0.18" textLength="21.21" lengthAdjust="spacingAndGlyphs">Tumor</text>
<text x="27.6" y="653.9" font-size="6.7" font-weight="bold" text-anchor="start" fill="#1a1a1a" stroke="#1a1a1a" stroke-width="0.18" textLength="36.33" lengthAdjust="spacingAndGlyphs">infiltration</text>
<text x="16.2" y="607.11" font-size="6.7" font-weight="bold" text-anchor="middle" fill="#1a1a1a" transform="rotate(-90 16.2 604.7)" stroke="#1a1a1a" stroke-width="0.18" textLength="105.95" lengthAdjust="spacingAndGlyphs">Pathologist-defined pathology</text>
<rect x="201" y="544.5" width="5.8" height="123.2" fill="url(#bl)" stroke="none" stroke-width="1"/>
<text x="208.5" y="548.66" font-size="6" font-weight="bold" text-anchor="start" fill="#1a1a1a" stroke="#1a1a1a" stroke-width="0.18" textLength="9.74" lengthAdjust="spacingAndGlyphs">1.0</text>
<text x="208.5" y="608.26" font-size="6" font-weight="bold" text-anchor="start" fill="#1a1a1a" stroke="#1a1a1a" stroke-width="0.18" textLength="9.74" lengthAdjust="spacingAndGlyphs">0.5</text>
<text x="208.5" y="669.86" font-size="6" font-weight="bold" text-anchor="start" fill="#1a1a1a" stroke="#1a1a1a" stroke-width="0.18" textLength="3.83" lengthAdjust="spacingAndGlyphs">0</text>
<line x1="206.8" y1="636.9" x2="208.5" y2="636.9" stroke="#555" stroke-width="0.6"/>
<line x1="206.8" y1="575.3" x2="208.5" y2="575.3" stroke="#555" stroke-width="0.6"/>
<path d="M280.9 363.85V472.9M256.4 451.56H366.3M302.3 363.85V472.9M256.4 430.22H366.3M323.7 363.85V472.9M256.4 408.88H366.3M345.1 363.85V472.9M256.4 387.54H366.3M256.4 366.2H366.3" stroke="#d0d0d0" stroke-width="0.8" fill="none"/>
<g clip-path="none">
<polyline points="259.5,472.9 259.5,383.27 260.04,379 260.57,374.74 261.64,372.07 263.25,370.47 264.85,369.4 268.06,368.33 273.09,367.27 280.9,366.52 291.6,366.2 366.5,366.2" fill="none" stroke="#d8323c" stroke-width="1.5" stroke-linejoin="round"/>
<polyline points="259.5,472.9 259.93,419.55 260.36,397.14 261.64,389.67 262.71,387.54 263.78,384.34 265.92,383.27 267.74,381.67 269.13,380.07 270.2,377.94 271.81,373.67 273.09,371 275.01,368.87 277.15,367.27 284.11,366.2 366.5,366.2" fill="none" stroke="#4a6db4" stroke-width="1.5" stroke-linejoin="round"/>
<polyline points="259.5,472.9 259.82,385.94 260.57,382.2 261.64,380.07 263.78,376.87 266.35,374.74 269.13,372.6 271.81,370.47 274.48,368.87 277.15,367.8 284.11,366.73 291.6,366.2 366.5,366.2" fill="none" stroke="#1f7a3e" stroke-width="1.5" stroke-linejoin="round"/>
</g>
<rect x="256.4" y="363.85" width="109.9" height="109.05" fill="none" stroke="#1a1a1a" stroke-width="1.2"/>
<line x1="259.5" y1="472.9" x2="259.5" y2="475.1" stroke="#222" stroke-width="0.8"/>
<text x="259.5" y="481.6" font-size="6.4" font-weight="bold" text-anchor="middle" fill="#1a1a1a" stroke="#1a1a1a" stroke-width="0.18" textLength="10.81" lengthAdjust="spacingAndGlyphs">0.0</text>
<line x1="254.2" y1="472.9" x2="256.4" y2="472.9" stroke="#222" stroke-width="0.8"/>
<text x="252.8" y="475.2" font-size="6.4" font-weight="bold" text-anchor="end" fill="#1a1a1a" stroke="#1a1a1a" stroke-width="0.18" textLength="10.81" lengthAdjust="spacingAndGlyphs">0.0</text>
<line x1="280.9" y1="472.9" x2="280.9" y2="475.1" stroke="#222" stroke-width="0.8"/>
<text x="280.9" y="481.6" font-size="6.4" font-weight="bold" text-anchor="middle" fill="#1a1a1a" stroke="#1a1a1a" stroke-width="0.18" textLength="10.81" lengthAdjust="spacingAndGlyphs">0.2</text>
<line x1="254.2" y1="451.56" x2="256.4" y2="451.56" stroke="#222" stroke-width="0.8"/>
<text x="252.8" y="453.86" font-size="6.4" font-weight="bold" text-anchor="end" fill="#1a1a1a" stroke="#1a1a1a" stroke-width="0.18" textLength="10.81" lengthAdjust="spacingAndGlyphs">0.2</text>
<line x1="302.3" y1="472.9" x2="302.3" y2="475.1" stroke="#222" stroke-width="0.8"/>
<text x="302.3" y="481.6" font-size="6.4" font-weight="bold" text-anchor="middle" fill="#1a1a1a" stroke="#1a1a1a" stroke-width="0.18" textLength="10.81" lengthAdjust="spacingAndGlyphs">0.4</text>
<line x1="254.2" y1="430.22" x2="256.4" y2="430.22" stroke="#222" stroke-width="0.8"/>
<text x="252.8" y="432.52" font-size="6.4" font-weight="bold" text-anchor="end" fill="#1a1a1a" stroke="#1a1a1a" stroke-width="0.18" textLength="10.81" lengthAdjust="spacingAndGlyphs">0.4</text>
<line x1="323.7" y1="472.9" x2="323.7" y2="475.1" stroke="#222" stroke-width="0.8"/>
<text x="323.7" y="481.6" font-size="6.4" font-weight="bold" text-anchor="middle" fill="#1a1a1a" stroke="#1a1a1a" stroke-width="0.18" textLength="10.81" lengthAdjust="spacingAndGlyphs">0.6</text>
<line x1="254.2" y1="408.88" x2="256.4" y2="408.88" stroke="#222" stroke-width="0.8"/>
<text x="252.8" y="411.18" font-size="6.4" font-weight="bold" text-anchor="end" fill="#1a1a1a" stroke="#1a1a1a" stroke-width="0.18" textLength="10.81" lengthAdjust="spacingAndGlyphs">0.6</text>
<line x1="345.1" y1="472.9" x2="345.1" y2="475.1" stroke="#222" stroke-width="0.8"/>
<text x="345.1" y="481.6" font-size="6.4" font-weight="bold" text-anchor="middle" fill="#1a1a1a" stroke="#1a1a1a" stroke-width="0.18" textLength="10.81" lengthAdjust="spacingAndGlyphs">0.8</text>
<line x1="254.2" y1="387.54" x2="256.4" y2="387.54" stroke="#222" stroke-width="0.8"/>
<text x="252.8" y="389.84" font-size="6.4" font-weight="bold" text-anchor="end" fill="#1a1a1a" stroke="#1a1a1a" stroke-width="0.18" textLength="10.81" lengthAdjust="spacingAndGlyphs">0.8</text>
<line x1="366.5" y1="472.9" x2="366.5" y2="475.1" stroke="#222" stroke-width="0.8"/>
<text x="366.5" y="481.6" font-size="6.4" font-weight="bold" text-anchor="middle" fill="#1a1a1a" stroke="#1a1a1a" stroke-width="0.18" textLength="10.81" lengthAdjust="spacingAndGlyphs">1.0</text>
<line x1="254.2" y1="366.2" x2="256.4" y2="366.2" stroke="#222" stroke-width="0.8"/>
<text x="252.8" y="368.5" font-size="6.4" font-weight="bold" text-anchor="end" fill="#1a1a1a" stroke="#1a1a1a" stroke-width="0.18" textLength="10.81" lengthAdjust="spacingAndGlyphs">1.0</text>
<text x="312.85" y="357.26" font-size="6.7" font-weight="bold" text-anchor="middle" fill="#1a1a1a" stroke="#1a1a1a" stroke-width="0.18" textLength="41.12" lengthAdjust="spacingAndGlyphs">ROC curves</text>
<text x="311.35" y="492.51" font-size="6.7" font-weight="bold" text-anchor="middle" fill="#1a1a1a" stroke="#1a1a1a" stroke-width="0.18" textLength="46.5" lengthAdjust="spacingAndGlyphs">1 – specificity</text>
<text x="236.2" y="420.31" font-size="6.7" font-weight="bold" text-anchor="middle" fill="#1a1a1a" transform="rotate(-90 236.2 417.9)" stroke="#1a1a1a" stroke-width="0.18" textLength="36.32" lengthAdjust="spacingAndGlyphs">Sensitivity</text>
<rect x="305" y="436.9" width="57.5" height="34.2" rx="1.5" fill="#fff" fill-opacity="0.85" stroke="#d8d8d8" stroke-width="0.7"/>
<line x1="307.8" y1="442.4" x2="322.2" y2="442.4" stroke="#d8323c" stroke-width="1.5"/>
<text x="326.8" y="445.01" font-size="6.7" font-weight="bold" text-anchor="start" fill="#111" stroke="#111" stroke-width="0.18" textLength="33.48" lengthAdjust="spacingAndGlyphs">AUC 0.99</text>
<line x1="307.8" y1="452.7" x2="322.2" y2="452.7" stroke="#4a6db4" stroke-width="1.5"/>
<text x="326.8" y="455.31" font-size="6.7" font-weight="bold" text-anchor="start" fill="#111" stroke="#111" stroke-width="0.18" textLength="33.48" lengthAdjust="spacingAndGlyphs">AUC 0.98</text>
<line x1="307.8" y1="463" x2="322.2" y2="463" stroke="#1f7a3e" stroke-width="1.5"/>
<text x="326.8" y="465.61" font-size="6.7" font-weight="bold" text-anchor="start" fill="#111" stroke="#111" stroke-width="0.18" textLength="33.48" lengthAdjust="spacingAndGlyphs">AUC 0.99</text>
<path d="M427.84 363.85V472.9M406.5 451.56H515.2M449.08 363.85V472.9M406.5 430.22H515.2M470.32 363.85V472.9M406.5 408.88H515.2M491.56 363.85V472.9M406.5 387.54H515.2M512.8 363.85V472.9M406.5 366.2H515.2" stroke="#d0d0d0" stroke-width="0.8" fill="none"/>
<g clip-path="none">
<polyline points="406.6,366.2 487.31,366.2 498.46,367.27 506.43,367.8 509.61,368.55 511.74,370.47 512.48,376.87 512.8,387.54 512.8,398.74" fill="none" stroke="#d8323c" stroke-width="1.5" stroke-linejoin="round"/>
<polyline points="406.6,418.48 407.13,402.48 408.3,389.67 409.25,392.88 410.85,385.41 412.97,381.67 414.03,380.07 414.67,383.27 415.63,381.14 417.64,379 423.06,374.74 433.68,372.6 446.96,371 449.08,369.93 450.14,371.32 460.76,371.75 471.38,371.21 480.94,371.32 482.53,373.67 484.66,377.94 486.99,382.2 491.24,386.47 493.68,388.61 495.38,396.72 497.51,405.04 501.65,409.2 507.91,414.43 510.68,416.35 512.8,417.95" fill="none" stroke="#4a6db4" stroke-width="1.5" stroke-linejoin="round"/>
<polyline points="406.6,366.2 486.25,366.2 491.24,367.8 494.75,371 497.51,373.67 501.12,379 503.77,382.2 505.9,387.54 507.91,392.45 509.61,400.34 510.99,408.88 512.06,419.55 512.8,434.17" fill="none" stroke="#1f7a3e" stroke-width="1.5" stroke-linejoin="round"/>
</g>
<rect x="406.5" y="363.85" width="108.7" height="109.05" fill="none" stroke="#1a1a1a" stroke-width="1.2"/>
<line x1="406.6" y1="472.9" x2="406.6" y2="475.1" stroke="#222" stroke-width="0.8"/>
<text x="406.6" y="481.6" font-size="6.4" font-weight="bold" text-anchor="middle" fill="#1a1a1a" stroke="#1a1a1a" stroke-width="0.18" textLength="10.81" lengthAdjust="spacingAndGlyphs">0.0</text>
<line x1="404.3" y1="472.9" x2="406.5" y2="472.9" stroke="#222" stroke-width="0.8"/>
<text x="402.9" y="475.2" font-size="6.4" font-weight="bold" text-anchor="end" fill="#1a1a1a" stroke="#1a1a1a" stroke-width="0.18" textLength="10.81" lengthAdjust="spacingAndGlyphs">0.0</text>
<line x1="427.84" y1="472.9" x2="427.84" y2="475.1" stroke="#222" stroke-width="0.8"/>
<text x="427.84" y="481.6" font-size="6.4" font-weight="bold" text-anchor="middle" fill="#1a1a1a" stroke="#1a1a1a" stroke-width="0.18" textLength="10.81" lengthAdjust="spacingAndGlyphs">0.2</text>
<line x1="404.3" y1="451.56" x2="406.5" y2="451.56" stroke="#222" stroke-width="0.8"/>
<text x="402.9" y="453.86" font-size="6.4" font-weight="bold" text-anchor="end" fill="#1a1a1a" stroke="#1a1a1a" stroke-width="0.18" textLength="10.81" lengthAdjust="spacingAndGlyphs">0.2</text>
<line x1="449.08" y1="472.9" x2="449.08" y2="475.1" stroke="#222" stroke-width="0.8"/>
<text x="449.08" y="481.6" font-size="6.4" font-weight="bold" text-anchor="middle" fill="#1a1a1a" stroke="#1a1a1a" stroke-width="0.18" textLength="10.81" lengthAdjust="spacingAndGlyphs">0.4</text>
<line x1="404.3" y1="430.22" x2="406.5" y2="430.22" stroke="#222" stroke-width="0.8"/>
<text x="402.9" y="432.52" font-size="6.4" font-weight="bold" text-anchor="end" fill="#1a1a1a" stroke="#1a1a1a" stroke-width="0.18" textLength="10.81" lengthAdjust="spacingAndGlyphs">0.4</text>
<line x1="470.32" y1="472.9" x2="470.32" y2="475.1" stroke="#222" stroke-width="0.8"/>
<text x="470.32" y="481.6" font-size="6.4" font-weight="bold" text-anchor="middle" fill="#1a1a1a" stroke="#1a1a1a" stroke-width="0.18" textLength="10.81" lengthAdjust="spacingAndGlyphs">0.6</text>
<line x1="404.3" y1="408.88" x2="406.5" y2="408.88" stroke="#222" stroke-width="0.8"/>
<text x="402.9" y="411.18" font-size="6.4" font-weight="bold" text-anchor="end" fill="#1a1a1a" stroke="#1a1a1a" stroke-width="0.18" textLength="10.81" lengthAdjust="spacingAndGlyphs">0.6</text>
<line x1="491.56" y1="472.9" x2="491.56" y2="475.1" stroke="#222" stroke-width="0.8"/>
<text x="491.56" y="481.6" font-size="6.4" font-weight="bold" text-anchor="middle" fill="#1a1a1a" stroke="#1a1a1a" stroke-width="0.18" textLength="10.81" lengthAdjust="spacingAndGlyphs">0.8</text>
<line x1="404.3" y1="387.54" x2="406.5" y2="387.54" stroke="#222" stroke-width="0.8"/>
<text x="402.9" y="389.84" font-size="6.4" font-weight="bold" text-anchor="end" fill="#1a1a1a" stroke="#1a1a1a" stroke-width="0.18" textLength="10.81" lengthAdjust="spacingAndGlyphs">0.8</text>
<line x1="512.8" y1="472.9" x2="512.8" y2="475.1" stroke="#222" stroke-width="0.8"/>
<text x="512.8" y="481.6" font-size="6.4" font-weight="bold" text-anchor="middle" fill="#1a1a1a" stroke="#1a1a1a" stroke-width="0.18" textLength="10.81" lengthAdjust="spacingAndGlyphs">1.0</text>
<line x1="404.3" y1="366.2" x2="406.5" y2="366.2" stroke="#222" stroke-width="0.8"/>
<text x="402.9" y="368.5" font-size="6.4" font-weight="bold" text-anchor="end" fill="#1a1a1a" stroke="#1a1a1a" stroke-width="0.18" textLength="10.81" lengthAdjust="spacingAndGlyphs">1.0</text>
<text x="458.35" y="357.26" font-size="6.7" font-weight="bold" text-anchor="middle" fill="#1a1a1a" stroke="#1a1a1a" stroke-width="0.18" textLength="78.01" lengthAdjust="spacingAndGlyphs">Precision-recall curves</text>
<text x="457.55" y="492.51" font-size="6.7" font-weight="bold" text-anchor="middle" fill="#1a1a1a" stroke="#1a1a1a" stroke-width="0.18" textLength="64.25" lengthAdjust="spacingAndGlyphs">Recall (sensitivity)</text>
<text x="386.3" y="420.31" font-size="6.7" font-weight="bold" text-anchor="middle" fill="#1a1a1a" transform="rotate(-90 386.3 417.9)" stroke="#1a1a1a" stroke-width="0.18" textLength="31.37" lengthAdjust="spacingAndGlyphs">Precision</text>
<rect x="409.3" y="436.9" width="57.5" height="34.2" rx="1.5" fill="#fff" fill-opacity="0.85" stroke="#d8d8d8" stroke-width="0.7"/>
<line x1="412.1" y1="442.4" x2="426.5" y2="442.4" stroke="#d8323c" stroke-width="1.5"/>
<text x="431.1" y="445.01" font-size="6.7" font-weight="bold" text-anchor="start" fill="#111" stroke="#111" stroke-width="0.18" textLength="33.48" lengthAdjust="spacingAndGlyphs">AUC 1.00</text>
<line x1="412.1" y1="452.7" x2="426.5" y2="452.7" stroke="#4a6db4" stroke-width="1.5"/>
<text x="431.1" y="455.31" font-size="6.7" font-weight="bold" text-anchor="start" fill="#111" stroke="#111" stroke-width="0.18" textLength="33.48" lengthAdjust="spacingAndGlyphs">AUC 0.86</text>
<line x1="412.1" y1="463" x2="426.5" y2="463" stroke="#1f7a3e" stroke-width="1.5"/>
<text x="431.1" y="465.61" font-size="6.7" font-weight="bold" text-anchor="start" fill="#111" stroke="#111" stroke-width="0.18" textLength="33.48" lengthAdjust="spacingAndGlyphs">AUC 0.96</text>
<path d="M280.9 539.45V648.5M256.4 627.16H366.3M302.3 539.45V648.5M256.4 605.82H366.3M323.7 539.45V648.5M256.4 584.48H366.3M345.1 539.45V648.5M256.4 563.14H366.3M256.4 541.8H366.3" stroke="#d0d0d0" stroke-width="0.8" fill="none"/>
<g clip-path="none">
<polyline points="259.5,648.5 259.71,602.62 261,581.28 262.82,567.73 264.96,562.07 267.74,558.34 273.09,556.2 278.44,554.82 283.9,553.75 297.38,552.47 310.86,552.15 316.21,551.83 318.99,551.08 322.95,548.84 326.91,546.71 337.82,544.04 345.96,542.44 353.98,541.8 366.5,541.8" fill="none" stroke="#d8323c" stroke-width="1.5" stroke-linejoin="round"/>
<polyline points="259.5,648.5 259.71,591.95 261,589.81 262.71,589.81 264.85,585.55 267.74,572.74 271.7,559.94 275.76,548.74 278.44,543.4 284.11,541.8 366.5,541.8" fill="none" stroke="#4a6db4" stroke-width="1.5" stroke-linejoin="round"/>
<polyline points="259.5,648.5 259.71,578.61 261,570.61 263.67,563.67 267.74,559.09 274.48,554.82 279.83,551.08 283.9,548.84 291.6,547.78 305.51,546.71 316.21,545 332.26,543.93 342.96,542.87 353.66,542.12 366.5,541.8" fill="none" stroke="#1f7a3e" stroke-width="1.5" stroke-linejoin="round"/>
</g>
<rect x="256.4" y="539.45" width="109.9" height="109.05" fill="none" stroke="#1a1a1a" stroke-width="1.2"/>
<line x1="259.5" y1="648.5" x2="259.5" y2="650.7" stroke="#222" stroke-width="0.8"/>
<text x="259.5" y="657.2" font-size="6.4" font-weight="bold" text-anchor="middle" fill="#1a1a1a" stroke="#1a1a1a" stroke-width="0.18" textLength="10.81" lengthAdjust="spacingAndGlyphs">0.0</text>
<line x1="254.2" y1="648.5" x2="256.4" y2="648.5" stroke="#222" stroke-width="0.8"/>
<text x="252.8" y="650.8" font-size="6.4" font-weight="bold" text-anchor="end" fill="#1a1a1a" stroke="#1a1a1a" stroke-width="0.18" textLength="10.81" lengthAdjust="spacingAndGlyphs">0.0</text>
<line x1="280.9" y1="648.5" x2="280.9" y2="650.7" stroke="#222" stroke-width="0.8"/>
<text x="280.9" y="657.2" font-size="6.4" font-weight="bold" text-anchor="middle" fill="#1a1a1a" stroke="#1a1a1a" stroke-width="0.18" textLength="10.81" lengthAdjust="spacingAndGlyphs">0.2</text>
<line x1="254.2" y1="627.16" x2="256.4" y2="627.16" stroke="#222" stroke-width="0.8"/>
<text x="252.8" y="629.46" font-size="6.4" font-weight="bold" text-anchor="end" fill="#1a1a1a" stroke="#1a1a1a" stroke-width="0.18" textLength="10.81" lengthAdjust="spacingAndGlyphs">0.2</text>
<line x1="302.3" y1="648.5" x2="302.3" y2="650.7" stroke="#222" stroke-width="0.8"/>
<text x="302.3" y="657.2" font-size="6.4" font-weight="bold" text-anchor="middle" fill="#1a1a1a" stroke="#1a1a1a" stroke-width="0.18" textLength="10.81" lengthAdjust="spacingAndGlyphs">0.4</text>
<line x1="254.2" y1="605.82" x2="256.4" y2="605.82" stroke="#222" stroke-width="0.8"/>
<text x="252.8" y="608.12" font-size="6.4" font-weight="bold" text-anchor="end" fill="#1a1a1a" stroke="#1a1a1a" stroke-width="0.18" textLength="10.81" lengthAdjust="spacingAndGlyphs">0.4</text>
<line x1="323.7" y1="648.5" x2="323.7" y2="650.7" stroke="#222" stroke-width="0.8"/>
<text x="323.7" y="657.2" font-size="6.4" font-weight="bold" text-anchor="middle" fill="#1a1a1a" stroke="#1a1a1a" stroke-width="0.18" textLength="10.81" lengthAdjust="spacingAndGlyphs">0.6</text>
<line x1="254.2" y1="584.48" x2="256.4" y2="584.48" stroke="#222" stroke-width="0.8"/>
<text x="252.8" y="586.78" font-size="6.4" font-weight="bold" text-anchor="end" fill="#1a1a1a" stroke="#1a1a1a" stroke-width="0.18" textLength="10.81" lengthAdjust="spacingAndGlyphs">0.6</text>
<line x1="345.1" y1="648.5" x2="345.1" y2="650.7" stroke="#222" stroke-width="0.8"/>
<text x="345.1" y="657.2" font-size="6.4" font-weight="bold" text-anchor="middle" fill="#1a1a1a" stroke="#1a1a1a" stroke-width="0.18" textLength="10.81" lengthAdjust="spacingAndGlyphs">0.8</text>
<line x1="254.2" y1="563.14" x2="256.4" y2="563.14" stroke="#222" stroke-width="0.8"/>
<text x="252.8" y="565.44" font-size="6.4" font-weight="bold" text-anchor="end" fill="#1a1a1a" stroke="#1a1a1a" stroke-width="0.18" textLength="10.81" lengthAdjust="spacingAndGlyphs">0.8</text>
<line x1="366.5" y1="648.5" x2="366.5" y2="650.7" stroke="#222" stroke-width="0.8"/>
<text x="366.5" y="657.2" font-size="6.4" font-weight="bold" text-anchor="middle" fill="#1a1a1a" stroke="#1a1a1a" stroke-width="0.18" textLength="10.81" lengthAdjust="spacingAndGlyphs">1.0</text>
<line x1="254.2" y1="541.8" x2="256.4" y2="541.8" stroke="#222" stroke-width="0.8"/>
<text x="252.8" y="544.1" font-size="6.4" font-weight="bold" text-anchor="end" fill="#1a1a1a" stroke="#1a1a1a" stroke-width="0.18" textLength="10.81" lengthAdjust="spacingAndGlyphs">1.0</text>
<text x="312.85" y="532.86" font-size="6.7" font-weight="bold" text-anchor="middle" fill="#1a1a1a" stroke="#1a1a1a" stroke-width="0.18" textLength="41.12" lengthAdjust="spacingAndGlyphs">ROC curves</text>
<text x="311.35" y="668.11" font-size="6.7" font-weight="bold" text-anchor="middle" fill="#1a1a1a" stroke="#1a1a1a" stroke-width="0.18" textLength="46.5" lengthAdjust="spacingAndGlyphs">1 – specificity</text>
<text x="236.2" y="595.91" font-size="6.7" font-weight="bold" text-anchor="middle" fill="#1a1a1a" transform="rotate(-90 236.2 593.5)" stroke="#1a1a1a" stroke-width="0.18" textLength="36.32" lengthAdjust="spacingAndGlyphs">Sensitivity</text>
<rect x="305" y="612.5" width="57.5" height="34.2" rx="1.5" fill="#fff" fill-opacity="0.85" stroke="#d8d8d8" stroke-width="0.7"/>
<line x1="307.8" y1="618" x2="322.2" y2="618" stroke="#d8323c" stroke-width="1.5"/>
<text x="326.8" y="620.61" font-size="6.7" font-weight="bold" text-anchor="start" fill="#111" stroke="#111" stroke-width="0.18" textLength="33.48" lengthAdjust="spacingAndGlyphs">AUC 0.91</text>
<line x1="307.8" y1="628.3" x2="322.2" y2="628.3" stroke="#4a6db4" stroke-width="1.5"/>
<text x="326.8" y="630.91" font-size="6.7" font-weight="bold" text-anchor="start" fill="#111" stroke="#111" stroke-width="0.18" textLength="33.48" lengthAdjust="spacingAndGlyphs">AUC 0.95</text>
<line x1="307.8" y1="638.6" x2="322.2" y2="638.6" stroke="#1f7a3e" stroke-width="1.5"/>
<text x="326.8" y="641.21" font-size="6.7" font-weight="bold" text-anchor="start" fill="#111" stroke="#111" stroke-width="0.18" textLength="33.48" lengthAdjust="spacingAndGlyphs">AUC 0.94</text>
<path d="M427.84 539.45V648.5M406.5 627.16H515.2M449.08 539.45V648.5M406.5 605.82H515.2M470.32 539.45V648.5M406.5 584.48H515.2M491.56 539.45V648.5M406.5 563.14H515.2M512.8 539.45V648.5M406.5 541.8H515.2" stroke="#d0d0d0" stroke-width="0.8" fill="none"/>
<g clip-path="none">
<polyline points="406.6,541.8 471.38,541.8 482,543.72 493.15,545 498.57,546.92 501.12,552.47 502.71,563.14 506.43,565.81 509.3,567.41 511.74,568.48 512.8,573.81" fill="none" stroke="#d8323c" stroke-width="1.5" stroke-linejoin="round"/>
<polyline points="406.6,541.8 408.09,552.47 408.72,555.03 410.85,549.59 415.1,545.53 423.06,543.72 433.89,542.87 438.46,544.25 450.14,544.79 459.7,545 461.82,546.92 465.01,555.03 466.07,561.75 468.83,571.14 471.38,576.58 476.69,581.92 482.32,587.36 493.15,592.7 501.12,595.47 506.43,596.75 510.68,598.14 512.8,606.25" fill="none" stroke="#4a6db4" stroke-width="1.5" stroke-linejoin="round"/>
<polyline points="406.6,541.8 476.69,541.8 479.88,546.92 482.32,550.98 485.19,555.03 487.74,559.09 490.5,560.37 491.56,564.42 493.15,571.14 495.81,580.64 498.57,584.48 501.12,588.75 503.88,591.42 506.43,600.81 507.91,611.58 509.3,619.69 511.42,627.8 512.8,629.08" fill="none" stroke="#1f7a3e" stroke-width="1.5" stroke-linejoin="round"/>
</g>
<rect x="406.5" y="539.45" width="108.7" height="109.05" fill="none" stroke="#1a1a1a" stroke-width="1.2"/>
<line x1="406.6" y1="648.5" x2="406.6" y2="650.7" stroke="#222" stroke-width="0.8"/>
<text x="406.6" y="657.2" font-size="6.4" font-weight="bold" text-anchor="middle" fill="#1a1a1a" stroke="#1a1a1a" stroke-width="0.18" textLength="10.81" lengthAdjust="spacingAndGlyphs">0.0</text>
<line x1="404.3" y1="648.5" x2="406.5" y2="648.5" stroke="#222" stroke-width="0.8"/>
<text x="402.9" y="650.8" font-size="6.4" font-weight="bold" text-anchor="end" fill="#1a1a1a" stroke="#1a1a1a" stroke-width="0.18" textLength="10.81" lengthAdjust="spacingAndGlyphs">0.0</text>
<line x1="427.84" y1="648.5" x2="427.84" y2="650.7" stroke="#222" stroke-width="0.8"/>
<text x="427.84" y="657.2" font-size="6.4" font-weight="bold" text-anchor="middle" fill="#1a1a1a" stroke="#1a1a1a" stroke-width="0.18" textLength="10.81" lengthAdjust="spacingAndGlyphs">0.2</text>
<line x1="404.3" y1="627.16" x2="406.5" y2="627.16" stroke="#222" stroke-width="0.8"/>
<text x="402.9" y="629.46" font-size="6.4" font-weight="bold" text-anchor="end" fill="#1a1a1a" stroke="#1a1a1a" stroke-width="0.18" textLength="10.81" lengthAdjust="spacingAndGlyphs">0.2</text>
<line x1="449.08" y1="648.5" x2="449.08" y2="650.7" stroke="#222" stroke-width="0.8"/>
<text x="449.08" y="657.2" font-size="6.4" font-weight="bold" text-anchor="middle" fill="#1a1a1a" stroke="#1a1a1a" stroke-width="0.18" textLength="10.81" lengthAdjust="spacingAndGlyphs">0.4</text>
<line x1="404.3" y1="605.82" x2="406.5" y2="605.82" stroke="#222" stroke-width="0.8"/>
<text x="402.9" y="608.12" font-size="6.4" font-weight="bold" text-anchor="end" fill="#1a1a1a" stroke="#1a1a1a" stroke-width="0.18" textLength="10.81" lengthAdjust="spacingAndGlyphs">0.4</text>
<line x1="470.32" y1="648.5" x2="470.32" y2="650.7" stroke="#222" stroke-width="0.8"/>
<text x="470.32" y="657.2" font-size="6.4" font-weight="bold" text-anchor="middle" fill="#1a1a1a" stroke="#1a1a1a" stroke-width="0.18" textLength="10.81" lengthAdjust="spacingAndGlyphs">0.6</text>
<line x1="404.3" y1="584.48" x2="406.5" y2="584.48" stroke="#222" stroke-width="0.8"/>
<text x="402.9" y="586.78" font-size="6.4" font-weight="bold" text-anchor="end" fill="#1a1a1a" stroke="#1a1a1a" stroke-width="0.18" textLength="10.81" lengthAdjust="spacingAndGlyphs">0.6</text>
<line x1="491.56" y1="648.5" x2="491.56" y2="650.7" stroke="#222" stroke-width="0.8"/>
<text x="491.56" y="657.2" font-size="6.4" font-weight="bold" text-anchor="middle" fill="#1a1a1a" stroke="#1a1a1a" stroke-width="0.18" textLength="10.81" lengthAdjust="spacingAndGlyphs">0.8</text>
<line x1="404.3" y1="563.14" x2="406.5" y2="563.14" stroke="#222" stroke-width="0.8"/>
<text x="402.9" y="565.44" font-size="6.4" font-weight="bold" text-anchor="end" fill="#1a1a1a" stroke="#1a1a1a" stroke-width="0.18" textLength="10.81" lengthAdjust="spacingAndGlyphs">0.8</text>
<line x1="512.8" y1="648.5" x2="512.8" y2="650.7" stroke="#222" stroke-width="0.8"/>
<text x="512.8" y="657.2" font-size="6.4" font-weight="bold" text-anchor="middle" fill="#1a1a1a" stroke="#1a1a1a" stroke-width="0.18" textLength="10.81" lengthAdjust="spacingAndGlyphs">1.0</text>
<line x1="404.3" y1="541.8" x2="406.5" y2="541.8" stroke="#222" stroke-width="0.8"/>
<text x="402.9" y="544.1" font-size="6.4" font-weight="bold" text-anchor="end" fill="#1a1a1a" stroke="#1a1a1a" stroke-width="0.18" textLength="10.81" lengthAdjust="spacingAndGlyphs">1.0</text>
<text x="458.35" y="532.86" font-size="6.7" font-weight="bold" text-anchor="middle" fill="#1a1a1a" stroke="#1a1a1a" stroke-width="0.18" textLength="78.01" lengthAdjust="spacingAndGlyphs">Precision-recall curves</text>
<text x="457.55" y="668.11" font-size="6.7" font-weight="bold" text-anchor="middle" fill="#1a1a1a" stroke="#1a1a1a" stroke-width="0.18" textLength="64.25" lengthAdjust="spacingAndGlyphs">Recall (sensitivity)</text>
<text x="386.3" y="595.91" font-size="6.7" font-weight="bold" text-anchor="middle" fill="#1a1a1a" transform="rotate(-90 386.3 593.5)" stroke="#1a1a1a" stroke-width="0.18" textLength="31.37" lengthAdjust="spacingAndGlyphs">Precision</text>
<rect x="409.3" y="612.5" width="57.5" height="34.2" rx="1.5" fill="#fff" fill-opacity="0.85" stroke="#d8d8d8" stroke-width="0.7"/>
<line x1="412.1" y1="618" x2="426.5" y2="618" stroke="#d8323c" stroke-width="1.5"/>
<text x="431.1" y="620.61" font-size="6.7" font-weight="bold" text-anchor="start" fill="#111" stroke="#111" stroke-width="0.18" textLength="33.48" lengthAdjust="spacingAndGlyphs">AUC 0.96</text>
<line x1="412.1" y1="628.3" x2="426.5" y2="628.3" stroke="#4a6db4" stroke-width="1.5"/>
<text x="431.1" y="630.91" font-size="6.7" font-weight="bold" text-anchor="start" fill="#111" stroke="#111" stroke-width="0.18" textLength="33.48" lengthAdjust="spacingAndGlyphs">AUC 0.78</text>
<line x1="412.1" y1="638.6" x2="426.5" y2="638.6" stroke="#1f7a3e" stroke-width="1.5"/>
<text x="431.1" y="641.21" font-size="6.7" font-weight="bold" text-anchor="start" fill="#111" stroke="#111" stroke-width="0.18" textLength="33.48" lengthAdjust="spacingAndGlyphs">AUC 0.88</text>
<rect x="117" y="685.8" width="12.5" height="6.7" fill="#cc2233" stroke="#222" stroke-width="0.9"/>
<text x="135.6" y="691.86" font-size="7.4" font-weight="bold" text-anchor="start" fill="#111" textLength="77.2" lengthAdjust="spacingAndGlyphs">High tumor cellularity</text>
<rect x="242" y="685.8" width="12.5" height="6.7" fill="#2a6fc0" stroke="#222" stroke-width="0.9"/>
<text x="260.6" y="691.86" font-size="7.4" font-weight="bold" text-anchor="start" fill="#111" textLength="56" lengthAdjust="spacingAndGlyphs">Tumor necrosis</text>
<rect x="340.6" y="685.8" width="12.5" height="6.7" fill="#22a34a" stroke="#222" stroke-width="0.9"/>
<text x="359.2" y="691.86" font-size="7.4" font-weight="bold" text-anchor="start" fill="#111" textLength="62" lengthAdjust="spacingAndGlyphs">Tumor infiltration</text>
</svg>
</body></html>
